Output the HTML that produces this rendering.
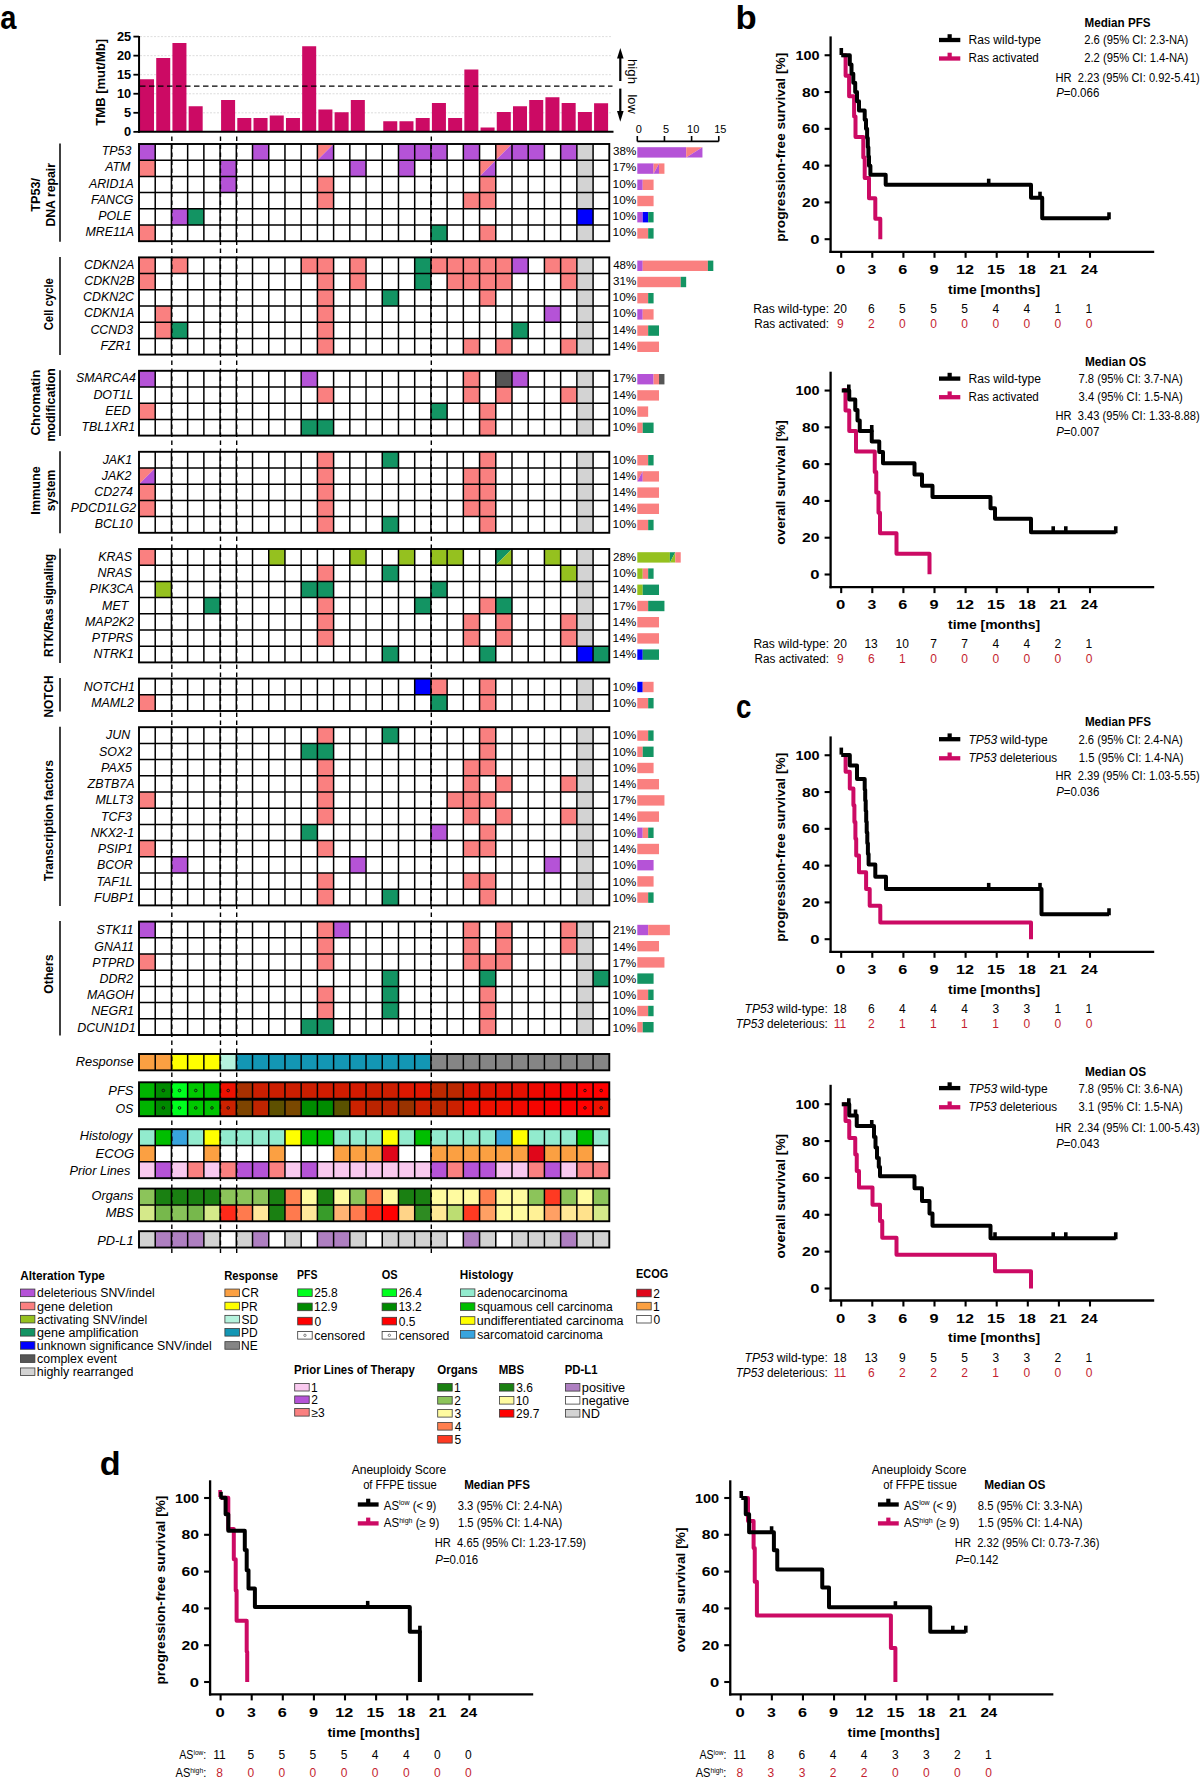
<!DOCTYPE html>
<html><head><meta charset="utf-8"><title>figure</title>
<style>
html,body{margin:0;padding:0;background:#fff;}
svg{display:block;}
text{font-family:"Liberation Sans",sans-serif;}
</style></head>
<body>
<svg width="1200" height="1781" viewBox="0 0 1200 1781" font-family="Liberation Sans, sans-serif">
<rect x="0" y="0" width="1200" height="1781" fill="#fff"/>
<text x="0.13" y="28.75" font-size="33.5" font-weight="bold" textLength="16.18" lengthAdjust="spacingAndGlyphs" xml:space="preserve">a</text>
<line x1="140.00" y1="112.80" x2="612.00" y2="112.80" stroke="#d4d4d4" stroke-width="0.8" stroke-dasharray="2,1.5"/>
<line x1="140.00" y1="93.75" x2="612.00" y2="93.75" stroke="#d4d4d4" stroke-width="0.8" stroke-dasharray="2,1.5"/>
<line x1="140.00" y1="74.70" x2="612.00" y2="74.70" stroke="#d4d4d4" stroke-width="0.8" stroke-dasharray="2,1.5"/>
<line x1="140.00" y1="55.65" x2="612.00" y2="55.65" stroke="#d4d4d4" stroke-width="0.8" stroke-dasharray="2,1.5"/>
<line x1="140.00" y1="36.60" x2="612.00" y2="36.60" stroke="#d4d4d4" stroke-width="0.8" stroke-dasharray="2,1.5"/>
<rect x="140.00" y="79.25" width="14.02" height="52.60" fill="#CC0A64"/>
<rect x="156.22" y="58.00" width="14.02" height="73.85" fill="#CC0A64"/>
<rect x="172.43" y="43.00" width="14.02" height="88.85" fill="#CC0A64"/>
<rect x="188.65" y="106.25" width="14.02" height="25.60" fill="#CC0A64"/>
<rect x="221.08" y="100.00" width="14.02" height="31.85" fill="#CC0A64"/>
<rect x="237.30" y="118.00" width="14.02" height="13.85" fill="#CC0A64"/>
<rect x="253.52" y="118.00" width="14.02" height="13.85" fill="#CC0A64"/>
<rect x="269.74" y="115.50" width="14.02" height="16.35" fill="#CC0A64"/>
<rect x="285.95" y="118.00" width="14.02" height="13.85" fill="#CC0A64"/>
<rect x="302.17" y="46.25" width="14.02" height="85.60" fill="#CC0A64"/>
<rect x="318.39" y="109.50" width="14.02" height="22.35" fill="#CC0A64"/>
<rect x="334.60" y="112.25" width="14.02" height="19.60" fill="#CC0A64"/>
<rect x="350.82" y="100.00" width="14.02" height="31.85" fill="#CC0A64"/>
<rect x="383.25" y="121.25" width="14.02" height="10.60" fill="#CC0A64"/>
<rect x="399.47" y="121.25" width="14.02" height="10.60" fill="#CC0A64"/>
<rect x="415.69" y="118.00" width="14.02" height="13.85" fill="#CC0A64"/>
<rect x="431.91" y="103.00" width="14.02" height="28.85" fill="#CC0A64"/>
<rect x="448.12" y="118.00" width="14.02" height="13.85" fill="#CC0A64"/>
<rect x="464.34" y="69.50" width="14.02" height="62.35" fill="#CC0A64"/>
<rect x="480.56" y="127.50" width="14.02" height="4.35" fill="#CC0A64"/>
<rect x="496.77" y="112.00" width="14.02" height="19.85" fill="#CC0A64"/>
<rect x="512.99" y="106.25" width="14.02" height="25.60" fill="#CC0A64"/>
<rect x="529.21" y="100.00" width="14.02" height="31.85" fill="#CC0A64"/>
<rect x="545.42" y="97.25" width="14.02" height="34.60" fill="#CC0A64"/>
<rect x="561.64" y="103.00" width="14.02" height="28.85" fill="#CC0A64"/>
<rect x="577.86" y="112.00" width="14.02" height="19.85" fill="#CC0A64"/>
<rect x="594.08" y="103.25" width="14.02" height="28.60" fill="#CC0A64"/>
<line x1="140.00" y1="86.13" x2="612.50" y2="86.13" stroke="#000" stroke-width="1.3" stroke-dasharray="5.5,3.5"/>
<line x1="139.05" y1="36.00" x2="139.05" y2="132.80" stroke="#000" stroke-width="2"/>
<line x1="138.10" y1="131.85" x2="613.50" y2="131.85" stroke="#000" stroke-width="2"/>
<line x1="133.40" y1="131.85" x2="139.00" y2="131.85" stroke="#000" stroke-width="1.8"/>
<text x="131.20" y="136.35" font-size="12.8" font-weight="bold" text-anchor="end">0</text>
<line x1="133.40" y1="112.80" x2="139.00" y2="112.80" stroke="#000" stroke-width="1.8"/>
<text x="131.20" y="117.30" font-size="12.8" font-weight="bold" text-anchor="end">5</text>
<line x1="133.40" y1="93.75" x2="139.00" y2="93.75" stroke="#000" stroke-width="1.8"/>
<text x="131.20" y="98.25" font-size="12.8" font-weight="bold" text-anchor="end">10</text>
<line x1="133.40" y1="74.70" x2="139.00" y2="74.70" stroke="#000" stroke-width="1.8"/>
<text x="131.20" y="79.20" font-size="12.8" font-weight="bold" text-anchor="end">15</text>
<line x1="133.40" y1="55.65" x2="139.00" y2="55.65" stroke="#000" stroke-width="1.8"/>
<text x="131.20" y="60.15" font-size="12.8" font-weight="bold" text-anchor="end">20</text>
<line x1="133.40" y1="36.60" x2="139.00" y2="36.60" stroke="#000" stroke-width="1.8"/>
<text x="131.20" y="41.10" font-size="12.8" font-weight="bold" text-anchor="end">25</text>
<text x="105.50" y="82.30" font-size="13" font-weight="bold" text-anchor="middle" transform="rotate(-90 105.50 82.30)">TMB [mut/Mb]</text>
<line x1="620.30" y1="57.00" x2="620.30" y2="81.00" stroke="#000" stroke-width="2.2"/>
<polygon points="617.00,58.60 623.60,58.60 620.30,48.00" fill="#000"/>
<line x1="620.30" y1="88.60" x2="620.30" y2="113.00" stroke="#000" stroke-width="2.2"/>
<polygon points="617.00,111.00 623.60,111.00 620.30,121.80" fill="#000"/>
<g transform="rotate(90 628.0 71.6)"><text x="615.42" y="71.60" font-size="12.8" textLength="25.06" lengthAdjust="spacingAndGlyphs" xml:space="preserve">high</text></g>
<g transform="rotate(90 628.0 104.5)"><text x="617.95" y="104.50" font-size="12.8" textLength="19.26" lengthAdjust="spacingAndGlyphs" xml:space="preserve">low</text></g>
<line x1="637.30" y1="141.40" x2="718.75" y2="141.40" stroke="#000" stroke-width="1.8"/>
<line x1="637.30" y1="136.00" x2="637.30" y2="141.40" stroke="#000" stroke-width="1.6"/>
<text x="638.90" y="133.30" font-size="11" text-anchor="middle">0</text>
<line x1="664.45" y1="136.00" x2="664.45" y2="141.40" stroke="#000" stroke-width="1.6"/>
<text x="666.05" y="133.30" font-size="11" text-anchor="middle">5</text>
<line x1="691.60" y1="136.00" x2="691.60" y2="141.40" stroke="#000" stroke-width="1.6"/>
<text x="693.20" y="133.30" font-size="11" text-anchor="middle">10</text>
<line x1="718.75" y1="136.00" x2="718.75" y2="141.40" stroke="#000" stroke-width="1.6"/>
<text x="720.35" y="133.30" font-size="11" text-anchor="middle">15</text>
<rect x="576.86" y="144.00" width="16.22" height="16.20" fill="#D3D3D3"/>
<rect x="139.00" y="144.00" width="16.22" height="16.20" fill="#B553D7"/>
<rect x="252.52" y="144.00" width="16.22" height="16.20" fill="#B553D7"/>
<polygon points="317.39,144.00 333.60,144.00 317.39,160.20" fill="#FA8080"/>
<polygon points="333.60,144.00 333.60,160.20 317.39,160.20" fill="#B553D7"/>
<rect x="398.47" y="144.00" width="16.22" height="16.20" fill="#B553D7"/>
<rect x="414.69" y="144.00" width="16.22" height="16.20" fill="#B553D7"/>
<rect x="430.91" y="144.00" width="16.22" height="16.20" fill="#B553D7"/>
<rect x="463.34" y="144.00" width="16.22" height="16.20" fill="#B553D7"/>
<polygon points="495.77,144.00 511.99,144.00 495.77,160.20" fill="#FA8080"/>
<polygon points="511.99,144.00 511.99,160.20 495.77,160.20" fill="#B553D7"/>
<rect x="511.99" y="144.00" width="16.22" height="16.20" fill="#B553D7"/>
<rect x="528.21" y="144.00" width="16.22" height="16.20" fill="#B553D7"/>
<rect x="560.64" y="144.00" width="16.22" height="16.20" fill="#B553D7"/>
<rect x="576.86" y="160.20" width="16.22" height="16.20" fill="#D3D3D3"/>
<rect x="139.00" y="160.20" width="16.22" height="16.20" fill="#FA8080"/>
<rect x="220.08" y="160.20" width="16.22" height="16.20" fill="#B553D7"/>
<rect x="349.82" y="160.20" width="16.22" height="16.20" fill="#B553D7"/>
<rect x="398.47" y="160.20" width="16.22" height="16.20" fill="#B553D7"/>
<polygon points="479.56,160.20 495.77,160.20 479.56,176.40" fill="#FA8080"/>
<polygon points="495.77,160.20 495.77,176.40 479.56,176.40" fill="#B553D7"/>
<rect x="576.86" y="176.40" width="16.22" height="16.20" fill="#D3D3D3"/>
<rect x="220.08" y="176.40" width="16.22" height="16.20" fill="#B553D7"/>
<rect x="317.39" y="176.40" width="16.22" height="16.20" fill="#FA8080"/>
<rect x="479.56" y="176.40" width="16.22" height="16.20" fill="#FA8080"/>
<rect x="576.86" y="192.60" width="16.22" height="16.20" fill="#D3D3D3"/>
<rect x="317.39" y="192.60" width="16.22" height="16.20" fill="#FA8080"/>
<rect x="463.34" y="192.60" width="16.22" height="16.20" fill="#FA8080"/>
<rect x="479.56" y="192.60" width="16.22" height="16.20" fill="#FA8080"/>
<rect x="171.43" y="208.80" width="16.22" height="16.20" fill="#B553D7"/>
<rect x="187.65" y="208.80" width="16.22" height="16.20" fill="#139463"/>
<rect x="576.86" y="208.80" width="16.22" height="16.20" fill="#0000FF"/>
<rect x="576.86" y="225.00" width="16.22" height="16.20" fill="#D3D3D3"/>
<rect x="139.00" y="225.00" width="16.22" height="16.20" fill="#FA8080"/>
<rect x="430.91" y="225.00" width="16.22" height="16.20" fill="#139463"/>
<rect x="479.56" y="225.00" width="16.22" height="16.20" fill="#FA8080"/>
<line x1="155.22" y1="144.00" x2="155.22" y2="241.20" stroke="#000" stroke-width="1.5"/>
<line x1="171.43" y1="144.00" x2="171.43" y2="241.20" stroke="#000" stroke-width="1.5"/>
<line x1="187.65" y1="144.00" x2="187.65" y2="241.20" stroke="#000" stroke-width="1.5"/>
<line x1="203.87" y1="144.00" x2="203.87" y2="241.20" stroke="#000" stroke-width="1.5"/>
<line x1="220.08" y1="144.00" x2="220.08" y2="241.20" stroke="#000" stroke-width="1.5"/>
<line x1="236.30" y1="144.00" x2="236.30" y2="241.20" stroke="#000" stroke-width="1.5"/>
<line x1="252.52" y1="144.00" x2="252.52" y2="241.20" stroke="#000" stroke-width="1.5"/>
<line x1="268.74" y1="144.00" x2="268.74" y2="241.20" stroke="#000" stroke-width="1.5"/>
<line x1="284.95" y1="144.00" x2="284.95" y2="241.20" stroke="#000" stroke-width="1.5"/>
<line x1="301.17" y1="144.00" x2="301.17" y2="241.20" stroke="#000" stroke-width="1.5"/>
<line x1="317.39" y1="144.00" x2="317.39" y2="241.20" stroke="#000" stroke-width="1.5"/>
<line x1="333.60" y1="144.00" x2="333.60" y2="241.20" stroke="#000" stroke-width="1.5"/>
<line x1="349.82" y1="144.00" x2="349.82" y2="241.20" stroke="#000" stroke-width="1.5"/>
<line x1="366.04" y1="144.00" x2="366.04" y2="241.20" stroke="#000" stroke-width="1.5"/>
<line x1="382.25" y1="144.00" x2="382.25" y2="241.20" stroke="#000" stroke-width="1.5"/>
<line x1="398.47" y1="144.00" x2="398.47" y2="241.20" stroke="#000" stroke-width="1.5"/>
<line x1="414.69" y1="144.00" x2="414.69" y2="241.20" stroke="#000" stroke-width="1.5"/>
<line x1="430.91" y1="144.00" x2="430.91" y2="241.20" stroke="#000" stroke-width="1.5"/>
<line x1="447.12" y1="144.00" x2="447.12" y2="241.20" stroke="#000" stroke-width="1.5"/>
<line x1="463.34" y1="144.00" x2="463.34" y2="241.20" stroke="#000" stroke-width="1.5"/>
<line x1="479.56" y1="144.00" x2="479.56" y2="241.20" stroke="#000" stroke-width="1.5"/>
<line x1="495.77" y1="144.00" x2="495.77" y2="241.20" stroke="#000" stroke-width="1.5"/>
<line x1="511.99" y1="144.00" x2="511.99" y2="241.20" stroke="#000" stroke-width="1.5"/>
<line x1="528.21" y1="144.00" x2="528.21" y2="241.20" stroke="#000" stroke-width="1.5"/>
<line x1="544.42" y1="144.00" x2="544.42" y2="241.20" stroke="#000" stroke-width="1.5"/>
<line x1="560.64" y1="144.00" x2="560.64" y2="241.20" stroke="#000" stroke-width="1.5"/>
<line x1="576.86" y1="144.00" x2="576.86" y2="241.20" stroke="#000" stroke-width="1.5"/>
<line x1="593.08" y1="144.00" x2="593.08" y2="241.20" stroke="#000" stroke-width="1.5"/>
<line x1="139.00" y1="160.20" x2="609.29" y2="160.20" stroke="#000" stroke-width="1.5"/>
<line x1="139.00" y1="176.40" x2="609.29" y2="176.40" stroke="#000" stroke-width="1.5"/>
<line x1="139.00" y1="192.60" x2="609.29" y2="192.60" stroke="#000" stroke-width="1.5"/>
<line x1="139.00" y1="208.80" x2="609.29" y2="208.80" stroke="#000" stroke-width="1.5"/>
<line x1="139.00" y1="225.00" x2="609.29" y2="225.00" stroke="#000" stroke-width="1.5"/>
<rect x="139.00" y="144.00" width="470.29" height="97.20" fill="none" stroke="#000" stroke-width="1.9"/>
<text x="101.75" y="155.05" font-size="12.4" font-style="italic" xml:space="preserve">TP53</text>
<text x="613.03" y="155.05" font-size="11.2" textLength="23.20" lengthAdjust="spacingAndGlyphs" xml:space="preserve">38%</text>
<rect x="637.30" y="147.20" width="48.87" height="10.40" fill="#B553D7"/>
<polygon points="686.17,147.20 702.46,147.20 686.17,157.60" fill="#FA8080"/>
<polygon points="702.46,147.20 702.46,157.60 686.17,157.60" fill="#B553D7"/>
<text x="105.20" y="171.28" font-size="12.4" font-style="italic" xml:space="preserve">ATM</text>
<text x="612.60" y="171.28" font-size="11.2" textLength="23.64" lengthAdjust="spacingAndGlyphs" xml:space="preserve">17%</text>
<rect x="637.30" y="163.40" width="16.29" height="10.40" fill="#B553D7"/>
<polygon points="653.59,163.40 659.02,163.40 653.59,173.80" fill="#FA8080"/>
<polygon points="659.02,163.40 659.02,173.80 653.59,173.80" fill="#B553D7"/>
<rect x="659.02" y="163.40" width="5.43" height="10.40" fill="#FA8080"/>
<text x="88.90" y="187.52" font-size="12.4" font-style="italic" xml:space="preserve">ARID1A</text>
<text x="612.60" y="187.52" font-size="11.2" textLength="23.64" lengthAdjust="spacingAndGlyphs" xml:space="preserve">10%</text>
<rect x="637.30" y="179.60" width="5.43" height="10.40" fill="#B553D7"/>
<rect x="642.73" y="179.60" width="10.86" height="10.40" fill="#FA8080"/>
<text x="91.05" y="203.75" font-size="12.4" font-style="italic" xml:space="preserve">FANCG</text>
<text x="612.60" y="203.75" font-size="11.2" textLength="23.64" lengthAdjust="spacingAndGlyphs" xml:space="preserve">10%</text>
<rect x="637.30" y="195.80" width="16.29" height="10.40" fill="#FA8080"/>
<text x="98.30" y="219.99" font-size="12.4" font-style="italic" xml:space="preserve">POLE</text>
<text x="612.60" y="219.99" font-size="11.2" textLength="23.64" lengthAdjust="spacingAndGlyphs" xml:space="preserve">10%</text>
<rect x="637.30" y="212.00" width="5.43" height="10.40" fill="#B553D7"/>
<rect x="642.73" y="212.00" width="5.43" height="10.40" fill="#0000FF"/>
<rect x="648.16" y="212.00" width="5.43" height="10.40" fill="#139463"/>
<text x="85.45" y="236.22" font-size="12.4" font-style="italic" xml:space="preserve">MRE11A</text>
<text x="612.60" y="236.22" font-size="11.2" textLength="23.64" lengthAdjust="spacingAndGlyphs" xml:space="preserve">10%</text>
<rect x="637.30" y="228.20" width="10.86" height="10.40" fill="#FA8080"/>
<rect x="648.16" y="228.20" width="5.43" height="10.40" fill="#139463"/>
<line x1="60.00" y1="143.50" x2="60.00" y2="241.70" stroke="#000" stroke-width="1.5"/>
<g transform="rotate(-90 39.50 194.75)"><text x="22.61" y="194.75" font-size="13.4" font-weight="bold" textLength="33.74" lengthAdjust="spacingAndGlyphs" xml:space="preserve">TP53/</text></g>
<g transform="rotate(-90 55.00 194.50)"><text x="22.88" y="194.50" font-size="13.4" font-weight="bold" textLength="63.61" lengthAdjust="spacingAndGlyphs" xml:space="preserve">DNA repair</text></g>
<rect x="576.86" y="257.40" width="16.22" height="16.20" fill="#D3D3D3"/>
<rect x="139.00" y="257.40" width="16.22" height="16.20" fill="#FA8080"/>
<rect x="171.43" y="257.40" width="16.22" height="16.20" fill="#FA8080"/>
<rect x="301.17" y="257.40" width="16.22" height="16.20" fill="#FA8080"/>
<rect x="317.39" y="257.40" width="16.22" height="16.20" fill="#FA8080"/>
<rect x="349.82" y="257.40" width="16.22" height="16.20" fill="#FA8080"/>
<rect x="414.69" y="257.40" width="16.22" height="16.20" fill="#139463"/>
<rect x="430.91" y="257.40" width="16.22" height="16.20" fill="#FA8080"/>
<rect x="447.12" y="257.40" width="16.22" height="16.20" fill="#FA8080"/>
<rect x="463.34" y="257.40" width="16.22" height="16.20" fill="#FA8080"/>
<rect x="479.56" y="257.40" width="16.22" height="16.20" fill="#FA8080"/>
<rect x="495.77" y="257.40" width="16.22" height="16.20" fill="#FA8080"/>
<rect x="511.99" y="257.40" width="16.22" height="16.20" fill="#B553D7"/>
<rect x="544.42" y="257.40" width="16.22" height="16.20" fill="#FA8080"/>
<rect x="560.64" y="257.40" width="16.22" height="16.20" fill="#FA8080"/>
<rect x="576.86" y="273.60" width="16.22" height="16.20" fill="#D3D3D3"/>
<rect x="139.00" y="273.60" width="16.22" height="16.20" fill="#FA8080"/>
<rect x="317.39" y="273.60" width="16.22" height="16.20" fill="#FA8080"/>
<rect x="349.82" y="273.60" width="16.22" height="16.20" fill="#FA8080"/>
<rect x="414.69" y="273.60" width="16.22" height="16.20" fill="#139463"/>
<rect x="447.12" y="273.60" width="16.22" height="16.20" fill="#FA8080"/>
<rect x="463.34" y="273.60" width="16.22" height="16.20" fill="#FA8080"/>
<rect x="479.56" y="273.60" width="16.22" height="16.20" fill="#FA8080"/>
<rect x="495.77" y="273.60" width="16.22" height="16.20" fill="#FA8080"/>
<rect x="560.64" y="273.60" width="16.22" height="16.20" fill="#FA8080"/>
<rect x="576.86" y="289.80" width="16.22" height="16.20" fill="#D3D3D3"/>
<rect x="317.39" y="289.80" width="16.22" height="16.20" fill="#FA8080"/>
<rect x="382.25" y="289.80" width="16.22" height="16.20" fill="#139463"/>
<rect x="479.56" y="289.80" width="16.22" height="16.20" fill="#FA8080"/>
<rect x="576.86" y="306.00" width="16.22" height="16.20" fill="#D3D3D3"/>
<rect x="155.22" y="306.00" width="16.22" height="16.20" fill="#FA8080"/>
<rect x="317.39" y="306.00" width="16.22" height="16.20" fill="#FA8080"/>
<rect x="544.42" y="306.00" width="16.22" height="16.20" fill="#B553D7"/>
<rect x="576.86" y="322.20" width="16.22" height="16.20" fill="#D3D3D3"/>
<rect x="155.22" y="322.20" width="16.22" height="16.20" fill="#FA8080"/>
<rect x="171.43" y="322.20" width="16.22" height="16.20" fill="#139463"/>
<rect x="317.39" y="322.20" width="16.22" height="16.20" fill="#FA8080"/>
<rect x="511.99" y="322.20" width="16.22" height="16.20" fill="#139463"/>
<rect x="576.86" y="338.40" width="16.22" height="16.20" fill="#D3D3D3"/>
<rect x="317.39" y="338.40" width="16.22" height="16.20" fill="#FA8080"/>
<rect x="463.34" y="338.40" width="16.22" height="16.20" fill="#FA8080"/>
<rect x="495.77" y="338.40" width="16.22" height="16.20" fill="#FA8080"/>
<rect x="560.64" y="338.40" width="16.22" height="16.20" fill="#FA8080"/>
<line x1="155.22" y1="257.40" x2="155.22" y2="354.60" stroke="#000" stroke-width="1.5"/>
<line x1="171.43" y1="257.40" x2="171.43" y2="354.60" stroke="#000" stroke-width="1.5"/>
<line x1="187.65" y1="257.40" x2="187.65" y2="354.60" stroke="#000" stroke-width="1.5"/>
<line x1="203.87" y1="257.40" x2="203.87" y2="354.60" stroke="#000" stroke-width="1.5"/>
<line x1="220.08" y1="257.40" x2="220.08" y2="354.60" stroke="#000" stroke-width="1.5"/>
<line x1="236.30" y1="257.40" x2="236.30" y2="354.60" stroke="#000" stroke-width="1.5"/>
<line x1="252.52" y1="257.40" x2="252.52" y2="354.60" stroke="#000" stroke-width="1.5"/>
<line x1="268.74" y1="257.40" x2="268.74" y2="354.60" stroke="#000" stroke-width="1.5"/>
<line x1="284.95" y1="257.40" x2="284.95" y2="354.60" stroke="#000" stroke-width="1.5"/>
<line x1="301.17" y1="257.40" x2="301.17" y2="354.60" stroke="#000" stroke-width="1.5"/>
<line x1="317.39" y1="257.40" x2="317.39" y2="354.60" stroke="#000" stroke-width="1.5"/>
<line x1="333.60" y1="257.40" x2="333.60" y2="354.60" stroke="#000" stroke-width="1.5"/>
<line x1="349.82" y1="257.40" x2="349.82" y2="354.60" stroke="#000" stroke-width="1.5"/>
<line x1="366.04" y1="257.40" x2="366.04" y2="354.60" stroke="#000" stroke-width="1.5"/>
<line x1="382.25" y1="257.40" x2="382.25" y2="354.60" stroke="#000" stroke-width="1.5"/>
<line x1="398.47" y1="257.40" x2="398.47" y2="354.60" stroke="#000" stroke-width="1.5"/>
<line x1="414.69" y1="257.40" x2="414.69" y2="354.60" stroke="#000" stroke-width="1.5"/>
<line x1="430.91" y1="257.40" x2="430.91" y2="354.60" stroke="#000" stroke-width="1.5"/>
<line x1="447.12" y1="257.40" x2="447.12" y2="354.60" stroke="#000" stroke-width="1.5"/>
<line x1="463.34" y1="257.40" x2="463.34" y2="354.60" stroke="#000" stroke-width="1.5"/>
<line x1="479.56" y1="257.40" x2="479.56" y2="354.60" stroke="#000" stroke-width="1.5"/>
<line x1="495.77" y1="257.40" x2="495.77" y2="354.60" stroke="#000" stroke-width="1.5"/>
<line x1="511.99" y1="257.40" x2="511.99" y2="354.60" stroke="#000" stroke-width="1.5"/>
<line x1="528.21" y1="257.40" x2="528.21" y2="354.60" stroke="#000" stroke-width="1.5"/>
<line x1="544.42" y1="257.40" x2="544.42" y2="354.60" stroke="#000" stroke-width="1.5"/>
<line x1="560.64" y1="257.40" x2="560.64" y2="354.60" stroke="#000" stroke-width="1.5"/>
<line x1="576.86" y1="257.40" x2="576.86" y2="354.60" stroke="#000" stroke-width="1.5"/>
<line x1="593.08" y1="257.40" x2="593.08" y2="354.60" stroke="#000" stroke-width="1.5"/>
<line x1="139.00" y1="273.60" x2="609.29" y2="273.60" stroke="#000" stroke-width="1.5"/>
<line x1="139.00" y1="289.80" x2="609.29" y2="289.80" stroke="#000" stroke-width="1.5"/>
<line x1="139.00" y1="306.00" x2="609.29" y2="306.00" stroke="#000" stroke-width="1.5"/>
<line x1="139.00" y1="322.20" x2="609.29" y2="322.20" stroke="#000" stroke-width="1.5"/>
<line x1="139.00" y1="338.40" x2="609.29" y2="338.40" stroke="#000" stroke-width="1.5"/>
<rect x="139.00" y="257.40" width="470.29" height="97.20" fill="none" stroke="#000" stroke-width="1.9"/>
<text x="83.95" y="268.69" font-size="12.4" font-style="italic" xml:space="preserve">CDKN2A</text>
<text x="613.24" y="268.69" font-size="11.2" textLength="22.98" lengthAdjust="spacingAndGlyphs" xml:space="preserve">48%</text>
<rect x="637.30" y="260.60" width="5.43" height="10.40" fill="#B553D7"/>
<rect x="642.73" y="260.60" width="65.16" height="10.40" fill="#FA8080"/>
<rect x="707.89" y="260.60" width="5.43" height="10.40" fill="#139463"/>
<text x="84.20" y="284.92" font-size="12.4" font-style="italic" xml:space="preserve">CDKN2B</text>
<text x="613.03" y="284.92" font-size="11.2" textLength="23.20" lengthAdjust="spacingAndGlyphs" xml:space="preserve">31%</text>
<rect x="637.30" y="276.80" width="43.44" height="10.40" fill="#FA8080"/>
<rect x="680.74" y="276.80" width="5.43" height="10.40" fill="#139463"/>
<text x="83.05" y="301.16" font-size="12.4" font-style="italic" xml:space="preserve">CDKN2C</text>
<text x="612.60" y="301.16" font-size="11.2" textLength="23.64" lengthAdjust="spacingAndGlyphs" xml:space="preserve">10%</text>
<rect x="637.30" y="293.00" width="10.86" height="10.40" fill="#FA8080"/>
<rect x="648.16" y="293.00" width="5.43" height="10.40" fill="#139463"/>
<text x="83.95" y="317.39" font-size="12.4" font-style="italic" xml:space="preserve">CDKN1A</text>
<text x="612.60" y="317.39" font-size="11.2" textLength="23.64" lengthAdjust="spacingAndGlyphs" xml:space="preserve">10%</text>
<rect x="637.30" y="309.20" width="5.43" height="10.40" fill="#B553D7"/>
<rect x="642.73" y="309.20" width="10.86" height="10.40" fill="#FA8080"/>
<text x="90.40" y="333.63" font-size="12.4" font-style="italic" xml:space="preserve">CCND3</text>
<text x="612.60" y="333.63" font-size="11.2" textLength="23.64" lengthAdjust="spacingAndGlyphs" xml:space="preserve">14%</text>
<rect x="637.30" y="325.40" width="10.86" height="10.40" fill="#FA8080"/>
<rect x="648.16" y="325.40" width="10.86" height="10.40" fill="#139463"/>
<text x="100.45" y="349.86" font-size="12.4" font-style="italic" xml:space="preserve">FZR1</text>
<text x="612.60" y="349.86" font-size="11.2" textLength="23.64" lengthAdjust="spacingAndGlyphs" xml:space="preserve">14%</text>
<rect x="637.30" y="341.60" width="21.72" height="10.40" fill="#FA8080"/>
<line x1="60.00" y1="256.90" x2="60.00" y2="355.10" stroke="#000" stroke-width="1.5"/>
<g transform="rotate(-90 53.30 304.20)"><text x="27.19" y="304.20" font-size="13.4" font-weight="bold" textLength="52.13" lengthAdjust="spacingAndGlyphs" xml:space="preserve">Cell cycle</text></g>
<rect x="576.86" y="370.80" width="16.22" height="16.20" fill="#D3D3D3"/>
<rect x="139.00" y="370.80" width="16.22" height="16.20" fill="#B553D7"/>
<rect x="301.17" y="370.80" width="16.22" height="16.20" fill="#B553D7"/>
<rect x="463.34" y="370.80" width="16.22" height="16.20" fill="#FA8080"/>
<rect x="495.77" y="370.80" width="16.22" height="16.20" fill="#555555"/>
<rect x="511.99" y="370.80" width="16.22" height="16.20" fill="#B553D7"/>
<rect x="576.86" y="387.00" width="16.22" height="16.20" fill="#D3D3D3"/>
<rect x="317.39" y="387.00" width="16.22" height="16.20" fill="#FA8080"/>
<rect x="463.34" y="387.00" width="16.22" height="16.20" fill="#FA8080"/>
<rect x="495.77" y="387.00" width="16.22" height="16.20" fill="#FA8080"/>
<rect x="560.64" y="387.00" width="16.22" height="16.20" fill="#FA8080"/>
<rect x="576.86" y="403.20" width="16.22" height="16.20" fill="#D3D3D3"/>
<rect x="139.00" y="403.20" width="16.22" height="16.20" fill="#FA8080"/>
<rect x="430.91" y="403.20" width="16.22" height="16.20" fill="#139463"/>
<rect x="479.56" y="403.20" width="16.22" height="16.20" fill="#FA8080"/>
<rect x="576.86" y="419.40" width="16.22" height="16.20" fill="#D3D3D3"/>
<rect x="301.17" y="419.40" width="16.22" height="16.20" fill="#139463"/>
<rect x="317.39" y="419.40" width="16.22" height="16.20" fill="#139463"/>
<rect x="479.56" y="419.40" width="16.22" height="16.20" fill="#FA8080"/>
<line x1="155.22" y1="370.80" x2="155.22" y2="435.60" stroke="#000" stroke-width="1.5"/>
<line x1="171.43" y1="370.80" x2="171.43" y2="435.60" stroke="#000" stroke-width="1.5"/>
<line x1="187.65" y1="370.80" x2="187.65" y2="435.60" stroke="#000" stroke-width="1.5"/>
<line x1="203.87" y1="370.80" x2="203.87" y2="435.60" stroke="#000" stroke-width="1.5"/>
<line x1="220.08" y1="370.80" x2="220.08" y2="435.60" stroke="#000" stroke-width="1.5"/>
<line x1="236.30" y1="370.80" x2="236.30" y2="435.60" stroke="#000" stroke-width="1.5"/>
<line x1="252.52" y1="370.80" x2="252.52" y2="435.60" stroke="#000" stroke-width="1.5"/>
<line x1="268.74" y1="370.80" x2="268.74" y2="435.60" stroke="#000" stroke-width="1.5"/>
<line x1="284.95" y1="370.80" x2="284.95" y2="435.60" stroke="#000" stroke-width="1.5"/>
<line x1="301.17" y1="370.80" x2="301.17" y2="435.60" stroke="#000" stroke-width="1.5"/>
<line x1="317.39" y1="370.80" x2="317.39" y2="435.60" stroke="#000" stroke-width="1.5"/>
<line x1="333.60" y1="370.80" x2="333.60" y2="435.60" stroke="#000" stroke-width="1.5"/>
<line x1="349.82" y1="370.80" x2="349.82" y2="435.60" stroke="#000" stroke-width="1.5"/>
<line x1="366.04" y1="370.80" x2="366.04" y2="435.60" stroke="#000" stroke-width="1.5"/>
<line x1="382.25" y1="370.80" x2="382.25" y2="435.60" stroke="#000" stroke-width="1.5"/>
<line x1="398.47" y1="370.80" x2="398.47" y2="435.60" stroke="#000" stroke-width="1.5"/>
<line x1="414.69" y1="370.80" x2="414.69" y2="435.60" stroke="#000" stroke-width="1.5"/>
<line x1="430.91" y1="370.80" x2="430.91" y2="435.60" stroke="#000" stroke-width="1.5"/>
<line x1="447.12" y1="370.80" x2="447.12" y2="435.60" stroke="#000" stroke-width="1.5"/>
<line x1="463.34" y1="370.80" x2="463.34" y2="435.60" stroke="#000" stroke-width="1.5"/>
<line x1="479.56" y1="370.80" x2="479.56" y2="435.60" stroke="#000" stroke-width="1.5"/>
<line x1="495.77" y1="370.80" x2="495.77" y2="435.60" stroke="#000" stroke-width="1.5"/>
<line x1="511.99" y1="370.80" x2="511.99" y2="435.60" stroke="#000" stroke-width="1.5"/>
<line x1="528.21" y1="370.80" x2="528.21" y2="435.60" stroke="#000" stroke-width="1.5"/>
<line x1="544.42" y1="370.80" x2="544.42" y2="435.60" stroke="#000" stroke-width="1.5"/>
<line x1="560.64" y1="370.80" x2="560.64" y2="435.60" stroke="#000" stroke-width="1.5"/>
<line x1="576.86" y1="370.80" x2="576.86" y2="435.60" stroke="#000" stroke-width="1.5"/>
<line x1="593.08" y1="370.80" x2="593.08" y2="435.60" stroke="#000" stroke-width="1.5"/>
<line x1="139.00" y1="387.00" x2="609.29" y2="387.00" stroke="#000" stroke-width="1.5"/>
<line x1="139.00" y1="403.20" x2="609.29" y2="403.20" stroke="#000" stroke-width="1.5"/>
<line x1="139.00" y1="419.40" x2="609.29" y2="419.40" stroke="#000" stroke-width="1.5"/>
<rect x="139.00" y="370.80" width="470.29" height="64.80" fill="none" stroke="#000" stroke-width="1.9"/>
<text x="75.90" y="382.33" font-size="12.4" font-style="italic" xml:space="preserve">SMARCA4</text>
<text x="612.60" y="382.33" font-size="11.2" textLength="23.64" lengthAdjust="spacingAndGlyphs" xml:space="preserve">17%</text>
<rect x="637.30" y="374.00" width="16.29" height="10.40" fill="#B553D7"/>
<rect x="653.59" y="374.00" width="5.43" height="10.40" fill="#FA8080"/>
<rect x="659.02" y="374.00" width="5.43" height="10.40" fill="#555555"/>
<text x="93.40" y="398.56" font-size="12.4" font-style="italic" xml:space="preserve">DOT1L</text>
<text x="612.60" y="398.56" font-size="11.2" textLength="23.64" lengthAdjust="spacingAndGlyphs" xml:space="preserve">14%</text>
<rect x="637.30" y="390.20" width="21.72" height="10.40" fill="#FA8080"/>
<text x="105.30" y="414.80" font-size="12.4" font-style="italic" xml:space="preserve">EED</text>
<text x="612.60" y="414.80" font-size="11.2" textLength="23.64" lengthAdjust="spacingAndGlyphs" xml:space="preserve">10%</text>
<rect x="637.30" y="406.40" width="10.86" height="10.40" fill="#FA8080"/>
<text x="81.40" y="431.03" font-size="12.4" font-style="italic" xml:space="preserve">TBL1XR1</text>
<text x="612.60" y="431.03" font-size="11.2" textLength="23.64" lengthAdjust="spacingAndGlyphs" xml:space="preserve">10%</text>
<rect x="637.30" y="422.60" width="5.43" height="10.40" fill="#FA8080"/>
<rect x="642.73" y="422.60" width="10.86" height="10.40" fill="#139463"/>
<line x1="60.00" y1="370.30" x2="60.00" y2="436.10" stroke="#000" stroke-width="1.5"/>
<g transform="rotate(-90 40.40 402.70)"><text x="7.66" y="402.70" font-size="13.4" font-weight="bold" textLength="65.77" lengthAdjust="spacingAndGlyphs" xml:space="preserve">Chromatin</text></g>
<g transform="rotate(-90 55.00 404.75)"><text x="18.32" y="404.75" font-size="13.4" font-weight="bold" textLength="73.31" lengthAdjust="spacingAndGlyphs" xml:space="preserve">modification</text></g>
<rect x="576.86" y="451.80" width="16.22" height="16.20" fill="#D3D3D3"/>
<rect x="317.39" y="451.80" width="16.22" height="16.20" fill="#FA8080"/>
<rect x="382.25" y="451.80" width="16.22" height="16.20" fill="#139463"/>
<rect x="479.56" y="451.80" width="16.22" height="16.20" fill="#FA8080"/>
<rect x="576.86" y="468.00" width="16.22" height="16.20" fill="#D3D3D3"/>
<polygon points="139.00,468.00 155.22,468.00 139.00,484.20" fill="#FA8080"/>
<polygon points="155.22,468.00 155.22,484.20 139.00,484.20" fill="#B553D7"/>
<rect x="317.39" y="468.00" width="16.22" height="16.20" fill="#FA8080"/>
<rect x="463.34" y="468.00" width="16.22" height="16.20" fill="#FA8080"/>
<rect x="479.56" y="468.00" width="16.22" height="16.20" fill="#FA8080"/>
<rect x="576.86" y="484.20" width="16.22" height="16.20" fill="#D3D3D3"/>
<rect x="139.00" y="484.20" width="16.22" height="16.20" fill="#FA8080"/>
<rect x="317.39" y="484.20" width="16.22" height="16.20" fill="#FA8080"/>
<rect x="463.34" y="484.20" width="16.22" height="16.20" fill="#FA8080"/>
<rect x="479.56" y="484.20" width="16.22" height="16.20" fill="#FA8080"/>
<rect x="576.86" y="500.40" width="16.22" height="16.20" fill="#D3D3D3"/>
<rect x="139.00" y="500.40" width="16.22" height="16.20" fill="#FA8080"/>
<rect x="317.39" y="500.40" width="16.22" height="16.20" fill="#FA8080"/>
<rect x="463.34" y="500.40" width="16.22" height="16.20" fill="#FA8080"/>
<rect x="479.56" y="500.40" width="16.22" height="16.20" fill="#FA8080"/>
<rect x="576.86" y="516.60" width="16.22" height="16.20" fill="#D3D3D3"/>
<rect x="317.39" y="516.60" width="16.22" height="16.20" fill="#FA8080"/>
<rect x="382.25" y="516.60" width="16.22" height="16.20" fill="#139463"/>
<rect x="479.56" y="516.60" width="16.22" height="16.20" fill="#FA8080"/>
<line x1="155.22" y1="451.80" x2="155.22" y2="532.80" stroke="#000" stroke-width="1.5"/>
<line x1="171.43" y1="451.80" x2="171.43" y2="532.80" stroke="#000" stroke-width="1.5"/>
<line x1="187.65" y1="451.80" x2="187.65" y2="532.80" stroke="#000" stroke-width="1.5"/>
<line x1="203.87" y1="451.80" x2="203.87" y2="532.80" stroke="#000" stroke-width="1.5"/>
<line x1="220.08" y1="451.80" x2="220.08" y2="532.80" stroke="#000" stroke-width="1.5"/>
<line x1="236.30" y1="451.80" x2="236.30" y2="532.80" stroke="#000" stroke-width="1.5"/>
<line x1="252.52" y1="451.80" x2="252.52" y2="532.80" stroke="#000" stroke-width="1.5"/>
<line x1="268.74" y1="451.80" x2="268.74" y2="532.80" stroke="#000" stroke-width="1.5"/>
<line x1="284.95" y1="451.80" x2="284.95" y2="532.80" stroke="#000" stroke-width="1.5"/>
<line x1="301.17" y1="451.80" x2="301.17" y2="532.80" stroke="#000" stroke-width="1.5"/>
<line x1="317.39" y1="451.80" x2="317.39" y2="532.80" stroke="#000" stroke-width="1.5"/>
<line x1="333.60" y1="451.80" x2="333.60" y2="532.80" stroke="#000" stroke-width="1.5"/>
<line x1="349.82" y1="451.80" x2="349.82" y2="532.80" stroke="#000" stroke-width="1.5"/>
<line x1="366.04" y1="451.80" x2="366.04" y2="532.80" stroke="#000" stroke-width="1.5"/>
<line x1="382.25" y1="451.80" x2="382.25" y2="532.80" stroke="#000" stroke-width="1.5"/>
<line x1="398.47" y1="451.80" x2="398.47" y2="532.80" stroke="#000" stroke-width="1.5"/>
<line x1="414.69" y1="451.80" x2="414.69" y2="532.80" stroke="#000" stroke-width="1.5"/>
<line x1="430.91" y1="451.80" x2="430.91" y2="532.80" stroke="#000" stroke-width="1.5"/>
<line x1="447.12" y1="451.80" x2="447.12" y2="532.80" stroke="#000" stroke-width="1.5"/>
<line x1="463.34" y1="451.80" x2="463.34" y2="532.80" stroke="#000" stroke-width="1.5"/>
<line x1="479.56" y1="451.80" x2="479.56" y2="532.80" stroke="#000" stroke-width="1.5"/>
<line x1="495.77" y1="451.80" x2="495.77" y2="532.80" stroke="#000" stroke-width="1.5"/>
<line x1="511.99" y1="451.80" x2="511.99" y2="532.80" stroke="#000" stroke-width="1.5"/>
<line x1="528.21" y1="451.80" x2="528.21" y2="532.80" stroke="#000" stroke-width="1.5"/>
<line x1="544.42" y1="451.80" x2="544.42" y2="532.80" stroke="#000" stroke-width="1.5"/>
<line x1="560.64" y1="451.80" x2="560.64" y2="532.80" stroke="#000" stroke-width="1.5"/>
<line x1="576.86" y1="451.80" x2="576.86" y2="532.80" stroke="#000" stroke-width="1.5"/>
<line x1="593.08" y1="451.80" x2="593.08" y2="532.80" stroke="#000" stroke-width="1.5"/>
<line x1="139.00" y1="468.00" x2="609.29" y2="468.00" stroke="#000" stroke-width="1.5"/>
<line x1="139.00" y1="484.20" x2="609.29" y2="484.20" stroke="#000" stroke-width="1.5"/>
<line x1="139.00" y1="500.40" x2="609.29" y2="500.40" stroke="#000" stroke-width="1.5"/>
<line x1="139.00" y1="516.60" x2="609.29" y2="516.60" stroke="#000" stroke-width="1.5"/>
<rect x="139.00" y="451.80" width="470.29" height="81.00" fill="none" stroke="#000" stroke-width="1.9"/>
<text x="102.65" y="463.50" font-size="12.4" font-style="italic" xml:space="preserve">JAK1</text>
<text x="612.60" y="463.50" font-size="11.2" textLength="23.64" lengthAdjust="spacingAndGlyphs" xml:space="preserve">10%</text>
<rect x="637.30" y="455.00" width="10.86" height="10.40" fill="#FA8080"/>
<rect x="648.16" y="455.00" width="5.43" height="10.40" fill="#139463"/>
<text x="101.80" y="479.74" font-size="12.4" font-style="italic" xml:space="preserve">JAK2</text>
<text x="612.60" y="479.74" font-size="11.2" textLength="23.64" lengthAdjust="spacingAndGlyphs" xml:space="preserve">14%</text>
<polygon points="637.30,471.20 642.73,471.20 637.30,481.60" fill="#FA8080"/>
<polygon points="642.73,471.20 642.73,481.60 637.30,481.60" fill="#B553D7"/>
<rect x="642.73" y="471.20" width="16.29" height="10.40" fill="#FA8080"/>
<text x="94.35" y="495.97" font-size="12.4" font-style="italic" xml:space="preserve">CD274</text>
<text x="612.60" y="495.97" font-size="11.2" textLength="23.64" lengthAdjust="spacingAndGlyphs" xml:space="preserve">14%</text>
<rect x="637.30" y="487.40" width="21.72" height="10.40" fill="#FA8080"/>
<text x="70.75" y="512.20" font-size="12.4" font-style="italic" xml:space="preserve">PDCD1LG2</text>
<text x="612.60" y="512.20" font-size="11.2" textLength="23.64" lengthAdjust="spacingAndGlyphs" xml:space="preserve">14%</text>
<rect x="637.30" y="503.60" width="21.72" height="10.40" fill="#FA8080"/>
<text x="94.70" y="528.44" font-size="12.4" font-style="italic" xml:space="preserve">BCL10</text>
<text x="612.60" y="528.44" font-size="11.2" textLength="23.64" lengthAdjust="spacingAndGlyphs" xml:space="preserve">10%</text>
<rect x="637.30" y="519.80" width="10.86" height="10.40" fill="#FA8080"/>
<rect x="648.16" y="519.80" width="5.43" height="10.40" fill="#139463"/>
<line x1="60.00" y1="451.30" x2="60.00" y2="533.30" stroke="#000" stroke-width="1.5"/>
<g transform="rotate(-90 40.40 490.20)"><text x="15.95" y="490.20" font-size="13.4" font-weight="bold" textLength="48.50" lengthAdjust="spacingAndGlyphs" xml:space="preserve">Immune</text></g>
<g transform="rotate(-90 55.00 490.70)"><text x="34.55" y="490.70" font-size="13.4" font-weight="bold" textLength="41.19" lengthAdjust="spacingAndGlyphs" xml:space="preserve">system</text></g>
<rect x="576.86" y="549.00" width="16.22" height="16.20" fill="#D3D3D3"/>
<rect x="139.00" y="549.00" width="16.22" height="16.20" fill="#FA8080"/>
<rect x="268.74" y="549.00" width="16.22" height="16.20" fill="#95C11F"/>
<rect x="349.82" y="549.00" width="16.22" height="16.20" fill="#95C11F"/>
<rect x="398.47" y="549.00" width="16.22" height="16.20" fill="#95C11F"/>
<rect x="430.91" y="549.00" width="16.22" height="16.20" fill="#95C11F"/>
<rect x="447.12" y="549.00" width="16.22" height="16.20" fill="#95C11F"/>
<polygon points="495.77,549.00 511.99,549.00 495.77,565.20" fill="#139463"/>
<polygon points="511.99,549.00 511.99,565.20 495.77,565.20" fill="#95C11F"/>
<rect x="544.42" y="549.00" width="16.22" height="16.20" fill="#95C11F"/>
<rect x="576.86" y="565.20" width="16.22" height="16.20" fill="#D3D3D3"/>
<rect x="317.39" y="565.20" width="16.22" height="16.20" fill="#FA8080"/>
<rect x="382.25" y="565.20" width="16.22" height="16.20" fill="#139463"/>
<rect x="560.64" y="565.20" width="16.22" height="16.20" fill="#95C11F"/>
<rect x="576.86" y="581.40" width="16.22" height="16.20" fill="#D3D3D3"/>
<rect x="155.22" y="581.40" width="16.22" height="16.20" fill="#95C11F"/>
<rect x="301.17" y="581.40" width="16.22" height="16.20" fill="#139463"/>
<rect x="317.39" y="581.40" width="16.22" height="16.20" fill="#139463"/>
<rect x="430.91" y="581.40" width="16.22" height="16.20" fill="#139463"/>
<rect x="576.86" y="597.60" width="16.22" height="16.20" fill="#D3D3D3"/>
<rect x="203.87" y="597.60" width="16.22" height="16.20" fill="#139463"/>
<rect x="317.39" y="597.60" width="16.22" height="16.20" fill="#FA8080"/>
<rect x="414.69" y="597.60" width="16.22" height="16.20" fill="#139463"/>
<rect x="479.56" y="597.60" width="16.22" height="16.20" fill="#FA8080"/>
<rect x="495.77" y="597.60" width="16.22" height="16.20" fill="#139463"/>
<rect x="576.86" y="613.80" width="16.22" height="16.20" fill="#D3D3D3"/>
<rect x="317.39" y="613.80" width="16.22" height="16.20" fill="#FA8080"/>
<rect x="463.34" y="613.80" width="16.22" height="16.20" fill="#FA8080"/>
<rect x="495.77" y="613.80" width="16.22" height="16.20" fill="#FA8080"/>
<rect x="560.64" y="613.80" width="16.22" height="16.20" fill="#FA8080"/>
<rect x="576.86" y="630.00" width="16.22" height="16.20" fill="#D3D3D3"/>
<rect x="317.39" y="630.00" width="16.22" height="16.20" fill="#FA8080"/>
<rect x="463.34" y="630.00" width="16.22" height="16.20" fill="#FA8080"/>
<rect x="495.77" y="630.00" width="16.22" height="16.20" fill="#FA8080"/>
<rect x="560.64" y="630.00" width="16.22" height="16.20" fill="#FA8080"/>
<rect x="382.25" y="646.20" width="16.22" height="16.20" fill="#139463"/>
<rect x="479.56" y="646.20" width="16.22" height="16.20" fill="#139463"/>
<rect x="576.86" y="646.20" width="16.22" height="16.20" fill="#0000FF"/>
<rect x="593.08" y="646.20" width="16.22" height="16.20" fill="#139463"/>
<line x1="155.22" y1="549.00" x2="155.22" y2="662.40" stroke="#000" stroke-width="1.5"/>
<line x1="171.43" y1="549.00" x2="171.43" y2="662.40" stroke="#000" stroke-width="1.5"/>
<line x1="187.65" y1="549.00" x2="187.65" y2="662.40" stroke="#000" stroke-width="1.5"/>
<line x1="203.87" y1="549.00" x2="203.87" y2="662.40" stroke="#000" stroke-width="1.5"/>
<line x1="220.08" y1="549.00" x2="220.08" y2="662.40" stroke="#000" stroke-width="1.5"/>
<line x1="236.30" y1="549.00" x2="236.30" y2="662.40" stroke="#000" stroke-width="1.5"/>
<line x1="252.52" y1="549.00" x2="252.52" y2="662.40" stroke="#000" stroke-width="1.5"/>
<line x1="268.74" y1="549.00" x2="268.74" y2="662.40" stroke="#000" stroke-width="1.5"/>
<line x1="284.95" y1="549.00" x2="284.95" y2="662.40" stroke="#000" stroke-width="1.5"/>
<line x1="301.17" y1="549.00" x2="301.17" y2="662.40" stroke="#000" stroke-width="1.5"/>
<line x1="317.39" y1="549.00" x2="317.39" y2="662.40" stroke="#000" stroke-width="1.5"/>
<line x1="333.60" y1="549.00" x2="333.60" y2="662.40" stroke="#000" stroke-width="1.5"/>
<line x1="349.82" y1="549.00" x2="349.82" y2="662.40" stroke="#000" stroke-width="1.5"/>
<line x1="366.04" y1="549.00" x2="366.04" y2="662.40" stroke="#000" stroke-width="1.5"/>
<line x1="382.25" y1="549.00" x2="382.25" y2="662.40" stroke="#000" stroke-width="1.5"/>
<line x1="398.47" y1="549.00" x2="398.47" y2="662.40" stroke="#000" stroke-width="1.5"/>
<line x1="414.69" y1="549.00" x2="414.69" y2="662.40" stroke="#000" stroke-width="1.5"/>
<line x1="430.91" y1="549.00" x2="430.91" y2="662.40" stroke="#000" stroke-width="1.5"/>
<line x1="447.12" y1="549.00" x2="447.12" y2="662.40" stroke="#000" stroke-width="1.5"/>
<line x1="463.34" y1="549.00" x2="463.34" y2="662.40" stroke="#000" stroke-width="1.5"/>
<line x1="479.56" y1="549.00" x2="479.56" y2="662.40" stroke="#000" stroke-width="1.5"/>
<line x1="495.77" y1="549.00" x2="495.77" y2="662.40" stroke="#000" stroke-width="1.5"/>
<line x1="511.99" y1="549.00" x2="511.99" y2="662.40" stroke="#000" stroke-width="1.5"/>
<line x1="528.21" y1="549.00" x2="528.21" y2="662.40" stroke="#000" stroke-width="1.5"/>
<line x1="544.42" y1="549.00" x2="544.42" y2="662.40" stroke="#000" stroke-width="1.5"/>
<line x1="560.64" y1="549.00" x2="560.64" y2="662.40" stroke="#000" stroke-width="1.5"/>
<line x1="576.86" y1="549.00" x2="576.86" y2="662.40" stroke="#000" stroke-width="1.5"/>
<line x1="593.08" y1="549.00" x2="593.08" y2="662.40" stroke="#000" stroke-width="1.5"/>
<line x1="139.00" y1="565.20" x2="609.29" y2="565.20" stroke="#000" stroke-width="1.5"/>
<line x1="139.00" y1="581.40" x2="609.29" y2="581.40" stroke="#000" stroke-width="1.5"/>
<line x1="139.00" y1="597.60" x2="609.29" y2="597.60" stroke="#000" stroke-width="1.5"/>
<line x1="139.00" y1="613.80" x2="609.29" y2="613.80" stroke="#000" stroke-width="1.5"/>
<line x1="139.00" y1="630.00" x2="609.29" y2="630.00" stroke="#000" stroke-width="1.5"/>
<line x1="139.00" y1="646.20" x2="609.29" y2="646.20" stroke="#000" stroke-width="1.5"/>
<rect x="139.00" y="549.00" width="470.29" height="113.40" fill="none" stroke="#000" stroke-width="1.9"/>
<text x="98.25" y="560.91" font-size="12.4" font-style="italic" xml:space="preserve">KRAS</text>
<text x="612.93" y="560.91" font-size="11.2" textLength="23.30" lengthAdjust="spacingAndGlyphs" xml:space="preserve">28%</text>
<rect x="637.30" y="552.20" width="32.58" height="10.40" fill="#95C11F"/>
<polygon points="669.88,552.20 675.31,552.20 669.88,562.60" fill="#139463"/>
<polygon points="675.31,552.20 675.31,562.60 669.88,562.60" fill="#95C11F"/>
<rect x="675.31" y="552.20" width="5.43" height="10.40" fill="#FA8080"/>
<text x="97.55" y="577.14" font-size="12.4" font-style="italic" xml:space="preserve">NRAS</text>
<text x="612.60" y="577.14" font-size="11.2" textLength="23.64" lengthAdjust="spacingAndGlyphs" xml:space="preserve">10%</text>
<rect x="637.30" y="568.40" width="5.43" height="10.40" fill="#95C11F"/>
<rect x="642.73" y="568.40" width="5.43" height="10.40" fill="#FA8080"/>
<rect x="648.16" y="568.40" width="5.43" height="10.40" fill="#139463"/>
<text x="89.55" y="593.38" font-size="12.4" font-style="italic" xml:space="preserve">PIK3CA</text>
<text x="612.60" y="593.38" font-size="11.2" textLength="23.64" lengthAdjust="spacingAndGlyphs" xml:space="preserve">14%</text>
<rect x="637.30" y="584.60" width="5.43" height="10.40" fill="#95C11F"/>
<rect x="642.73" y="584.60" width="16.29" height="10.40" fill="#139463"/>
<text x="102.10" y="609.61" font-size="12.4" font-style="italic" xml:space="preserve">MET</text>
<text x="612.60" y="609.61" font-size="11.2" textLength="23.64" lengthAdjust="spacingAndGlyphs" xml:space="preserve">17%</text>
<rect x="637.30" y="600.80" width="10.86" height="10.40" fill="#FA8080"/>
<rect x="648.16" y="600.80" width="16.29" height="10.40" fill="#139463"/>
<text x="85.05" y="625.84" font-size="12.4" font-style="italic" xml:space="preserve">MAP2K2</text>
<text x="612.60" y="625.84" font-size="11.2" textLength="23.64" lengthAdjust="spacingAndGlyphs" xml:space="preserve">14%</text>
<rect x="637.30" y="617.00" width="21.72" height="10.40" fill="#FA8080"/>
<text x="91.80" y="642.08" font-size="12.4" font-style="italic" xml:space="preserve">PTPRS</text>
<text x="612.60" y="642.08" font-size="11.2" textLength="23.64" lengthAdjust="spacingAndGlyphs" xml:space="preserve">14%</text>
<rect x="637.30" y="633.20" width="21.72" height="10.40" fill="#FA8080"/>
<text x="93.40" y="658.31" font-size="12.4" font-style="italic" xml:space="preserve">NTRK1</text>
<text x="612.60" y="658.31" font-size="11.2" textLength="23.64" lengthAdjust="spacingAndGlyphs" xml:space="preserve">14%</text>
<rect x="637.30" y="649.40" width="5.43" height="10.40" fill="#0000FF"/>
<rect x="642.73" y="649.40" width="16.29" height="10.40" fill="#139463"/>
<line x1="60.00" y1="548.50" x2="60.00" y2="662.90" stroke="#000" stroke-width="1.5"/>
<g transform="rotate(-90 53.30 605.35)"><text x="1.77" y="605.35" font-size="13.4" font-weight="bold" textLength="103.05" lengthAdjust="spacingAndGlyphs" xml:space="preserve">RTK/Ras signaling</text></g>
<rect x="576.86" y="678.60" width="16.22" height="16.20" fill="#D3D3D3"/>
<rect x="414.69" y="678.60" width="16.22" height="16.20" fill="#0000FF"/>
<rect x="430.91" y="678.60" width="16.22" height="16.20" fill="#FA8080"/>
<rect x="479.56" y="678.60" width="16.22" height="16.20" fill="#FA8080"/>
<rect x="576.86" y="694.80" width="16.22" height="16.20" fill="#D3D3D3"/>
<rect x="139.00" y="694.80" width="16.22" height="16.20" fill="#FA8080"/>
<rect x="430.91" y="694.80" width="16.22" height="16.20" fill="#139463"/>
<rect x="479.56" y="694.80" width="16.22" height="16.20" fill="#FA8080"/>
<line x1="155.22" y1="678.60" x2="155.22" y2="711.00" stroke="#000" stroke-width="1.5"/>
<line x1="171.43" y1="678.60" x2="171.43" y2="711.00" stroke="#000" stroke-width="1.5"/>
<line x1="187.65" y1="678.60" x2="187.65" y2="711.00" stroke="#000" stroke-width="1.5"/>
<line x1="203.87" y1="678.60" x2="203.87" y2="711.00" stroke="#000" stroke-width="1.5"/>
<line x1="220.08" y1="678.60" x2="220.08" y2="711.00" stroke="#000" stroke-width="1.5"/>
<line x1="236.30" y1="678.60" x2="236.30" y2="711.00" stroke="#000" stroke-width="1.5"/>
<line x1="252.52" y1="678.60" x2="252.52" y2="711.00" stroke="#000" stroke-width="1.5"/>
<line x1="268.74" y1="678.60" x2="268.74" y2="711.00" stroke="#000" stroke-width="1.5"/>
<line x1="284.95" y1="678.60" x2="284.95" y2="711.00" stroke="#000" stroke-width="1.5"/>
<line x1="301.17" y1="678.60" x2="301.17" y2="711.00" stroke="#000" stroke-width="1.5"/>
<line x1="317.39" y1="678.60" x2="317.39" y2="711.00" stroke="#000" stroke-width="1.5"/>
<line x1="333.60" y1="678.60" x2="333.60" y2="711.00" stroke="#000" stroke-width="1.5"/>
<line x1="349.82" y1="678.60" x2="349.82" y2="711.00" stroke="#000" stroke-width="1.5"/>
<line x1="366.04" y1="678.60" x2="366.04" y2="711.00" stroke="#000" stroke-width="1.5"/>
<line x1="382.25" y1="678.60" x2="382.25" y2="711.00" stroke="#000" stroke-width="1.5"/>
<line x1="398.47" y1="678.60" x2="398.47" y2="711.00" stroke="#000" stroke-width="1.5"/>
<line x1="414.69" y1="678.60" x2="414.69" y2="711.00" stroke="#000" stroke-width="1.5"/>
<line x1="430.91" y1="678.60" x2="430.91" y2="711.00" stroke="#000" stroke-width="1.5"/>
<line x1="447.12" y1="678.60" x2="447.12" y2="711.00" stroke="#000" stroke-width="1.5"/>
<line x1="463.34" y1="678.60" x2="463.34" y2="711.00" stroke="#000" stroke-width="1.5"/>
<line x1="479.56" y1="678.60" x2="479.56" y2="711.00" stroke="#000" stroke-width="1.5"/>
<line x1="495.77" y1="678.60" x2="495.77" y2="711.00" stroke="#000" stroke-width="1.5"/>
<line x1="511.99" y1="678.60" x2="511.99" y2="711.00" stroke="#000" stroke-width="1.5"/>
<line x1="528.21" y1="678.60" x2="528.21" y2="711.00" stroke="#000" stroke-width="1.5"/>
<line x1="544.42" y1="678.60" x2="544.42" y2="711.00" stroke="#000" stroke-width="1.5"/>
<line x1="560.64" y1="678.60" x2="560.64" y2="711.00" stroke="#000" stroke-width="1.5"/>
<line x1="576.86" y1="678.60" x2="576.86" y2="711.00" stroke="#000" stroke-width="1.5"/>
<line x1="593.08" y1="678.60" x2="593.08" y2="711.00" stroke="#000" stroke-width="1.5"/>
<line x1="139.00" y1="694.80" x2="609.29" y2="694.80" stroke="#000" stroke-width="1.5"/>
<rect x="139.00" y="678.60" width="470.29" height="32.40" fill="none" stroke="#000" stroke-width="1.9"/>
<text x="83.85" y="690.78" font-size="12.4" font-style="italic" xml:space="preserve">NOTCH1</text>
<text x="612.60" y="690.78" font-size="11.2" textLength="23.64" lengthAdjust="spacingAndGlyphs" xml:space="preserve">10%</text>
<rect x="637.30" y="681.80" width="5.43" height="10.40" fill="#0000FF"/>
<rect x="642.73" y="681.80" width="10.86" height="10.40" fill="#FA8080"/>
<text x="91.25" y="707.01" font-size="12.4" font-style="italic" xml:space="preserve">MAML2</text>
<text x="612.60" y="707.01" font-size="11.2" textLength="23.64" lengthAdjust="spacingAndGlyphs" xml:space="preserve">10%</text>
<rect x="637.30" y="698.00" width="10.86" height="10.40" fill="#FA8080"/>
<rect x="648.16" y="698.00" width="5.43" height="10.40" fill="#139463"/>
<line x1="60.00" y1="678.10" x2="60.00" y2="711.50" stroke="#000" stroke-width="1.5"/>
<g transform="rotate(-90 53.30 696.50)"><text x="32.31" y="696.50" font-size="13.4" font-weight="bold" textLength="41.98" lengthAdjust="spacingAndGlyphs" xml:space="preserve">NOTCH</text></g>
<rect x="576.86" y="727.20" width="16.22" height="16.20" fill="#D3D3D3"/>
<rect x="317.39" y="727.20" width="16.22" height="16.20" fill="#FA8080"/>
<rect x="382.25" y="727.20" width="16.22" height="16.20" fill="#139463"/>
<rect x="479.56" y="727.20" width="16.22" height="16.20" fill="#FA8080"/>
<rect x="576.86" y="743.40" width="16.22" height="16.20" fill="#D3D3D3"/>
<rect x="301.17" y="743.40" width="16.22" height="16.20" fill="#139463"/>
<rect x="317.39" y="743.40" width="16.22" height="16.20" fill="#139463"/>
<rect x="479.56" y="743.40" width="16.22" height="16.20" fill="#FA8080"/>
<rect x="576.86" y="759.60" width="16.22" height="16.20" fill="#D3D3D3"/>
<rect x="317.39" y="759.60" width="16.22" height="16.20" fill="#FA8080"/>
<rect x="463.34" y="759.60" width="16.22" height="16.20" fill="#FA8080"/>
<rect x="479.56" y="759.60" width="16.22" height="16.20" fill="#FA8080"/>
<rect x="576.86" y="775.80" width="16.22" height="16.20" fill="#D3D3D3"/>
<rect x="317.39" y="775.80" width="16.22" height="16.20" fill="#FA8080"/>
<rect x="463.34" y="775.80" width="16.22" height="16.20" fill="#FA8080"/>
<rect x="495.77" y="775.80" width="16.22" height="16.20" fill="#FA8080"/>
<rect x="560.64" y="775.80" width="16.22" height="16.20" fill="#FA8080"/>
<rect x="576.86" y="792.00" width="16.22" height="16.20" fill="#D3D3D3"/>
<rect x="139.00" y="792.00" width="16.22" height="16.20" fill="#FA8080"/>
<rect x="317.39" y="792.00" width="16.22" height="16.20" fill="#FA8080"/>
<rect x="447.12" y="792.00" width="16.22" height="16.20" fill="#FA8080"/>
<rect x="463.34" y="792.00" width="16.22" height="16.20" fill="#FA8080"/>
<rect x="479.56" y="792.00" width="16.22" height="16.20" fill="#FA8080"/>
<rect x="576.86" y="808.20" width="16.22" height="16.20" fill="#D3D3D3"/>
<rect x="317.39" y="808.20" width="16.22" height="16.20" fill="#FA8080"/>
<rect x="463.34" y="808.20" width="16.22" height="16.20" fill="#FA8080"/>
<rect x="495.77" y="808.20" width="16.22" height="16.20" fill="#FA8080"/>
<rect x="560.64" y="808.20" width="16.22" height="16.20" fill="#FA8080"/>
<rect x="576.86" y="824.40" width="16.22" height="16.20" fill="#D3D3D3"/>
<rect x="301.17" y="824.40" width="16.22" height="16.20" fill="#139463"/>
<rect x="430.91" y="824.40" width="16.22" height="16.20" fill="#B553D7"/>
<rect x="479.56" y="824.40" width="16.22" height="16.20" fill="#FA8080"/>
<rect x="576.86" y="840.60" width="16.22" height="16.20" fill="#D3D3D3"/>
<rect x="139.00" y="840.60" width="16.22" height="16.20" fill="#FA8080"/>
<rect x="317.39" y="840.60" width="16.22" height="16.20" fill="#FA8080"/>
<rect x="463.34" y="840.60" width="16.22" height="16.20" fill="#FA8080"/>
<rect x="479.56" y="840.60" width="16.22" height="16.20" fill="#FA8080"/>
<rect x="576.86" y="856.80" width="16.22" height="16.20" fill="#D3D3D3"/>
<rect x="171.43" y="856.80" width="16.22" height="16.20" fill="#B553D7"/>
<rect x="349.82" y="856.80" width="16.22" height="16.20" fill="#B553D7"/>
<rect x="544.42" y="856.80" width="16.22" height="16.20" fill="#B553D7"/>
<rect x="576.86" y="873.00" width="16.22" height="16.20" fill="#D3D3D3"/>
<rect x="317.39" y="873.00" width="16.22" height="16.20" fill="#FA8080"/>
<rect x="463.34" y="873.00" width="16.22" height="16.20" fill="#FA8080"/>
<rect x="479.56" y="873.00" width="16.22" height="16.20" fill="#FA8080"/>
<rect x="576.86" y="889.20" width="16.22" height="16.20" fill="#D3D3D3"/>
<rect x="317.39" y="889.20" width="16.22" height="16.20" fill="#FA8080"/>
<rect x="382.25" y="889.20" width="16.22" height="16.20" fill="#139463"/>
<rect x="479.56" y="889.20" width="16.22" height="16.20" fill="#FA8080"/>
<line x1="155.22" y1="727.20" x2="155.22" y2="905.40" stroke="#000" stroke-width="1.5"/>
<line x1="171.43" y1="727.20" x2="171.43" y2="905.40" stroke="#000" stroke-width="1.5"/>
<line x1="187.65" y1="727.20" x2="187.65" y2="905.40" stroke="#000" stroke-width="1.5"/>
<line x1="203.87" y1="727.20" x2="203.87" y2="905.40" stroke="#000" stroke-width="1.5"/>
<line x1="220.08" y1="727.20" x2="220.08" y2="905.40" stroke="#000" stroke-width="1.5"/>
<line x1="236.30" y1="727.20" x2="236.30" y2="905.40" stroke="#000" stroke-width="1.5"/>
<line x1="252.52" y1="727.20" x2="252.52" y2="905.40" stroke="#000" stroke-width="1.5"/>
<line x1="268.74" y1="727.20" x2="268.74" y2="905.40" stroke="#000" stroke-width="1.5"/>
<line x1="284.95" y1="727.20" x2="284.95" y2="905.40" stroke="#000" stroke-width="1.5"/>
<line x1="301.17" y1="727.20" x2="301.17" y2="905.40" stroke="#000" stroke-width="1.5"/>
<line x1="317.39" y1="727.20" x2="317.39" y2="905.40" stroke="#000" stroke-width="1.5"/>
<line x1="333.60" y1="727.20" x2="333.60" y2="905.40" stroke="#000" stroke-width="1.5"/>
<line x1="349.82" y1="727.20" x2="349.82" y2="905.40" stroke="#000" stroke-width="1.5"/>
<line x1="366.04" y1="727.20" x2="366.04" y2="905.40" stroke="#000" stroke-width="1.5"/>
<line x1="382.25" y1="727.20" x2="382.25" y2="905.40" stroke="#000" stroke-width="1.5"/>
<line x1="398.47" y1="727.20" x2="398.47" y2="905.40" stroke="#000" stroke-width="1.5"/>
<line x1="414.69" y1="727.20" x2="414.69" y2="905.40" stroke="#000" stroke-width="1.5"/>
<line x1="430.91" y1="727.20" x2="430.91" y2="905.40" stroke="#000" stroke-width="1.5"/>
<line x1="447.12" y1="727.20" x2="447.12" y2="905.40" stroke="#000" stroke-width="1.5"/>
<line x1="463.34" y1="727.20" x2="463.34" y2="905.40" stroke="#000" stroke-width="1.5"/>
<line x1="479.56" y1="727.20" x2="479.56" y2="905.40" stroke="#000" stroke-width="1.5"/>
<line x1="495.77" y1="727.20" x2="495.77" y2="905.40" stroke="#000" stroke-width="1.5"/>
<line x1="511.99" y1="727.20" x2="511.99" y2="905.40" stroke="#000" stroke-width="1.5"/>
<line x1="528.21" y1="727.20" x2="528.21" y2="905.40" stroke="#000" stroke-width="1.5"/>
<line x1="544.42" y1="727.20" x2="544.42" y2="905.40" stroke="#000" stroke-width="1.5"/>
<line x1="560.64" y1="727.20" x2="560.64" y2="905.40" stroke="#000" stroke-width="1.5"/>
<line x1="576.86" y1="727.20" x2="576.86" y2="905.40" stroke="#000" stroke-width="1.5"/>
<line x1="593.08" y1="727.20" x2="593.08" y2="905.40" stroke="#000" stroke-width="1.5"/>
<line x1="139.00" y1="743.40" x2="609.29" y2="743.40" stroke="#000" stroke-width="1.5"/>
<line x1="139.00" y1="759.60" x2="609.29" y2="759.60" stroke="#000" stroke-width="1.5"/>
<line x1="139.00" y1="775.80" x2="609.29" y2="775.80" stroke="#000" stroke-width="1.5"/>
<line x1="139.00" y1="792.00" x2="609.29" y2="792.00" stroke="#000" stroke-width="1.5"/>
<line x1="139.00" y1="808.20" x2="609.29" y2="808.20" stroke="#000" stroke-width="1.5"/>
<line x1="139.00" y1="824.40" x2="609.29" y2="824.40" stroke="#000" stroke-width="1.5"/>
<line x1="139.00" y1="840.60" x2="609.29" y2="840.60" stroke="#000" stroke-width="1.5"/>
<line x1="139.00" y1="856.80" x2="609.29" y2="856.80" stroke="#000" stroke-width="1.5"/>
<line x1="139.00" y1="873.00" x2="609.29" y2="873.00" stroke="#000" stroke-width="1.5"/>
<line x1="139.00" y1="889.20" x2="609.29" y2="889.20" stroke="#000" stroke-width="1.5"/>
<rect x="139.00" y="727.20" width="470.29" height="178.20" fill="none" stroke="#000" stroke-width="1.9"/>
<text x="106.10" y="739.48" font-size="12.4" font-style="italic" xml:space="preserve">JUN</text>
<text x="612.60" y="739.48" font-size="11.2" textLength="23.64" lengthAdjust="spacingAndGlyphs" xml:space="preserve">10%</text>
<rect x="637.30" y="730.40" width="10.86" height="10.40" fill="#FA8080"/>
<rect x="648.16" y="730.40" width="5.43" height="10.40" fill="#139463"/>
<text x="99.00" y="755.72" font-size="12.4" font-style="italic" xml:space="preserve">SOX2</text>
<text x="612.60" y="755.72" font-size="11.2" textLength="23.64" lengthAdjust="spacingAndGlyphs" xml:space="preserve">10%</text>
<rect x="637.30" y="746.60" width="5.43" height="10.40" fill="#FA8080"/>
<rect x="642.73" y="746.60" width="10.86" height="10.40" fill="#139463"/>
<text x="101.05" y="771.95" font-size="12.4" font-style="italic" xml:space="preserve">PAX5</text>
<text x="612.60" y="771.95" font-size="11.2" textLength="23.64" lengthAdjust="spacingAndGlyphs" xml:space="preserve">10%</text>
<rect x="637.30" y="762.80" width="16.29" height="10.40" fill="#FA8080"/>
<text x="87.60" y="788.19" font-size="12.4" font-style="italic" xml:space="preserve">ZBTB7A</text>
<text x="612.60" y="788.19" font-size="11.2" textLength="23.64" lengthAdjust="spacingAndGlyphs" xml:space="preserve">14%</text>
<rect x="637.30" y="779.00" width="21.72" height="10.40" fill="#FA8080"/>
<text x="95.40" y="804.42" font-size="12.4" font-style="italic" xml:space="preserve">MLLT3</text>
<text x="612.60" y="804.42" font-size="11.2" textLength="23.64" lengthAdjust="spacingAndGlyphs" xml:space="preserve">17%</text>
<rect x="637.30" y="795.20" width="27.15" height="10.40" fill="#FA8080"/>
<text x="101.00" y="820.65" font-size="12.4" font-style="italic" xml:space="preserve">TCF3</text>
<text x="612.60" y="820.65" font-size="11.2" textLength="23.64" lengthAdjust="spacingAndGlyphs" xml:space="preserve">14%</text>
<rect x="637.30" y="811.40" width="21.72" height="10.40" fill="#FA8080"/>
<text x="90.65" y="836.89" font-size="12.4" font-style="italic" xml:space="preserve">NKX2-1</text>
<text x="612.60" y="836.89" font-size="11.2" textLength="23.64" lengthAdjust="spacingAndGlyphs" xml:space="preserve">10%</text>
<rect x="637.30" y="827.60" width="5.43" height="10.40" fill="#B553D7"/>
<rect x="642.73" y="827.60" width="5.43" height="10.40" fill="#FA8080"/>
<rect x="648.16" y="827.60" width="5.43" height="10.40" fill="#139463"/>
<text x="97.80" y="853.12" font-size="12.4" font-style="italic" xml:space="preserve">PSIP1</text>
<text x="612.60" y="853.12" font-size="11.2" textLength="23.64" lengthAdjust="spacingAndGlyphs" xml:space="preserve">14%</text>
<rect x="637.30" y="843.80" width="21.72" height="10.40" fill="#FA8080"/>
<text x="96.95" y="869.36" font-size="12.4" font-style="italic" xml:space="preserve">BCOR</text>
<text x="612.60" y="869.36" font-size="11.2" textLength="23.64" lengthAdjust="spacingAndGlyphs" xml:space="preserve">10%</text>
<rect x="637.30" y="860.00" width="16.29" height="10.40" fill="#B553D7"/>
<text x="96.45" y="885.59" font-size="12.4" font-style="italic" xml:space="preserve">TAF1L</text>
<text x="612.60" y="885.59" font-size="11.2" textLength="23.64" lengthAdjust="spacingAndGlyphs" xml:space="preserve">10%</text>
<rect x="637.30" y="876.20" width="16.29" height="10.40" fill="#FA8080"/>
<text x="94.10" y="901.83" font-size="12.4" font-style="italic" xml:space="preserve">FUBP1</text>
<text x="612.60" y="901.83" font-size="11.2" textLength="23.64" lengthAdjust="spacingAndGlyphs" xml:space="preserve">10%</text>
<rect x="637.30" y="892.40" width="10.86" height="10.40" fill="#FA8080"/>
<rect x="648.16" y="892.40" width="5.43" height="10.40" fill="#139463"/>
<line x1="60.00" y1="726.70" x2="60.00" y2="905.90" stroke="#000" stroke-width="1.5"/>
<g transform="rotate(-90 53.30 820.75)"><text x="-7.09" y="820.75" font-size="13.4" font-weight="bold" textLength="121.12" lengthAdjust="spacingAndGlyphs" xml:space="preserve">Transcription factors</text></g>
<rect x="576.86" y="921.60" width="16.22" height="16.20" fill="#D3D3D3"/>
<rect x="139.00" y="921.60" width="16.22" height="16.20" fill="#B553D7"/>
<rect x="317.39" y="921.60" width="16.22" height="16.20" fill="#FA8080"/>
<rect x="333.60" y="921.60" width="16.22" height="16.20" fill="#B553D7"/>
<rect x="463.34" y="921.60" width="16.22" height="16.20" fill="#FA8080"/>
<rect x="495.77" y="921.60" width="16.22" height="16.20" fill="#FA8080"/>
<rect x="560.64" y="921.60" width="16.22" height="16.20" fill="#FA8080"/>
<rect x="576.86" y="937.80" width="16.22" height="16.20" fill="#D3D3D3"/>
<rect x="317.39" y="937.80" width="16.22" height="16.20" fill="#FA8080"/>
<rect x="463.34" y="937.80" width="16.22" height="16.20" fill="#FA8080"/>
<rect x="495.77" y="937.80" width="16.22" height="16.20" fill="#FA8080"/>
<rect x="560.64" y="937.80" width="16.22" height="16.20" fill="#FA8080"/>
<rect x="576.86" y="954.00" width="16.22" height="16.20" fill="#D3D3D3"/>
<rect x="139.00" y="954.00" width="16.22" height="16.20" fill="#FA8080"/>
<rect x="317.39" y="954.00" width="16.22" height="16.20" fill="#FA8080"/>
<rect x="463.34" y="954.00" width="16.22" height="16.20" fill="#FA8080"/>
<rect x="479.56" y="954.00" width="16.22" height="16.20" fill="#FA8080"/>
<rect x="495.77" y="954.00" width="16.22" height="16.20" fill="#FA8080"/>
<rect x="576.86" y="970.20" width="16.22" height="16.20" fill="#D3D3D3"/>
<rect x="382.25" y="970.20" width="16.22" height="16.20" fill="#139463"/>
<rect x="479.56" y="970.20" width="16.22" height="16.20" fill="#139463"/>
<rect x="593.08" y="970.20" width="16.22" height="16.20" fill="#139463"/>
<rect x="576.86" y="986.40" width="16.22" height="16.20" fill="#D3D3D3"/>
<rect x="317.39" y="986.40" width="16.22" height="16.20" fill="#FA8080"/>
<rect x="382.25" y="986.40" width="16.22" height="16.20" fill="#139463"/>
<rect x="479.56" y="986.40" width="16.22" height="16.20" fill="#FA8080"/>
<rect x="576.86" y="1002.60" width="16.22" height="16.20" fill="#D3D3D3"/>
<rect x="317.39" y="1002.60" width="16.22" height="16.20" fill="#FA8080"/>
<rect x="382.25" y="1002.60" width="16.22" height="16.20" fill="#139463"/>
<rect x="479.56" y="1002.60" width="16.22" height="16.20" fill="#FA8080"/>
<rect x="576.86" y="1018.80" width="16.22" height="16.20" fill="#D3D3D3"/>
<rect x="301.17" y="1018.80" width="16.22" height="16.20" fill="#139463"/>
<rect x="317.39" y="1018.80" width="16.22" height="16.20" fill="#139463"/>
<rect x="479.56" y="1018.80" width="16.22" height="16.20" fill="#FA8080"/>
<line x1="155.22" y1="921.60" x2="155.22" y2="1035.00" stroke="#000" stroke-width="1.5"/>
<line x1="171.43" y1="921.60" x2="171.43" y2="1035.00" stroke="#000" stroke-width="1.5"/>
<line x1="187.65" y1="921.60" x2="187.65" y2="1035.00" stroke="#000" stroke-width="1.5"/>
<line x1="203.87" y1="921.60" x2="203.87" y2="1035.00" stroke="#000" stroke-width="1.5"/>
<line x1="220.08" y1="921.60" x2="220.08" y2="1035.00" stroke="#000" stroke-width="1.5"/>
<line x1="236.30" y1="921.60" x2="236.30" y2="1035.00" stroke="#000" stroke-width="1.5"/>
<line x1="252.52" y1="921.60" x2="252.52" y2="1035.00" stroke="#000" stroke-width="1.5"/>
<line x1="268.74" y1="921.60" x2="268.74" y2="1035.00" stroke="#000" stroke-width="1.5"/>
<line x1="284.95" y1="921.60" x2="284.95" y2="1035.00" stroke="#000" stroke-width="1.5"/>
<line x1="301.17" y1="921.60" x2="301.17" y2="1035.00" stroke="#000" stroke-width="1.5"/>
<line x1="317.39" y1="921.60" x2="317.39" y2="1035.00" stroke="#000" stroke-width="1.5"/>
<line x1="333.60" y1="921.60" x2="333.60" y2="1035.00" stroke="#000" stroke-width="1.5"/>
<line x1="349.82" y1="921.60" x2="349.82" y2="1035.00" stroke="#000" stroke-width="1.5"/>
<line x1="366.04" y1="921.60" x2="366.04" y2="1035.00" stroke="#000" stroke-width="1.5"/>
<line x1="382.25" y1="921.60" x2="382.25" y2="1035.00" stroke="#000" stroke-width="1.5"/>
<line x1="398.47" y1="921.60" x2="398.47" y2="1035.00" stroke="#000" stroke-width="1.5"/>
<line x1="414.69" y1="921.60" x2="414.69" y2="1035.00" stroke="#000" stroke-width="1.5"/>
<line x1="430.91" y1="921.60" x2="430.91" y2="1035.00" stroke="#000" stroke-width="1.5"/>
<line x1="447.12" y1="921.60" x2="447.12" y2="1035.00" stroke="#000" stroke-width="1.5"/>
<line x1="463.34" y1="921.60" x2="463.34" y2="1035.00" stroke="#000" stroke-width="1.5"/>
<line x1="479.56" y1="921.60" x2="479.56" y2="1035.00" stroke="#000" stroke-width="1.5"/>
<line x1="495.77" y1="921.60" x2="495.77" y2="1035.00" stroke="#000" stroke-width="1.5"/>
<line x1="511.99" y1="921.60" x2="511.99" y2="1035.00" stroke="#000" stroke-width="1.5"/>
<line x1="528.21" y1="921.60" x2="528.21" y2="1035.00" stroke="#000" stroke-width="1.5"/>
<line x1="544.42" y1="921.60" x2="544.42" y2="1035.00" stroke="#000" stroke-width="1.5"/>
<line x1="560.64" y1="921.60" x2="560.64" y2="1035.00" stroke="#000" stroke-width="1.5"/>
<line x1="576.86" y1="921.60" x2="576.86" y2="1035.00" stroke="#000" stroke-width="1.5"/>
<line x1="593.08" y1="921.60" x2="593.08" y2="1035.00" stroke="#000" stroke-width="1.5"/>
<line x1="139.00" y1="937.80" x2="609.29" y2="937.80" stroke="#000" stroke-width="1.5"/>
<line x1="139.00" y1="954.00" x2="609.29" y2="954.00" stroke="#000" stroke-width="1.5"/>
<line x1="139.00" y1="970.20" x2="609.29" y2="970.20" stroke="#000" stroke-width="1.5"/>
<line x1="139.00" y1="986.40" x2="609.29" y2="986.40" stroke="#000" stroke-width="1.5"/>
<line x1="139.00" y1="1002.60" x2="609.29" y2="1002.60" stroke="#000" stroke-width="1.5"/>
<line x1="139.00" y1="1018.80" x2="609.29" y2="1018.80" stroke="#000" stroke-width="1.5"/>
<rect x="139.00" y="921.60" width="470.29" height="113.40" fill="none" stroke="#000" stroke-width="1.9"/>
<text x="96.45" y="934.29" font-size="12.4" font-style="italic" xml:space="preserve">STK11</text>
<text x="612.93" y="934.29" font-size="11.2" textLength="23.30" lengthAdjust="spacingAndGlyphs" xml:space="preserve">21%</text>
<rect x="637.30" y="924.80" width="10.86" height="10.40" fill="#B553D7"/>
<rect x="648.16" y="924.80" width="21.72" height="10.40" fill="#FA8080"/>
<text x="94.30" y="950.53" font-size="12.4" font-style="italic" xml:space="preserve">GNA11</text>
<text x="612.60" y="950.53" font-size="11.2" textLength="23.64" lengthAdjust="spacingAndGlyphs" xml:space="preserve">14%</text>
<rect x="637.30" y="941.00" width="21.72" height="10.40" fill="#FA8080"/>
<text x="92.20" y="966.76" font-size="12.4" font-style="italic" xml:space="preserve">PTPRD</text>
<text x="612.60" y="966.76" font-size="11.2" textLength="23.64" lengthAdjust="spacingAndGlyphs" xml:space="preserve">17%</text>
<rect x="637.30" y="957.20" width="27.15" height="10.40" fill="#FA8080"/>
<text x="99.45" y="983.00" font-size="12.4" font-style="italic" xml:space="preserve">DDR2</text>
<text x="612.60" y="983.00" font-size="11.2" textLength="23.64" lengthAdjust="spacingAndGlyphs" xml:space="preserve">10%</text>
<rect x="637.30" y="973.40" width="16.29" height="10.40" fill="#139463"/>
<text x="86.95" y="999.23" font-size="12.4" font-style="italic" xml:space="preserve">MAGOH</text>
<text x="612.60" y="999.23" font-size="11.2" textLength="23.64" lengthAdjust="spacingAndGlyphs" xml:space="preserve">10%</text>
<rect x="637.30" y="989.60" width="10.86" height="10.40" fill="#FA8080"/>
<rect x="648.16" y="989.60" width="5.43" height="10.40" fill="#139463"/>
<text x="91.30" y="1015.47" font-size="12.4" font-style="italic" xml:space="preserve">NEGR1</text>
<text x="612.60" y="1015.47" font-size="11.2" textLength="23.64" lengthAdjust="spacingAndGlyphs" xml:space="preserve">10%</text>
<rect x="637.30" y="1005.80" width="10.86" height="10.40" fill="#FA8080"/>
<rect x="648.16" y="1005.80" width="5.43" height="10.40" fill="#139463"/>
<text x="77.20" y="1031.70" font-size="12.4" font-style="italic" xml:space="preserve">DCUN1D1</text>
<text x="612.60" y="1031.70" font-size="11.2" textLength="23.64" lengthAdjust="spacingAndGlyphs" xml:space="preserve">10%</text>
<rect x="637.30" y="1022.00" width="5.43" height="10.40" fill="#FA8080"/>
<rect x="642.73" y="1022.00" width="10.86" height="10.40" fill="#139463"/>
<line x1="60.00" y1="921.10" x2="60.00" y2="1035.50" stroke="#000" stroke-width="1.5"/>
<g transform="rotate(-90 53.30 974.00)"><text x="33.65" y="974.00" font-size="13.4" font-weight="bold" textLength="39.29" lengthAdjust="spacingAndGlyphs" xml:space="preserve">Others</text></g>
<rect x="139.00" y="1054.00" width="16.22" height="16.33" fill="#FBA042"/>
<rect x="155.22" y="1054.00" width="16.22" height="16.33" fill="#FBA042"/>
<rect x="171.43" y="1054.00" width="16.22" height="16.33" fill="#FFFF00"/>
<rect x="187.65" y="1054.00" width="16.22" height="16.33" fill="#FFFF00"/>
<rect x="203.87" y="1054.00" width="16.22" height="16.33" fill="#FFFF00"/>
<rect x="220.08" y="1054.00" width="16.22" height="16.33" fill="#B5F3DD"/>
<rect x="236.30" y="1054.00" width="16.22" height="16.33" fill="#1396B4"/>
<rect x="252.52" y="1054.00" width="16.22" height="16.33" fill="#1396B4"/>
<rect x="268.74" y="1054.00" width="16.22" height="16.33" fill="#1396B4"/>
<rect x="284.95" y="1054.00" width="16.22" height="16.33" fill="#1396B4"/>
<rect x="301.17" y="1054.00" width="16.22" height="16.33" fill="#1396B4"/>
<rect x="317.39" y="1054.00" width="16.22" height="16.33" fill="#1396B4"/>
<rect x="333.60" y="1054.00" width="16.22" height="16.33" fill="#1396B4"/>
<rect x="349.82" y="1054.00" width="16.22" height="16.33" fill="#1396B4"/>
<rect x="366.04" y="1054.00" width="16.22" height="16.33" fill="#1396B4"/>
<rect x="382.25" y="1054.00" width="16.22" height="16.33" fill="#1396B4"/>
<rect x="398.47" y="1054.00" width="16.22" height="16.33" fill="#1396B4"/>
<rect x="414.69" y="1054.00" width="16.22" height="16.33" fill="#1396B4"/>
<rect x="430.91" y="1054.00" width="16.22" height="16.33" fill="#858585"/>
<rect x="447.12" y="1054.00" width="16.22" height="16.33" fill="#858585"/>
<rect x="463.34" y="1054.00" width="16.22" height="16.33" fill="#858585"/>
<rect x="479.56" y="1054.00" width="16.22" height="16.33" fill="#858585"/>
<rect x="495.77" y="1054.00" width="16.22" height="16.33" fill="#858585"/>
<rect x="511.99" y="1054.00" width="16.22" height="16.33" fill="#858585"/>
<rect x="528.21" y="1054.00" width="16.22" height="16.33" fill="#858585"/>
<rect x="544.42" y="1054.00" width="16.22" height="16.33" fill="#858585"/>
<rect x="560.64" y="1054.00" width="16.22" height="16.33" fill="#858585"/>
<rect x="576.86" y="1054.00" width="16.22" height="16.33" fill="#858585"/>
<rect x="593.08" y="1054.00" width="16.22" height="16.33" fill="#858585"/>
<line x1="155.22" y1="1054.00" x2="155.22" y2="1070.33" stroke="#000" stroke-width="1.5"/>
<line x1="171.43" y1="1054.00" x2="171.43" y2="1070.33" stroke="#000" stroke-width="1.5"/>
<line x1="187.65" y1="1054.00" x2="187.65" y2="1070.33" stroke="#000" stroke-width="1.5"/>
<line x1="203.87" y1="1054.00" x2="203.87" y2="1070.33" stroke="#000" stroke-width="1.5"/>
<line x1="220.08" y1="1054.00" x2="220.08" y2="1070.33" stroke="#000" stroke-width="1.5"/>
<line x1="236.30" y1="1054.00" x2="236.30" y2="1070.33" stroke="#000" stroke-width="1.5"/>
<line x1="252.52" y1="1054.00" x2="252.52" y2="1070.33" stroke="#000" stroke-width="1.5"/>
<line x1="268.74" y1="1054.00" x2="268.74" y2="1070.33" stroke="#000" stroke-width="1.5"/>
<line x1="284.95" y1="1054.00" x2="284.95" y2="1070.33" stroke="#000" stroke-width="1.5"/>
<line x1="301.17" y1="1054.00" x2="301.17" y2="1070.33" stroke="#000" stroke-width="1.5"/>
<line x1="317.39" y1="1054.00" x2="317.39" y2="1070.33" stroke="#000" stroke-width="1.5"/>
<line x1="333.60" y1="1054.00" x2="333.60" y2="1070.33" stroke="#000" stroke-width="1.5"/>
<line x1="349.82" y1="1054.00" x2="349.82" y2="1070.33" stroke="#000" stroke-width="1.5"/>
<line x1="366.04" y1="1054.00" x2="366.04" y2="1070.33" stroke="#000" stroke-width="1.5"/>
<line x1="382.25" y1="1054.00" x2="382.25" y2="1070.33" stroke="#000" stroke-width="1.5"/>
<line x1="398.47" y1="1054.00" x2="398.47" y2="1070.33" stroke="#000" stroke-width="1.5"/>
<line x1="414.69" y1="1054.00" x2="414.69" y2="1070.33" stroke="#000" stroke-width="1.5"/>
<line x1="430.91" y1="1054.00" x2="430.91" y2="1070.33" stroke="#000" stroke-width="1.5"/>
<line x1="447.12" y1="1054.00" x2="447.12" y2="1070.33" stroke="#000" stroke-width="1.5"/>
<line x1="463.34" y1="1054.00" x2="463.34" y2="1070.33" stroke="#000" stroke-width="1.5"/>
<line x1="479.56" y1="1054.00" x2="479.56" y2="1070.33" stroke="#000" stroke-width="1.5"/>
<line x1="495.77" y1="1054.00" x2="495.77" y2="1070.33" stroke="#000" stroke-width="1.5"/>
<line x1="511.99" y1="1054.00" x2="511.99" y2="1070.33" stroke="#000" stroke-width="1.5"/>
<line x1="528.21" y1="1054.00" x2="528.21" y2="1070.33" stroke="#000" stroke-width="1.5"/>
<line x1="544.42" y1="1054.00" x2="544.42" y2="1070.33" stroke="#000" stroke-width="1.5"/>
<line x1="560.64" y1="1054.00" x2="560.64" y2="1070.33" stroke="#000" stroke-width="1.5"/>
<line x1="576.86" y1="1054.00" x2="576.86" y2="1070.33" stroke="#000" stroke-width="1.5"/>
<line x1="593.08" y1="1054.00" x2="593.08" y2="1070.33" stroke="#000" stroke-width="1.5"/>
<rect x="139.00" y="1054.00" width="470.29" height="16.33" fill="none" stroke="#000" stroke-width="1.9"/>
<text x="75.68" y="1066.30" font-size="12.4" font-style="italic" textLength="58.07" lengthAdjust="spacingAndGlyphs" xml:space="preserve">Response</text>
<rect x="139.00" y="1082.30" width="16.22" height="16.40" fill="#00B400"/>
<rect x="155.22" y="1082.30" width="16.22" height="16.40" fill="#008A00"/>
<rect x="171.43" y="1082.30" width="16.22" height="16.40" fill="#00FF1E"/>
<rect x="187.65" y="1082.30" width="16.22" height="16.40" fill="#00C800"/>
<rect x="203.87" y="1082.30" width="16.22" height="16.40" fill="#00C400"/>
<rect x="220.08" y="1082.30" width="16.22" height="16.40" fill="#EE1000"/>
<rect x="236.30" y="1082.30" width="16.22" height="16.40" fill="#A83000"/>
<rect x="252.52" y="1082.30" width="16.22" height="16.40" fill="#CC1E00"/>
<rect x="268.74" y="1082.30" width="16.22" height="16.40" fill="#CC1E00"/>
<rect x="284.95" y="1082.30" width="16.22" height="16.40" fill="#CC1E00"/>
<rect x="301.17" y="1082.30" width="16.22" height="16.40" fill="#CC1E00"/>
<rect x="317.39" y="1082.30" width="16.22" height="16.40" fill="#D01C00"/>
<rect x="333.60" y="1082.30" width="16.22" height="16.40" fill="#D01C00"/>
<rect x="349.82" y="1082.30" width="16.22" height="16.40" fill="#D41A00"/>
<rect x="366.04" y="1082.30" width="16.22" height="16.40" fill="#CC1E00"/>
<rect x="382.25" y="1082.30" width="16.22" height="16.40" fill="#CC1E00"/>
<rect x="398.47" y="1082.30" width="16.22" height="16.40" fill="#DD1800"/>
<rect x="414.69" y="1082.30" width="16.22" height="16.40" fill="#E01500"/>
<rect x="430.91" y="1082.30" width="16.22" height="16.40" fill="#BB2800"/>
<rect x="447.12" y="1082.30" width="16.22" height="16.40" fill="#BB2800"/>
<rect x="463.34" y="1082.30" width="16.22" height="16.40" fill="#DD1500"/>
<rect x="479.56" y="1082.30" width="16.22" height="16.40" fill="#DD1500"/>
<rect x="495.77" y="1082.30" width="16.22" height="16.40" fill="#E21000"/>
<rect x="511.99" y="1082.30" width="16.22" height="16.40" fill="#E51000"/>
<rect x="528.21" y="1082.30" width="16.22" height="16.40" fill="#EE0800"/>
<rect x="544.42" y="1082.30" width="16.22" height="16.40" fill="#F20500"/>
<rect x="560.64" y="1082.30" width="16.22" height="16.40" fill="#F50000"/>
<rect x="576.86" y="1082.30" width="16.22" height="16.40" fill="#FF0000"/>
<rect x="593.08" y="1082.30" width="16.22" height="16.40" fill="#FF0000"/>
<rect x="139.00" y="1099.70" width="16.22" height="16.50" fill="#00B400"/>
<rect x="155.22" y="1099.70" width="16.22" height="16.50" fill="#008A00"/>
<rect x="171.43" y="1099.70" width="16.22" height="16.50" fill="#00FF1E"/>
<rect x="187.65" y="1099.70" width="16.22" height="16.50" fill="#00C800"/>
<rect x="203.87" y="1099.70" width="16.22" height="16.50" fill="#00C400"/>
<rect x="220.08" y="1099.70" width="16.22" height="16.50" fill="#CC2200"/>
<rect x="236.30" y="1099.70" width="16.22" height="16.50" fill="#7E4400"/>
<rect x="252.52" y="1099.70" width="16.22" height="16.50" fill="#C02400"/>
<rect x="268.74" y="1099.70" width="16.22" height="16.50" fill="#5E5000"/>
<rect x="284.95" y="1099.70" width="16.22" height="16.50" fill="#7A4800"/>
<rect x="301.17" y="1099.70" width="16.22" height="16.50" fill="#008C00"/>
<rect x="317.39" y="1099.70" width="16.22" height="16.50" fill="#008C00"/>
<rect x="333.60" y="1099.70" width="16.22" height="16.50" fill="#5A5200"/>
<rect x="349.82" y="1099.70" width="16.22" height="16.50" fill="#CC2200"/>
<rect x="366.04" y="1099.70" width="16.22" height="16.50" fill="#BB2400"/>
<rect x="382.25" y="1099.70" width="16.22" height="16.50" fill="#C02000"/>
<rect x="398.47" y="1099.70" width="16.22" height="16.50" fill="#993300"/>
<rect x="414.69" y="1099.70" width="16.22" height="16.50" fill="#CC2000"/>
<rect x="430.91" y="1099.70" width="16.22" height="16.50" fill="#BB2800"/>
<rect x="447.12" y="1099.70" width="16.22" height="16.50" fill="#CC2000"/>
<rect x="463.34" y="1099.70" width="16.22" height="16.50" fill="#EE1000"/>
<rect x="479.56" y="1099.70" width="16.22" height="16.50" fill="#EE1000"/>
<rect x="495.77" y="1099.70" width="16.22" height="16.50" fill="#F01000"/>
<rect x="511.99" y="1099.70" width="16.22" height="16.50" fill="#F20800"/>
<rect x="528.21" y="1099.70" width="16.22" height="16.50" fill="#F50500"/>
<rect x="544.42" y="1099.70" width="16.22" height="16.50" fill="#F80000"/>
<rect x="560.64" y="1099.70" width="16.22" height="16.50" fill="#FA0000"/>
<rect x="576.86" y="1099.70" width="16.22" height="16.50" fill="#FF0000"/>
<rect x="593.08" y="1099.70" width="16.22" height="16.50" fill="#EE1000"/>
<line x1="155.22" y1="1082.30" x2="155.22" y2="1098.70" stroke="#000" stroke-width="1.5"/>
<line x1="171.43" y1="1082.30" x2="171.43" y2="1098.70" stroke="#000" stroke-width="1.5"/>
<line x1="187.65" y1="1082.30" x2="187.65" y2="1098.70" stroke="#000" stroke-width="1.5"/>
<line x1="203.87" y1="1082.30" x2="203.87" y2="1098.70" stroke="#000" stroke-width="1.5"/>
<line x1="220.08" y1="1082.30" x2="220.08" y2="1098.70" stroke="#000" stroke-width="1.5"/>
<line x1="236.30" y1="1082.30" x2="236.30" y2="1098.70" stroke="#000" stroke-width="1.5"/>
<line x1="252.52" y1="1082.30" x2="252.52" y2="1098.70" stroke="#000" stroke-width="1.5"/>
<line x1="268.74" y1="1082.30" x2="268.74" y2="1098.70" stroke="#000" stroke-width="1.5"/>
<line x1="284.95" y1="1082.30" x2="284.95" y2="1098.70" stroke="#000" stroke-width="1.5"/>
<line x1="301.17" y1="1082.30" x2="301.17" y2="1098.70" stroke="#000" stroke-width="1.5"/>
<line x1="317.39" y1="1082.30" x2="317.39" y2="1098.70" stroke="#000" stroke-width="1.5"/>
<line x1="333.60" y1="1082.30" x2="333.60" y2="1098.70" stroke="#000" stroke-width="1.5"/>
<line x1="349.82" y1="1082.30" x2="349.82" y2="1098.70" stroke="#000" stroke-width="1.5"/>
<line x1="366.04" y1="1082.30" x2="366.04" y2="1098.70" stroke="#000" stroke-width="1.5"/>
<line x1="382.25" y1="1082.30" x2="382.25" y2="1098.70" stroke="#000" stroke-width="1.5"/>
<line x1="398.47" y1="1082.30" x2="398.47" y2="1098.70" stroke="#000" stroke-width="1.5"/>
<line x1="414.69" y1="1082.30" x2="414.69" y2="1098.70" stroke="#000" stroke-width="1.5"/>
<line x1="430.91" y1="1082.30" x2="430.91" y2="1098.70" stroke="#000" stroke-width="1.5"/>
<line x1="447.12" y1="1082.30" x2="447.12" y2="1098.70" stroke="#000" stroke-width="1.5"/>
<line x1="463.34" y1="1082.30" x2="463.34" y2="1098.70" stroke="#000" stroke-width="1.5"/>
<line x1="479.56" y1="1082.30" x2="479.56" y2="1098.70" stroke="#000" stroke-width="1.5"/>
<line x1="495.77" y1="1082.30" x2="495.77" y2="1098.70" stroke="#000" stroke-width="1.5"/>
<line x1="511.99" y1="1082.30" x2="511.99" y2="1098.70" stroke="#000" stroke-width="1.5"/>
<line x1="528.21" y1="1082.30" x2="528.21" y2="1098.70" stroke="#000" stroke-width="1.5"/>
<line x1="544.42" y1="1082.30" x2="544.42" y2="1098.70" stroke="#000" stroke-width="1.5"/>
<line x1="560.64" y1="1082.30" x2="560.64" y2="1098.70" stroke="#000" stroke-width="1.5"/>
<line x1="576.86" y1="1082.30" x2="576.86" y2="1098.70" stroke="#000" stroke-width="1.5"/>
<line x1="593.08" y1="1082.30" x2="593.08" y2="1098.70" stroke="#000" stroke-width="1.5"/>
<rect x="139.00" y="1082.30" width="470.29" height="16.40" fill="none" stroke="#000" stroke-width="1.9"/>
<line x1="155.22" y1="1099.70" x2="155.22" y2="1116.20" stroke="#000" stroke-width="1.5"/>
<line x1="171.43" y1="1099.70" x2="171.43" y2="1116.20" stroke="#000" stroke-width="1.5"/>
<line x1="187.65" y1="1099.70" x2="187.65" y2="1116.20" stroke="#000" stroke-width="1.5"/>
<line x1="203.87" y1="1099.70" x2="203.87" y2="1116.20" stroke="#000" stroke-width="1.5"/>
<line x1="220.08" y1="1099.70" x2="220.08" y2="1116.20" stroke="#000" stroke-width="1.5"/>
<line x1="236.30" y1="1099.70" x2="236.30" y2="1116.20" stroke="#000" stroke-width="1.5"/>
<line x1="252.52" y1="1099.70" x2="252.52" y2="1116.20" stroke="#000" stroke-width="1.5"/>
<line x1="268.74" y1="1099.70" x2="268.74" y2="1116.20" stroke="#000" stroke-width="1.5"/>
<line x1="284.95" y1="1099.70" x2="284.95" y2="1116.20" stroke="#000" stroke-width="1.5"/>
<line x1="301.17" y1="1099.70" x2="301.17" y2="1116.20" stroke="#000" stroke-width="1.5"/>
<line x1="317.39" y1="1099.70" x2="317.39" y2="1116.20" stroke="#000" stroke-width="1.5"/>
<line x1="333.60" y1="1099.70" x2="333.60" y2="1116.20" stroke="#000" stroke-width="1.5"/>
<line x1="349.82" y1="1099.70" x2="349.82" y2="1116.20" stroke="#000" stroke-width="1.5"/>
<line x1="366.04" y1="1099.70" x2="366.04" y2="1116.20" stroke="#000" stroke-width="1.5"/>
<line x1="382.25" y1="1099.70" x2="382.25" y2="1116.20" stroke="#000" stroke-width="1.5"/>
<line x1="398.47" y1="1099.70" x2="398.47" y2="1116.20" stroke="#000" stroke-width="1.5"/>
<line x1="414.69" y1="1099.70" x2="414.69" y2="1116.20" stroke="#000" stroke-width="1.5"/>
<line x1="430.91" y1="1099.70" x2="430.91" y2="1116.20" stroke="#000" stroke-width="1.5"/>
<line x1="447.12" y1="1099.70" x2="447.12" y2="1116.20" stroke="#000" stroke-width="1.5"/>
<line x1="463.34" y1="1099.70" x2="463.34" y2="1116.20" stroke="#000" stroke-width="1.5"/>
<line x1="479.56" y1="1099.70" x2="479.56" y2="1116.20" stroke="#000" stroke-width="1.5"/>
<line x1="495.77" y1="1099.70" x2="495.77" y2="1116.20" stroke="#000" stroke-width="1.5"/>
<line x1="511.99" y1="1099.70" x2="511.99" y2="1116.20" stroke="#000" stroke-width="1.5"/>
<line x1="528.21" y1="1099.70" x2="528.21" y2="1116.20" stroke="#000" stroke-width="1.5"/>
<line x1="544.42" y1="1099.70" x2="544.42" y2="1116.20" stroke="#000" stroke-width="1.5"/>
<line x1="560.64" y1="1099.70" x2="560.64" y2="1116.20" stroke="#000" stroke-width="1.5"/>
<line x1="576.86" y1="1099.70" x2="576.86" y2="1116.20" stroke="#000" stroke-width="1.5"/>
<line x1="593.08" y1="1099.70" x2="593.08" y2="1116.20" stroke="#000" stroke-width="1.5"/>
<rect x="139.00" y="1099.70" width="470.29" height="16.50" fill="none" stroke="#000" stroke-width="1.9"/>
<circle cx="163.33" cy="1090.50" r="1.3" fill="none" stroke="#111" stroke-width="0.9"/>
<circle cx="179.54" cy="1090.50" r="1.3" fill="none" stroke="#111" stroke-width="0.9"/>
<circle cx="195.76" cy="1090.50" r="1.3" fill="none" stroke="#111" stroke-width="0.9"/>
<circle cx="228.19" cy="1090.50" r="1.3" fill="none" stroke="#111" stroke-width="0.9"/>
<circle cx="584.97" cy="1090.50" r="1.3" fill="none" stroke="#111" stroke-width="0.9"/>
<circle cx="601.18" cy="1090.50" r="1.3" fill="none" stroke="#111" stroke-width="0.9"/>
<circle cx="163.33" cy="1107.90" r="1.3" fill="none" stroke="#111" stroke-width="0.9"/>
<circle cx="179.54" cy="1107.90" r="1.3" fill="none" stroke="#111" stroke-width="0.9"/>
<circle cx="195.76" cy="1107.90" r="1.3" fill="none" stroke="#111" stroke-width="0.9"/>
<circle cx="211.98" cy="1107.90" r="1.3" fill="none" stroke="#111" stroke-width="0.9"/>
<circle cx="228.19" cy="1107.90" r="1.3" fill="none" stroke="#111" stroke-width="0.9"/>
<circle cx="584.97" cy="1107.90" r="1.3" fill="none" stroke="#111" stroke-width="0.9"/>
<circle cx="601.18" cy="1107.90" r="1.3" fill="none" stroke="#111" stroke-width="0.9"/>
<text x="108.38" y="1094.60" font-size="12.4" font-style="italic" textLength="25.04" lengthAdjust="spacingAndGlyphs" xml:space="preserve">PFS</text>
<text x="115.45" y="1112.70" font-size="12.4" font-style="italic" textLength="17.97" lengthAdjust="spacingAndGlyphs" xml:space="preserve">OS</text>
<rect x="139.00" y="1129.20" width="16.22" height="16.33" fill="#92EBCE"/>
<rect x="155.22" y="1129.20" width="16.22" height="16.33" fill="#00BE00"/>
<rect x="171.43" y="1129.20" width="16.22" height="16.33" fill="#38A4DE"/>
<rect x="187.65" y="1129.20" width="16.22" height="16.33" fill="#92EBCE"/>
<rect x="203.87" y="1129.20" width="16.22" height="16.33" fill="#FFFF00"/>
<rect x="220.08" y="1129.20" width="16.22" height="16.33" fill="#92EBCE"/>
<rect x="236.30" y="1129.20" width="16.22" height="16.33" fill="#92EBCE"/>
<rect x="252.52" y="1129.20" width="16.22" height="16.33" fill="#92EBCE"/>
<rect x="268.74" y="1129.20" width="16.22" height="16.33" fill="#92EBCE"/>
<rect x="284.95" y="1129.20" width="16.22" height="16.33" fill="#FFFF00"/>
<rect x="301.17" y="1129.20" width="16.22" height="16.33" fill="#00BE00"/>
<rect x="317.39" y="1129.20" width="16.22" height="16.33" fill="#00BE00"/>
<rect x="333.60" y="1129.20" width="16.22" height="16.33" fill="#92EBCE"/>
<rect x="349.82" y="1129.20" width="16.22" height="16.33" fill="#92EBCE"/>
<rect x="366.04" y="1129.20" width="16.22" height="16.33" fill="#92EBCE"/>
<rect x="382.25" y="1129.20" width="16.22" height="16.33" fill="#FFFF00"/>
<rect x="398.47" y="1129.20" width="16.22" height="16.33" fill="#92EBCE"/>
<rect x="414.69" y="1129.20" width="16.22" height="16.33" fill="#00BE00"/>
<rect x="430.91" y="1129.20" width="16.22" height="16.33" fill="#92EBCE"/>
<rect x="447.12" y="1129.20" width="16.22" height="16.33" fill="#92EBCE"/>
<rect x="463.34" y="1129.20" width="16.22" height="16.33" fill="#92EBCE"/>
<rect x="479.56" y="1129.20" width="16.22" height="16.33" fill="#92EBCE"/>
<rect x="495.77" y="1129.20" width="16.22" height="16.33" fill="#38A4DE"/>
<rect x="511.99" y="1129.20" width="16.22" height="16.33" fill="#FFFF00"/>
<rect x="528.21" y="1129.20" width="16.22" height="16.33" fill="#92EBCE"/>
<rect x="544.42" y="1129.20" width="16.22" height="16.33" fill="#92EBCE"/>
<rect x="560.64" y="1129.20" width="16.22" height="16.33" fill="#92EBCE"/>
<rect x="576.86" y="1129.20" width="16.22" height="16.33" fill="#00BE00"/>
<rect x="593.08" y="1129.20" width="16.22" height="16.33" fill="#92EBCE"/>
<rect x="139.00" y="1145.53" width="16.22" height="16.33" fill="#FBA042"/>
<rect x="155.22" y="1145.53" width="16.22" height="16.33" fill="#FFFFFF"/>
<rect x="171.43" y="1145.53" width="16.22" height="16.33" fill="#FFFFFF"/>
<rect x="187.65" y="1145.53" width="16.22" height="16.33" fill="#FFFFFF"/>
<rect x="203.87" y="1145.53" width="16.22" height="16.33" fill="#FBA042"/>
<rect x="220.08" y="1145.53" width="16.22" height="16.33" fill="#FFFFFF"/>
<rect x="236.30" y="1145.53" width="16.22" height="16.33" fill="#FFFFFF"/>
<rect x="252.52" y="1145.53" width="16.22" height="16.33" fill="#FFFFFF"/>
<rect x="268.74" y="1145.53" width="16.22" height="16.33" fill="#FBA042"/>
<rect x="284.95" y="1145.53" width="16.22" height="16.33" fill="#FFFFFF"/>
<rect x="301.17" y="1145.53" width="16.22" height="16.33" fill="#FFFFFF"/>
<rect x="317.39" y="1145.53" width="16.22" height="16.33" fill="#FFFFFF"/>
<rect x="333.60" y="1145.53" width="16.22" height="16.33" fill="#FBA042"/>
<rect x="349.82" y="1145.53" width="16.22" height="16.33" fill="#FBA042"/>
<rect x="366.04" y="1145.53" width="16.22" height="16.33" fill="#FBA042"/>
<rect x="382.25" y="1145.53" width="16.22" height="16.33" fill="#E0061A"/>
<rect x="398.47" y="1145.53" width="16.22" height="16.33" fill="#FFFFFF"/>
<rect x="414.69" y="1145.53" width="16.22" height="16.33" fill="#FFFFFF"/>
<rect x="430.91" y="1145.53" width="16.22" height="16.33" fill="#FBA042"/>
<rect x="447.12" y="1145.53" width="16.22" height="16.33" fill="#FBA042"/>
<rect x="463.34" y="1145.53" width="16.22" height="16.33" fill="#FBA042"/>
<rect x="479.56" y="1145.53" width="16.22" height="16.33" fill="#FBA042"/>
<rect x="495.77" y="1145.53" width="16.22" height="16.33" fill="#FBA042"/>
<rect x="511.99" y="1145.53" width="16.22" height="16.33" fill="#FBA042"/>
<rect x="528.21" y="1145.53" width="16.22" height="16.33" fill="#E0061A"/>
<rect x="544.42" y="1145.53" width="16.22" height="16.33" fill="#FBA042"/>
<rect x="560.64" y="1145.53" width="16.22" height="16.33" fill="#FBA042"/>
<rect x="576.86" y="1145.53" width="16.22" height="16.33" fill="#FBA042"/>
<rect x="593.08" y="1145.53" width="16.22" height="16.33" fill="#FFFFFF"/>
<rect x="139.00" y="1161.86" width="16.22" height="16.33" fill="#F9C9EF"/>
<rect x="155.22" y="1161.86" width="16.22" height="16.33" fill="#B553D7"/>
<rect x="171.43" y="1161.86" width="16.22" height="16.33" fill="#F9C9EF"/>
<rect x="187.65" y="1161.86" width="16.22" height="16.33" fill="#FA8080"/>
<rect x="203.87" y="1161.86" width="16.22" height="16.33" fill="#F9C9EF"/>
<rect x="220.08" y="1161.86" width="16.22" height="16.33" fill="#FA8080"/>
<rect x="236.30" y="1161.86" width="16.22" height="16.33" fill="#B553D7"/>
<rect x="252.52" y="1161.86" width="16.22" height="16.33" fill="#B553D7"/>
<rect x="268.74" y="1161.86" width="16.22" height="16.33" fill="#FA8080"/>
<rect x="284.95" y="1161.86" width="16.22" height="16.33" fill="#F9C9EF"/>
<rect x="301.17" y="1161.86" width="16.22" height="16.33" fill="#B553D7"/>
<rect x="317.39" y="1161.86" width="16.22" height="16.33" fill="#F9C9EF"/>
<rect x="333.60" y="1161.86" width="16.22" height="16.33" fill="#F9C9EF"/>
<rect x="349.82" y="1161.86" width="16.22" height="16.33" fill="#F9C9EF"/>
<rect x="366.04" y="1161.86" width="16.22" height="16.33" fill="#F9C9EF"/>
<rect x="382.25" y="1161.86" width="16.22" height="16.33" fill="#F9C9EF"/>
<rect x="398.47" y="1161.86" width="16.22" height="16.33" fill="#F9C9EF"/>
<rect x="414.69" y="1161.86" width="16.22" height="16.33" fill="#F9C9EF"/>
<rect x="430.91" y="1161.86" width="16.22" height="16.33" fill="#B553D7"/>
<rect x="447.12" y="1161.86" width="16.22" height="16.33" fill="#FA8080"/>
<rect x="463.34" y="1161.86" width="16.22" height="16.33" fill="#B553D7"/>
<rect x="479.56" y="1161.86" width="16.22" height="16.33" fill="#B553D7"/>
<rect x="495.77" y="1161.86" width="16.22" height="16.33" fill="#F9C9EF"/>
<rect x="511.99" y="1161.86" width="16.22" height="16.33" fill="#F9C9EF"/>
<rect x="528.21" y="1161.86" width="16.22" height="16.33" fill="#FA8080"/>
<rect x="544.42" y="1161.86" width="16.22" height="16.33" fill="#B553D7"/>
<rect x="560.64" y="1161.86" width="16.22" height="16.33" fill="#F9C9EF"/>
<rect x="576.86" y="1161.86" width="16.22" height="16.33" fill="#FA8080"/>
<rect x="593.08" y="1161.86" width="16.22" height="16.33" fill="#FA8080"/>
<line x1="155.22" y1="1129.20" x2="155.22" y2="1178.19" stroke="#000" stroke-width="1.5"/>
<line x1="171.43" y1="1129.20" x2="171.43" y2="1178.19" stroke="#000" stroke-width="1.5"/>
<line x1="187.65" y1="1129.20" x2="187.65" y2="1178.19" stroke="#000" stroke-width="1.5"/>
<line x1="203.87" y1="1129.20" x2="203.87" y2="1178.19" stroke="#000" stroke-width="1.5"/>
<line x1="220.08" y1="1129.20" x2="220.08" y2="1178.19" stroke="#000" stroke-width="1.5"/>
<line x1="236.30" y1="1129.20" x2="236.30" y2="1178.19" stroke="#000" stroke-width="1.5"/>
<line x1="252.52" y1="1129.20" x2="252.52" y2="1178.19" stroke="#000" stroke-width="1.5"/>
<line x1="268.74" y1="1129.20" x2="268.74" y2="1178.19" stroke="#000" stroke-width="1.5"/>
<line x1="284.95" y1="1129.20" x2="284.95" y2="1178.19" stroke="#000" stroke-width="1.5"/>
<line x1="301.17" y1="1129.20" x2="301.17" y2="1178.19" stroke="#000" stroke-width="1.5"/>
<line x1="317.39" y1="1129.20" x2="317.39" y2="1178.19" stroke="#000" stroke-width="1.5"/>
<line x1="333.60" y1="1129.20" x2="333.60" y2="1178.19" stroke="#000" stroke-width="1.5"/>
<line x1="349.82" y1="1129.20" x2="349.82" y2="1178.19" stroke="#000" stroke-width="1.5"/>
<line x1="366.04" y1="1129.20" x2="366.04" y2="1178.19" stroke="#000" stroke-width="1.5"/>
<line x1="382.25" y1="1129.20" x2="382.25" y2="1178.19" stroke="#000" stroke-width="1.5"/>
<line x1="398.47" y1="1129.20" x2="398.47" y2="1178.19" stroke="#000" stroke-width="1.5"/>
<line x1="414.69" y1="1129.20" x2="414.69" y2="1178.19" stroke="#000" stroke-width="1.5"/>
<line x1="430.91" y1="1129.20" x2="430.91" y2="1178.19" stroke="#000" stroke-width="1.5"/>
<line x1="447.12" y1="1129.20" x2="447.12" y2="1178.19" stroke="#000" stroke-width="1.5"/>
<line x1="463.34" y1="1129.20" x2="463.34" y2="1178.19" stroke="#000" stroke-width="1.5"/>
<line x1="479.56" y1="1129.20" x2="479.56" y2="1178.19" stroke="#000" stroke-width="1.5"/>
<line x1="495.77" y1="1129.20" x2="495.77" y2="1178.19" stroke="#000" stroke-width="1.5"/>
<line x1="511.99" y1="1129.20" x2="511.99" y2="1178.19" stroke="#000" stroke-width="1.5"/>
<line x1="528.21" y1="1129.20" x2="528.21" y2="1178.19" stroke="#000" stroke-width="1.5"/>
<line x1="544.42" y1="1129.20" x2="544.42" y2="1178.19" stroke="#000" stroke-width="1.5"/>
<line x1="560.64" y1="1129.20" x2="560.64" y2="1178.19" stroke="#000" stroke-width="1.5"/>
<line x1="576.86" y1="1129.20" x2="576.86" y2="1178.19" stroke="#000" stroke-width="1.5"/>
<line x1="593.08" y1="1129.20" x2="593.08" y2="1178.19" stroke="#000" stroke-width="1.5"/>
<line x1="139.00" y1="1145.53" x2="609.29" y2="1145.53" stroke="#000" stroke-width="1.5"/>
<line x1="139.00" y1="1161.86" x2="609.29" y2="1161.86" stroke="#000" stroke-width="1.5"/>
<rect x="139.00" y="1129.20" width="470.29" height="48.99" fill="none" stroke="#000" stroke-width="1.9"/>
<text x="79.79" y="1139.75" font-size="12.4" font-style="italic" textLength="52.49" lengthAdjust="spacingAndGlyphs" xml:space="preserve">Histology</text>
<text x="95.58" y="1158.00" font-size="12.4" font-style="italic" textLength="38.62" lengthAdjust="spacingAndGlyphs" xml:space="preserve">ECOG</text>
<text x="69.59" y="1174.90" font-size="12.4" font-style="italic" textLength="60.69" lengthAdjust="spacingAndGlyphs" xml:space="preserve">Prior Lines</text>
<rect x="139.00" y="1188.60" width="16.22" height="16.33" fill="#8CC45A"/>
<rect x="155.22" y="1188.60" width="16.22" height="16.33" fill="#1A8012"/>
<rect x="171.43" y="1188.60" width="16.22" height="16.33" fill="#1A8012"/>
<rect x="187.65" y="1188.60" width="16.22" height="16.33" fill="#1A8012"/>
<rect x="203.87" y="1188.60" width="16.22" height="16.33" fill="#1A8012"/>
<rect x="220.08" y="1188.60" width="16.22" height="16.33" fill="#8CC45A"/>
<rect x="236.30" y="1188.60" width="16.22" height="16.33" fill="#8CC45A"/>
<rect x="252.52" y="1188.60" width="16.22" height="16.33" fill="#8CC45A"/>
<rect x="268.74" y="1188.60" width="16.22" height="16.33" fill="#1A8012"/>
<rect x="284.95" y="1188.60" width="16.22" height="16.33" fill="#FF7F4F"/>
<rect x="301.17" y="1188.60" width="16.22" height="16.33" fill="#FFFBA0"/>
<rect x="317.39" y="1188.60" width="16.22" height="16.33" fill="#1A8012"/>
<rect x="333.60" y="1188.60" width="16.22" height="16.33" fill="#FFFBA0"/>
<rect x="349.82" y="1188.60" width="16.22" height="16.33" fill="#8CC45A"/>
<rect x="366.04" y="1188.60" width="16.22" height="16.33" fill="#FF7F4F"/>
<rect x="382.25" y="1188.60" width="16.22" height="16.33" fill="#FFFBA0"/>
<rect x="398.47" y="1188.60" width="16.22" height="16.33" fill="#1A8012"/>
<rect x="414.69" y="1188.60" width="16.22" height="16.33" fill="#1A8012"/>
<rect x="430.91" y="1188.60" width="16.22" height="16.33" fill="#FFFBA0"/>
<rect x="447.12" y="1188.60" width="16.22" height="16.33" fill="#FFFBA0"/>
<rect x="463.34" y="1188.60" width="16.22" height="16.33" fill="#FFFBA0"/>
<rect x="479.56" y="1188.60" width="16.22" height="16.33" fill="#FF7F4F"/>
<rect x="495.77" y="1188.60" width="16.22" height="16.33" fill="#FFFBA0"/>
<rect x="511.99" y="1188.60" width="16.22" height="16.33" fill="#FFFBA0"/>
<rect x="528.21" y="1188.60" width="16.22" height="16.33" fill="#8CC45A"/>
<rect x="544.42" y="1188.60" width="16.22" height="16.33" fill="#FF3A22"/>
<rect x="560.64" y="1188.60" width="16.22" height="16.33" fill="#8CC45A"/>
<rect x="576.86" y="1188.60" width="16.22" height="16.33" fill="#FFFBA0"/>
<rect x="593.08" y="1188.60" width="16.22" height="16.33" fill="#8CC45A"/>
<rect x="139.00" y="1204.93" width="16.22" height="16.33" fill="#D5E98A"/>
<rect x="155.22" y="1204.93" width="16.22" height="16.33" fill="#77B84C"/>
<rect x="171.43" y="1204.93" width="16.22" height="16.33" fill="#88C25A"/>
<rect x="187.65" y="1204.93" width="16.22" height="16.33" fill="#77B84C"/>
<rect x="203.87" y="1204.93" width="16.22" height="16.33" fill="#D5E98A"/>
<rect x="220.08" y="1204.93" width="16.22" height="16.33" fill="#FF2A1A"/>
<rect x="236.30" y="1204.93" width="16.22" height="16.33" fill="#FF7A4E"/>
<rect x="252.52" y="1204.93" width="16.22" height="16.33" fill="#FFE89A"/>
<rect x="268.74" y="1204.93" width="16.22" height="16.33" fill="#1A8012"/>
<rect x="284.95" y="1204.93" width="16.22" height="16.33" fill="#FF7A4E"/>
<rect x="301.17" y="1204.93" width="16.22" height="16.33" fill="#FFE89A"/>
<rect x="317.39" y="1204.93" width="16.22" height="16.33" fill="#389C2A"/>
<rect x="333.60" y="1204.93" width="16.22" height="16.33" fill="#FFB474"/>
<rect x="349.82" y="1204.93" width="16.22" height="16.33" fill="#FF7A4E"/>
<rect x="366.04" y="1204.93" width="16.22" height="16.33" fill="#FF2A1A"/>
<rect x="382.25" y="1204.93" width="16.22" height="16.33" fill="#FF0000"/>
<rect x="398.47" y="1204.93" width="16.22" height="16.33" fill="#FFD488"/>
<rect x="414.69" y="1204.93" width="16.22" height="16.33" fill="#2E8B22"/>
<rect x="430.91" y="1204.93" width="16.22" height="16.33" fill="#FFE896"/>
<rect x="447.12" y="1204.93" width="16.22" height="16.33" fill="#BCDD72"/>
<rect x="463.34" y="1204.93" width="16.22" height="16.33" fill="#FF3A22"/>
<rect x="479.56" y="1204.93" width="16.22" height="16.33" fill="#FFA064"/>
<rect x="495.77" y="1204.93" width="16.22" height="16.33" fill="#FFFBA0"/>
<rect x="511.99" y="1204.93" width="16.22" height="16.33" fill="#FFFBA0"/>
<rect x="528.21" y="1204.93" width="16.22" height="16.33" fill="#FFF196"/>
<rect x="544.42" y="1204.93" width="16.22" height="16.33" fill="#FFA064"/>
<rect x="560.64" y="1204.93" width="16.22" height="16.33" fill="#FFE896"/>
<rect x="576.86" y="1204.93" width="16.22" height="16.33" fill="#FFE28C"/>
<rect x="593.08" y="1204.93" width="16.22" height="16.33" fill="#D5E98A"/>
<line x1="155.22" y1="1188.60" x2="155.22" y2="1221.26" stroke="#000" stroke-width="1.5"/>
<line x1="171.43" y1="1188.60" x2="171.43" y2="1221.26" stroke="#000" stroke-width="1.5"/>
<line x1="187.65" y1="1188.60" x2="187.65" y2="1221.26" stroke="#000" stroke-width="1.5"/>
<line x1="203.87" y1="1188.60" x2="203.87" y2="1221.26" stroke="#000" stroke-width="1.5"/>
<line x1="220.08" y1="1188.60" x2="220.08" y2="1221.26" stroke="#000" stroke-width="1.5"/>
<line x1="236.30" y1="1188.60" x2="236.30" y2="1221.26" stroke="#000" stroke-width="1.5"/>
<line x1="252.52" y1="1188.60" x2="252.52" y2="1221.26" stroke="#000" stroke-width="1.5"/>
<line x1="268.74" y1="1188.60" x2="268.74" y2="1221.26" stroke="#000" stroke-width="1.5"/>
<line x1="284.95" y1="1188.60" x2="284.95" y2="1221.26" stroke="#000" stroke-width="1.5"/>
<line x1="301.17" y1="1188.60" x2="301.17" y2="1221.26" stroke="#000" stroke-width="1.5"/>
<line x1="317.39" y1="1188.60" x2="317.39" y2="1221.26" stroke="#000" stroke-width="1.5"/>
<line x1="333.60" y1="1188.60" x2="333.60" y2="1221.26" stroke="#000" stroke-width="1.5"/>
<line x1="349.82" y1="1188.60" x2="349.82" y2="1221.26" stroke="#000" stroke-width="1.5"/>
<line x1="366.04" y1="1188.60" x2="366.04" y2="1221.26" stroke="#000" stroke-width="1.5"/>
<line x1="382.25" y1="1188.60" x2="382.25" y2="1221.26" stroke="#000" stroke-width="1.5"/>
<line x1="398.47" y1="1188.60" x2="398.47" y2="1221.26" stroke="#000" stroke-width="1.5"/>
<line x1="414.69" y1="1188.60" x2="414.69" y2="1221.26" stroke="#000" stroke-width="1.5"/>
<line x1="430.91" y1="1188.60" x2="430.91" y2="1221.26" stroke="#000" stroke-width="1.5"/>
<line x1="447.12" y1="1188.60" x2="447.12" y2="1221.26" stroke="#000" stroke-width="1.5"/>
<line x1="463.34" y1="1188.60" x2="463.34" y2="1221.26" stroke="#000" stroke-width="1.5"/>
<line x1="479.56" y1="1188.60" x2="479.56" y2="1221.26" stroke="#000" stroke-width="1.5"/>
<line x1="495.77" y1="1188.60" x2="495.77" y2="1221.26" stroke="#000" stroke-width="1.5"/>
<line x1="511.99" y1="1188.60" x2="511.99" y2="1221.26" stroke="#000" stroke-width="1.5"/>
<line x1="528.21" y1="1188.60" x2="528.21" y2="1221.26" stroke="#000" stroke-width="1.5"/>
<line x1="544.42" y1="1188.60" x2="544.42" y2="1221.26" stroke="#000" stroke-width="1.5"/>
<line x1="560.64" y1="1188.60" x2="560.64" y2="1221.26" stroke="#000" stroke-width="1.5"/>
<line x1="576.86" y1="1188.60" x2="576.86" y2="1221.26" stroke="#000" stroke-width="1.5"/>
<line x1="593.08" y1="1188.60" x2="593.08" y2="1221.26" stroke="#000" stroke-width="1.5"/>
<line x1="139.00" y1="1204.93" x2="609.29" y2="1204.93" stroke="#000" stroke-width="1.5"/>
<rect x="139.00" y="1188.60" width="470.29" height="32.66" fill="none" stroke="#000" stroke-width="1.9"/>
<text x="91.43" y="1200.10" font-size="12.4" font-style="italic" textLength="42.04" lengthAdjust="spacingAndGlyphs" xml:space="preserve">Organs</text>
<text x="105.78" y="1217.30" font-size="12.4" font-style="italic" textLength="27.94" lengthAdjust="spacingAndGlyphs" xml:space="preserve">MBS</text>
<rect x="139.00" y="1231.20" width="16.22" height="16.33" fill="#D3D3D3"/>
<rect x="155.22" y="1231.20" width="16.22" height="16.33" fill="#AE7FC1"/>
<rect x="171.43" y="1231.20" width="16.22" height="16.33" fill="#AE7FC1"/>
<rect x="187.65" y="1231.20" width="16.22" height="16.33" fill="#AE7FC1"/>
<rect x="203.87" y="1231.20" width="16.22" height="16.33" fill="#D3D3D3"/>
<rect x="220.08" y="1231.20" width="16.22" height="16.33" fill="#FFFFFF"/>
<rect x="236.30" y="1231.20" width="16.22" height="16.33" fill="#D3D3D3"/>
<rect x="252.52" y="1231.20" width="16.22" height="16.33" fill="#AE7FC1"/>
<rect x="268.74" y="1231.20" width="16.22" height="16.33" fill="#FFFFFF"/>
<rect x="284.95" y="1231.20" width="16.22" height="16.33" fill="#D3D3D3"/>
<rect x="301.17" y="1231.20" width="16.22" height="16.33" fill="#FFFFFF"/>
<rect x="317.39" y="1231.20" width="16.22" height="16.33" fill="#AE7FC1"/>
<rect x="333.60" y="1231.20" width="16.22" height="16.33" fill="#AE7FC1"/>
<rect x="349.82" y="1231.20" width="16.22" height="16.33" fill="#D3D3D3"/>
<rect x="366.04" y="1231.20" width="16.22" height="16.33" fill="#FFFFFF"/>
<rect x="382.25" y="1231.20" width="16.22" height="16.33" fill="#D3D3D3"/>
<rect x="398.47" y="1231.20" width="16.22" height="16.33" fill="#D3D3D3"/>
<rect x="414.69" y="1231.20" width="16.22" height="16.33" fill="#D3D3D3"/>
<rect x="430.91" y="1231.20" width="16.22" height="16.33" fill="#D3D3D3"/>
<rect x="447.12" y="1231.20" width="16.22" height="16.33" fill="#FFFFFF"/>
<rect x="463.34" y="1231.20" width="16.22" height="16.33" fill="#AE7FC1"/>
<rect x="479.56" y="1231.20" width="16.22" height="16.33" fill="#D3D3D3"/>
<rect x="495.77" y="1231.20" width="16.22" height="16.33" fill="#FFFFFF"/>
<rect x="511.99" y="1231.20" width="16.22" height="16.33" fill="#D3D3D3"/>
<rect x="528.21" y="1231.20" width="16.22" height="16.33" fill="#D3D3D3"/>
<rect x="544.42" y="1231.20" width="16.22" height="16.33" fill="#D3D3D3"/>
<rect x="560.64" y="1231.20" width="16.22" height="16.33" fill="#AE7FC1"/>
<rect x="576.86" y="1231.20" width="16.22" height="16.33" fill="#D3D3D3"/>
<rect x="593.08" y="1231.20" width="16.22" height="16.33" fill="#D3D3D3"/>
<line x1="155.22" y1="1231.20" x2="155.22" y2="1247.53" stroke="#000" stroke-width="1.5"/>
<line x1="171.43" y1="1231.20" x2="171.43" y2="1247.53" stroke="#000" stroke-width="1.5"/>
<line x1="187.65" y1="1231.20" x2="187.65" y2="1247.53" stroke="#000" stroke-width="1.5"/>
<line x1="203.87" y1="1231.20" x2="203.87" y2="1247.53" stroke="#000" stroke-width="1.5"/>
<line x1="220.08" y1="1231.20" x2="220.08" y2="1247.53" stroke="#000" stroke-width="1.5"/>
<line x1="236.30" y1="1231.20" x2="236.30" y2="1247.53" stroke="#000" stroke-width="1.5"/>
<line x1="252.52" y1="1231.20" x2="252.52" y2="1247.53" stroke="#000" stroke-width="1.5"/>
<line x1="268.74" y1="1231.20" x2="268.74" y2="1247.53" stroke="#000" stroke-width="1.5"/>
<line x1="284.95" y1="1231.20" x2="284.95" y2="1247.53" stroke="#000" stroke-width="1.5"/>
<line x1="301.17" y1="1231.20" x2="301.17" y2="1247.53" stroke="#000" stroke-width="1.5"/>
<line x1="317.39" y1="1231.20" x2="317.39" y2="1247.53" stroke="#000" stroke-width="1.5"/>
<line x1="333.60" y1="1231.20" x2="333.60" y2="1247.53" stroke="#000" stroke-width="1.5"/>
<line x1="349.82" y1="1231.20" x2="349.82" y2="1247.53" stroke="#000" stroke-width="1.5"/>
<line x1="366.04" y1="1231.20" x2="366.04" y2="1247.53" stroke="#000" stroke-width="1.5"/>
<line x1="382.25" y1="1231.20" x2="382.25" y2="1247.53" stroke="#000" stroke-width="1.5"/>
<line x1="398.47" y1="1231.20" x2="398.47" y2="1247.53" stroke="#000" stroke-width="1.5"/>
<line x1="414.69" y1="1231.20" x2="414.69" y2="1247.53" stroke="#000" stroke-width="1.5"/>
<line x1="430.91" y1="1231.20" x2="430.91" y2="1247.53" stroke="#000" stroke-width="1.5"/>
<line x1="447.12" y1="1231.20" x2="447.12" y2="1247.53" stroke="#000" stroke-width="1.5"/>
<line x1="463.34" y1="1231.20" x2="463.34" y2="1247.53" stroke="#000" stroke-width="1.5"/>
<line x1="479.56" y1="1231.20" x2="479.56" y2="1247.53" stroke="#000" stroke-width="1.5"/>
<line x1="495.77" y1="1231.20" x2="495.77" y2="1247.53" stroke="#000" stroke-width="1.5"/>
<line x1="511.99" y1="1231.20" x2="511.99" y2="1247.53" stroke="#000" stroke-width="1.5"/>
<line x1="528.21" y1="1231.20" x2="528.21" y2="1247.53" stroke="#000" stroke-width="1.5"/>
<line x1="544.42" y1="1231.20" x2="544.42" y2="1247.53" stroke="#000" stroke-width="1.5"/>
<line x1="560.64" y1="1231.20" x2="560.64" y2="1247.53" stroke="#000" stroke-width="1.5"/>
<line x1="576.86" y1="1231.20" x2="576.86" y2="1247.53" stroke="#000" stroke-width="1.5"/>
<line x1="593.08" y1="1231.20" x2="593.08" y2="1247.53" stroke="#000" stroke-width="1.5"/>
<rect x="139.00" y="1231.20" width="470.29" height="16.33" fill="none" stroke="#000" stroke-width="1.9"/>
<text x="97.29" y="1244.70" font-size="12.4" font-style="italic" textLength="36.29" lengthAdjust="spacingAndGlyphs" xml:space="preserve">PD-L1</text>
<line x1="171.83" y1="136.50" x2="171.83" y2="1254.00" stroke="#000" stroke-width="1.4" stroke-dasharray="4.5,3.5"/>
<line x1="220.48" y1="136.50" x2="220.48" y2="1254.00" stroke="#000" stroke-width="1.4" stroke-dasharray="4.5,3.5"/>
<line x1="236.70" y1="136.50" x2="236.70" y2="1254.00" stroke="#000" stroke-width="1.4" stroke-dasharray="4.5,3.5"/>
<line x1="431.31" y1="136.50" x2="431.31" y2="1254.00" stroke="#000" stroke-width="1.4" stroke-dasharray="4.5,3.5"/>
<text x="20.22" y="1280.00" font-size="12.4" font-weight="bold" textLength="84.65" lengthAdjust="spacingAndGlyphs" xml:space="preserve">Alteration Type</text>
<rect x="20.40" y="1289.05" width="14.50" height="7.60" fill="#B553D7" stroke="#3a3a3a" stroke-width="0.8"/>
<text x="37.09" y="1297.35" font-size="12" textLength="117.58" lengthAdjust="spacingAndGlyphs" xml:space="preserve">deleterious SNV/indel</text>
<rect x="20.40" y="1302.20" width="14.50" height="7.60" fill="#FA8080" stroke="#3a3a3a" stroke-width="0.8"/>
<text x="37.08" y="1310.50" font-size="12" textLength="75.58" lengthAdjust="spacingAndGlyphs" xml:space="preserve">gene deletion</text>
<rect x="20.40" y="1315.35" width="14.50" height="7.60" fill="#95C11F" stroke="#3a3a3a" stroke-width="0.8"/>
<text x="37.09" y="1323.65" font-size="12" textLength="110.08" lengthAdjust="spacingAndGlyphs" xml:space="preserve">activating SNV/indel</text>
<rect x="20.40" y="1328.50" width="14.50" height="7.60" fill="#139463" stroke="#3a3a3a" stroke-width="0.8"/>
<text x="37.08" y="1336.80" font-size="12" textLength="101.34" lengthAdjust="spacingAndGlyphs" xml:space="preserve">gene amplification</text>
<rect x="20.40" y="1341.65" width="14.50" height="7.60" fill="#0000FF" stroke="#3a3a3a" stroke-width="0.8"/>
<text x="36.83" y="1349.95" font-size="12" textLength="174.86" lengthAdjust="spacingAndGlyphs" xml:space="preserve">unknown significance SNV/indel</text>
<rect x="20.40" y="1354.80" width="14.50" height="7.60" fill="#555555" stroke="#3a3a3a" stroke-width="0.8"/>
<text x="37.08" y="1363.10" font-size="12" textLength="79.84" lengthAdjust="spacingAndGlyphs" xml:space="preserve">complex event</text>
<rect x="20.40" y="1367.95" width="14.50" height="7.60" fill="#D3D3D3" stroke="#3a3a3a" stroke-width="0.8"/>
<text x="36.72" y="1376.25" font-size="12" textLength="96.71" lengthAdjust="spacingAndGlyphs" xml:space="preserve">highly rearranged</text>
<text x="224.28" y="1280.00" font-size="12.4" font-weight="bold" textLength="53.60" lengthAdjust="spacingAndGlyphs" xml:space="preserve">Response</text>
<rect x="224.90" y="1289.05" width="14.50" height="7.60" fill="#FBA042" stroke="#3a3a3a" stroke-width="0.8"/>
<text x="241.50" y="1297.35" font-size="12" xml:space="preserve">CR</text>
<rect x="224.90" y="1302.20" width="14.50" height="7.60" fill="#FFFF00" stroke="#3a3a3a" stroke-width="0.8"/>
<text x="241.10" y="1310.50" font-size="12" xml:space="preserve">PR</text>
<rect x="224.90" y="1315.35" width="14.50" height="7.60" fill="#B5F3DD" stroke="#3a3a3a" stroke-width="0.8"/>
<text x="241.55" y="1323.65" font-size="12" xml:space="preserve">SD</text>
<rect x="224.90" y="1328.50" width="14.50" height="7.60" fill="#1396B4" stroke="#3a3a3a" stroke-width="0.8"/>
<text x="241.10" y="1336.80" font-size="12" xml:space="preserve">PD</text>
<rect x="224.90" y="1341.65" width="14.50" height="7.60" fill="#858585" stroke="#3a3a3a" stroke-width="0.8"/>
<text x="241.10" y="1349.95" font-size="12" xml:space="preserve">NE</text>
<text x="297.12" y="1279.30" font-size="12.4" font-weight="bold" textLength="20.37" lengthAdjust="spacingAndGlyphs" xml:space="preserve">PFS</text>
<rect x="297.70" y="1288.90" width="14.50" height="7.60" fill="#00FF1E" stroke="#3a3a3a" stroke-width="0.8"/>
<text x="314.30" y="1297.20" font-size="12" xml:space="preserve">25.8</text>
<rect x="297.70" y="1303.10" width="14.50" height="7.60" fill="#008A00" stroke="#3a3a3a" stroke-width="0.8"/>
<text x="314.00" y="1311.40" font-size="12" xml:space="preserve">12.9</text>
<rect x="297.70" y="1317.30" width="14.50" height="7.60" fill="#FF0000" stroke="#3a3a3a" stroke-width="0.8"/>
<text x="314.45" y="1325.60" font-size="12" xml:space="preserve">0</text>
<rect x="297.70" y="1331.50" width="14.50" height="7.60" fill="#fff" stroke="#333" stroke-width="0.8"/>
<circle cx="304.95" cy="1335.30" r="1.2" fill="none" stroke="#333" stroke-width="0.6"/>
<text x="314.39" y="1339.80" font-size="12" textLength="50.60" lengthAdjust="spacingAndGlyphs" xml:space="preserve">censored</text>
<text x="381.76" y="1279.30" font-size="12.4" font-weight="bold" textLength="15.86" lengthAdjust="spacingAndGlyphs" xml:space="preserve">OS</text>
<rect x="382.10" y="1288.90" width="14.50" height="7.60" fill="#00FF1E" stroke="#3a3a3a" stroke-width="0.8"/>
<text x="398.70" y="1297.20" font-size="12" xml:space="preserve">26.4</text>
<rect x="382.10" y="1303.10" width="14.50" height="7.60" fill="#008A00" stroke="#3a3a3a" stroke-width="0.8"/>
<text x="398.40" y="1311.40" font-size="12" xml:space="preserve">13.2</text>
<rect x="382.10" y="1317.30" width="14.50" height="7.60" fill="#FF0000" stroke="#3a3a3a" stroke-width="0.8"/>
<text x="398.85" y="1325.60" font-size="12" xml:space="preserve">0.5</text>
<rect x="382.10" y="1331.50" width="14.50" height="7.60" fill="#fff" stroke="#333" stroke-width="0.8"/>
<circle cx="389.35" cy="1335.30" r="1.2" fill="none" stroke="#333" stroke-width="0.6"/>
<text x="398.79" y="1339.80" font-size="12" textLength="50.60" lengthAdjust="spacingAndGlyphs" xml:space="preserve">censored</text>
<text x="459.74" y="1279.30" font-size="12.4" font-weight="bold" textLength="53.50" lengthAdjust="spacingAndGlyphs" xml:space="preserve">Histology</text>
<rect x="460.40" y="1288.90" width="14.50" height="7.60" fill="#92EBCE" stroke="#3a3a3a" stroke-width="0.8"/>
<text x="477.09" y="1297.20" font-size="12" textLength="90.49" lengthAdjust="spacingAndGlyphs" xml:space="preserve">adenocarcinoma</text>
<rect x="460.40" y="1302.80" width="14.50" height="7.60" fill="#00BE00" stroke="#3a3a3a" stroke-width="0.8"/>
<text x="477.25" y="1311.10" font-size="12" xml:space="preserve">squamous cell carcinoma</text>
<rect x="460.40" y="1316.70" width="14.50" height="7.60" fill="#FFFF00" stroke="#3a3a3a" stroke-width="0.8"/>
<text x="476.82" y="1325.00" font-size="12" textLength="146.74" lengthAdjust="spacingAndGlyphs" xml:space="preserve">undifferentiated carcinoma</text>
<rect x="460.40" y="1330.60" width="14.50" height="7.60" fill="#38A4DE" stroke="#3a3a3a" stroke-width="0.8"/>
<text x="477.25" y="1338.90" font-size="12" textLength="125.61" lengthAdjust="spacingAndGlyphs" xml:space="preserve">sarcomatoid carcinoma</text>
<text x="636.10" y="1278.30" font-size="12.4" font-weight="bold" textLength="32.08" lengthAdjust="spacingAndGlyphs" xml:space="preserve">ECOG</text>
<rect x="636.70" y="1289.20" width="14.50" height="7.60" fill="#E0061A" stroke="#3a3a3a" stroke-width="0.8"/>
<text x="653.30" y="1297.50" font-size="12" xml:space="preserve">2</text>
<rect x="636.70" y="1302.30" width="14.50" height="7.60" fill="#FBA042" stroke="#3a3a3a" stroke-width="0.8"/>
<text x="653.00" y="1310.60" font-size="12" xml:space="preserve">1</text>
<rect x="636.70" y="1315.40" width="14.50" height="7.60" fill="#FFFFFF" stroke="#3a3a3a" stroke-width="0.8"/>
<text x="653.45" y="1323.70" font-size="12" xml:space="preserve">0</text>
<text x="294.07" y="1374.30" font-size="12.4" font-weight="bold" textLength="120.78" lengthAdjust="spacingAndGlyphs" xml:space="preserve">Prior Lines of Therapy</text>
<rect x="294.70" y="1383.40" width="14.50" height="7.60" fill="#F9C9EF" stroke="#3a3a3a" stroke-width="0.8"/>
<text x="311.00" y="1391.70" font-size="12" xml:space="preserve">1</text>
<rect x="294.70" y="1395.95" width="14.50" height="7.60" fill="#B553D7" stroke="#3a3a3a" stroke-width="0.8"/>
<text x="311.30" y="1404.25" font-size="12" xml:space="preserve">2</text>
<rect x="294.70" y="1408.50" width="14.50" height="7.60" fill="#FA8080" stroke="#3a3a3a" stroke-width="0.8"/>
<text x="311.50" y="1416.80" font-size="12" xml:space="preserve">≥3</text>
<text x="437.34" y="1374.30" font-size="12.4" font-weight="bold" textLength="40.24" lengthAdjust="spacingAndGlyphs" xml:space="preserve">Organs</text>
<rect x="437.70" y="1383.50" width="14.50" height="7.60" fill="#1A8012" stroke="#3a3a3a" stroke-width="0.8"/>
<text x="454.00" y="1391.80" font-size="12" xml:space="preserve">1</text>
<rect x="437.70" y="1396.50" width="14.50" height="7.60" fill="#8CC45A" stroke="#3a3a3a" stroke-width="0.8"/>
<text x="454.30" y="1404.80" font-size="12" xml:space="preserve">2</text>
<rect x="437.70" y="1409.50" width="14.50" height="7.60" fill="#FFFBA0" stroke="#3a3a3a" stroke-width="0.8"/>
<text x="454.45" y="1417.80" font-size="12" xml:space="preserve">3</text>
<rect x="437.70" y="1422.50" width="14.50" height="7.60" fill="#FF7F4F" stroke="#3a3a3a" stroke-width="0.8"/>
<text x="454.65" y="1430.80" font-size="12" xml:space="preserve">4</text>
<rect x="437.70" y="1435.50" width="14.50" height="7.60" fill="#FF3A22" stroke="#3a3a3a" stroke-width="0.8"/>
<text x="454.40" y="1443.80" font-size="12" xml:space="preserve">5</text>
<text x="498.76" y="1374.30" font-size="12.4" font-weight="bold" textLength="25.46" lengthAdjust="spacingAndGlyphs" xml:space="preserve">MBS</text>
<rect x="499.40" y="1383.50" width="14.50" height="7.60" fill="#1A8012" stroke="#3a3a3a" stroke-width="0.8"/>
<text x="516.15" y="1391.80" font-size="12" xml:space="preserve">3.6</text>
<rect x="499.40" y="1396.50" width="14.50" height="7.60" fill="#FFFBA0" stroke="#3a3a3a" stroke-width="0.8"/>
<text x="515.70" y="1404.80" font-size="12" xml:space="preserve">10</text>
<rect x="499.40" y="1409.50" width="14.50" height="7.60" fill="#FF0000" stroke="#3a3a3a" stroke-width="0.8"/>
<text x="516.00" y="1417.80" font-size="12" xml:space="preserve">29.7</text>
<text x="564.77" y="1374.30" font-size="12.4" font-weight="bold" textLength="32.73" lengthAdjust="spacingAndGlyphs" xml:space="preserve">PD-L1</text>
<rect x="565.40" y="1383.50" width="14.50" height="7.60" fill="#AE7FC1" stroke="#3a3a3a" stroke-width="0.8"/>
<text x="581.80" y="1391.80" font-size="12" textLength="43.37" lengthAdjust="spacingAndGlyphs" xml:space="preserve">positive</text>
<rect x="565.40" y="1396.50" width="14.50" height="7.60" fill="#FFFFFF" stroke="#3a3a3a" stroke-width="0.8"/>
<text x="581.76" y="1404.80" font-size="12" textLength="47.38" lengthAdjust="spacingAndGlyphs" xml:space="preserve">negative</text>
<rect x="565.40" y="1409.50" width="14.50" height="7.60" fill="#D3D3D3" stroke="#3a3a3a" stroke-width="0.8"/>
<text x="581.54" y="1417.80" font-size="12" textLength="18.38" lengthAdjust="spacingAndGlyphs" xml:space="preserve">ND</text>
<text x="735.47" y="28.75" font-size="33.5" font-weight="bold" textLength="21.19" lengthAdjust="spacingAndGlyphs" xml:space="preserve">b</text>
<line x1="830.60" y1="36.40" x2="830.60" y2="252.95" stroke="#000" stroke-width="2.3"/>
<line x1="829.45" y1="251.80" x2="1154.20" y2="251.80" stroke="#000" stroke-width="2.3"/>
<line x1="824.60" y1="239.20" x2="830.60" y2="239.20" stroke="#000" stroke-width="2.1"/>
<text x="810.33" y="243.70" font-size="13.6" font-weight="bold" textLength="9.26" lengthAdjust="spacingAndGlyphs" xml:space="preserve">0</text>
<line x1="824.60" y1="202.41" x2="830.60" y2="202.41" stroke="#000" stroke-width="2.1"/>
<text x="802.08" y="206.91" font-size="13.6" font-weight="bold" textLength="17.49" lengthAdjust="spacingAndGlyphs" xml:space="preserve">20</text>
<line x1="824.60" y1="165.62" x2="830.60" y2="165.62" stroke="#000" stroke-width="2.1"/>
<text x="802.37" y="170.12" font-size="13.6" font-weight="bold" textLength="17.18" lengthAdjust="spacingAndGlyphs" xml:space="preserve">40</text>
<line x1="824.60" y1="128.83" x2="830.60" y2="128.83" stroke="#000" stroke-width="2.1"/>
<text x="802.02" y="133.33" font-size="13.6" font-weight="bold" textLength="17.55" lengthAdjust="spacingAndGlyphs" xml:space="preserve">60</text>
<line x1="824.60" y1="92.04" x2="830.60" y2="92.04" stroke="#000" stroke-width="2.1"/>
<text x="802.08" y="96.54" font-size="13.6" font-weight="bold" textLength="17.49" lengthAdjust="spacingAndGlyphs" xml:space="preserve">80</text>
<line x1="824.60" y1="55.25" x2="830.60" y2="55.25" stroke="#000" stroke-width="2.1"/>
<text x="795.40" y="59.75" font-size="13.6" font-weight="bold" textLength="24.08" lengthAdjust="spacingAndGlyphs" xml:space="preserve">100</text>
<line x1="841.20" y1="251.80" x2="841.20" y2="257.80" stroke="#000" stroke-width="2.1"/>
<text x="836.08" y="273.80" font-size="13.6" font-weight="bold" textLength="9.26" lengthAdjust="spacingAndGlyphs" xml:space="preserve">0</text>
<line x1="872.30" y1="251.80" x2="872.30" y2="257.80" stroke="#000" stroke-width="2.1"/>
<text x="867.50" y="273.80" font-size="13.6" font-weight="bold" textLength="8.79" lengthAdjust="spacingAndGlyphs" xml:space="preserve">3</text>
<line x1="903.40" y1="251.80" x2="903.40" y2="257.80" stroke="#000" stroke-width="2.1"/>
<text x="898.35" y="273.80" font-size="13.6" font-weight="bold" textLength="9.05" lengthAdjust="spacingAndGlyphs" xml:space="preserve">6</text>
<line x1="934.50" y1="251.80" x2="934.50" y2="257.80" stroke="#000" stroke-width="2.1"/>
<text x="929.51" y="273.80" font-size="13.6" font-weight="bold" textLength="9.05" lengthAdjust="spacingAndGlyphs" xml:space="preserve">9</text>
<line x1="965.60" y1="251.80" x2="965.60" y2="257.80" stroke="#000" stroke-width="2.1"/>
<text x="955.94" y="273.80" font-size="13.6" font-weight="bold" textLength="18.00" lengthAdjust="spacingAndGlyphs" xml:space="preserve">12</text>
<line x1="996.70" y1="251.80" x2="996.70" y2="257.80" stroke="#000" stroke-width="2.1"/>
<text x="987.05" y="273.80" font-size="13.6" font-weight="bold" textLength="17.74" lengthAdjust="spacingAndGlyphs" xml:space="preserve">15</text>
<line x1="1027.80" y1="251.80" x2="1027.80" y2="257.80" stroke="#000" stroke-width="2.1"/>
<text x="1018.15" y="273.80" font-size="13.6" font-weight="bold" textLength="17.80" lengthAdjust="spacingAndGlyphs" xml:space="preserve">18</text>
<line x1="1058.90" y1="251.80" x2="1058.90" y2="257.80" stroke="#000" stroke-width="2.1"/>
<text x="1049.74" y="273.80" font-size="13.6" font-weight="bold" textLength="17.24" lengthAdjust="spacingAndGlyphs" xml:space="preserve">21</text>
<line x1="1090.00" y1="251.80" x2="1090.00" y2="257.80" stroke="#000" stroke-width="2.1"/>
<text x="1080.85" y="273.80" font-size="13.6" font-weight="bold" textLength="16.89" lengthAdjust="spacingAndGlyphs" xml:space="preserve">24</text>
<text x="948.04" y="293.70" font-size="13.4" font-weight="bold" textLength="92.17" lengthAdjust="spacingAndGlyphs" xml:space="preserve">time [months]</text>
<g transform="rotate(-90 785.00 147.22)"><text x="690.43" y="147.22" font-size="13.4" font-weight="bold" textLength="189.00" lengthAdjust="spacingAndGlyphs" xml:space="preserve">progression-free survival [%]</text></g>
<polyline points="842.50,55.25 845.60,55.25 845.60,75.69 849.10,75.69 849.10,96.13 854.10,96.13 854.10,116.57 855.50,116.57 855.50,137.01 863.30,137.01 863.30,157.45 864.70,157.45 864.70,177.89 869.00,177.89 869.00,198.33 875.30,198.33 875.30,218.77 880.30,218.77 880.30,239.21" fill="none" stroke="#CC0A64" stroke-width="4.0" stroke-linejoin="round"/>
<polyline points="841.20,55.25 849.80,55.25 849.80,64.45 851.50,64.45 851.50,73.65 853.30,73.65 853.30,82.85 855.20,82.85 855.20,92.05 857.00,92.05 857.00,101.25 859.00,101.25 859.00,110.45 864.70,110.45 864.70,119.65 866.00,119.65 866.00,128.85 867.10,128.85 867.10,138.05 867.80,138.05 867.80,147.25 868.40,147.25 868.40,156.45 869.00,156.45 869.00,165.65 870.40,165.65 870.40,174.85 885.70,174.85 885.70,184.70 1031.00,184.70 1031.00,197.70 1042.20,197.70 1042.20,218.30 1109.00,218.30" fill="none" stroke="#000" stroke-width="4.0" stroke-linejoin="round"/>
<line x1="841.30" y1="55.00" x2="841.30" y2="48.00" stroke="#000" stroke-width="3.6"/>
<line x1="988.70" y1="185.70" x2="988.70" y2="178.70" stroke="#000" stroke-width="3.6"/>
<line x1="1040.00" y1="198.70" x2="1040.00" y2="191.70" stroke="#000" stroke-width="3.6"/>
<line x1="1109.00" y1="219.30" x2="1109.00" y2="212.30" stroke="#000" stroke-width="3.6"/>
<line x1="939.00" y1="40.00" x2="960.30" y2="40.00" stroke="#000" stroke-width="4.3"/>
<line x1="949.65" y1="40.00" x2="949.65" y2="34.20" stroke="#000" stroke-width="4.2"/>
<line x1="939.00" y1="58.50" x2="960.30" y2="58.50" stroke="#CC0A64" stroke-width="4.3"/>
<line x1="949.65" y1="58.50" x2="949.65" y2="52.70" stroke="#CC0A64" stroke-width="4.2"/>
<text x="968.49" y="43.75" font-size="12" textLength="72.44" lengthAdjust="spacingAndGlyphs" xml:space="preserve">Ras wild-type</text>
<text x="968.53" y="62.20" font-size="12" textLength="70.30" lengthAdjust="spacingAndGlyphs" xml:space="preserve">Ras activated</text>
<text x="1084.52" y="26.90" font-size="12" font-weight="bold" textLength="66.03" lengthAdjust="spacingAndGlyphs" xml:space="preserve">Median PFS</text>
<text x="1084.24" y="43.75" font-size="12" textLength="104.04" lengthAdjust="spacingAndGlyphs" xml:space="preserve">2.6 (95% CI: 2.3-NA)</text>
<text x="1084.24" y="62.20" font-size="12" textLength="104.04" lengthAdjust="spacingAndGlyphs" xml:space="preserve">2.2 (95% CI: 1.4-NA)</text>
<text x="1055.57" y="81.60" font-size="12" textLength="144.04" lengthAdjust="spacingAndGlyphs" xml:space="preserve">HR  2.23 (95% CI: 0.92-5.41)</text>
<text x="1056.16" y="97.30" font-size="12" font-style="italic" textLength="7.67" lengthAdjust="spacingAndGlyphs" xml:space="preserve">P</text><text x="1063.83" y="97.30" font-size="12" textLength="35.48" lengthAdjust="spacingAndGlyphs" xml:space="preserve">=0.066</text>
<text x="753.19" y="312.70" font-size="12" textLength="75.88" lengthAdjust="spacingAndGlyphs" xml:space="preserve">Ras wild-type:</text>
<text x="754.22" y="327.60" font-size="12" textLength="74.86" lengthAdjust="spacingAndGlyphs" xml:space="preserve">Ras activated:</text>
<text x="833.48" y="312.70" font-size="12" xml:space="preserve">20</text>
<text x="836.88" y="327.60" font-size="12" fill="#C41E30" xml:space="preserve">9</text>
<text x="867.93" y="312.70" font-size="12" xml:space="preserve">6</text>
<text x="867.95" y="327.60" font-size="12" fill="#C41E30" xml:space="preserve">2</text>
<text x="899.08" y="312.70" font-size="12" xml:space="preserve">5</text>
<text x="899.08" y="327.60" font-size="12" fill="#C41E30" xml:space="preserve">0</text>
<text x="930.17" y="312.70" font-size="12" xml:space="preserve">5</text>
<text x="930.17" y="327.60" font-size="12" fill="#C41E30" xml:space="preserve">0</text>
<text x="961.27" y="312.70" font-size="12" xml:space="preserve">5</text>
<text x="961.27" y="327.60" font-size="12" fill="#C41E30" xml:space="preserve">0</text>
<text x="992.40" y="312.70" font-size="12" xml:space="preserve">4</text>
<text x="992.38" y="327.60" font-size="12" fill="#C41E30" xml:space="preserve">0</text>
<text x="1023.50" y="312.70" font-size="12" xml:space="preserve">4</text>
<text x="1023.48" y="327.60" font-size="12" fill="#C41E30" xml:space="preserve">0</text>
<text x="1054.40" y="312.70" font-size="12" xml:space="preserve">1</text>
<text x="1054.58" y="327.60" font-size="12" fill="#C41E30" xml:space="preserve">0</text>
<text x="1085.50" y="312.70" font-size="12" xml:space="preserve">1</text>
<text x="1085.67" y="327.60" font-size="12" fill="#C41E30" xml:space="preserve">0</text>
<line x1="830.60" y1="371.70" x2="830.60" y2="588.25" stroke="#000" stroke-width="2.3"/>
<line x1="829.45" y1="587.10" x2="1154.20" y2="587.10" stroke="#000" stroke-width="2.3"/>
<line x1="824.60" y1="574.50" x2="830.60" y2="574.50" stroke="#000" stroke-width="2.1"/>
<text x="810.33" y="579.00" font-size="13.6" font-weight="bold" textLength="9.26" lengthAdjust="spacingAndGlyphs" xml:space="preserve">0</text>
<line x1="824.60" y1="537.71" x2="830.60" y2="537.71" stroke="#000" stroke-width="2.1"/>
<text x="802.08" y="542.21" font-size="13.6" font-weight="bold" textLength="17.49" lengthAdjust="spacingAndGlyphs" xml:space="preserve">20</text>
<line x1="824.60" y1="500.92" x2="830.60" y2="500.92" stroke="#000" stroke-width="2.1"/>
<text x="802.37" y="505.42" font-size="13.6" font-weight="bold" textLength="17.18" lengthAdjust="spacingAndGlyphs" xml:space="preserve">40</text>
<line x1="824.60" y1="464.13" x2="830.60" y2="464.13" stroke="#000" stroke-width="2.1"/>
<text x="802.02" y="468.63" font-size="13.6" font-weight="bold" textLength="17.55" lengthAdjust="spacingAndGlyphs" xml:space="preserve">60</text>
<line x1="824.60" y1="427.34" x2="830.60" y2="427.34" stroke="#000" stroke-width="2.1"/>
<text x="802.08" y="431.84" font-size="13.6" font-weight="bold" textLength="17.49" lengthAdjust="spacingAndGlyphs" xml:space="preserve">80</text>
<line x1="824.60" y1="390.55" x2="830.60" y2="390.55" stroke="#000" stroke-width="2.1"/>
<text x="795.40" y="395.05" font-size="13.6" font-weight="bold" textLength="24.08" lengthAdjust="spacingAndGlyphs" xml:space="preserve">100</text>
<line x1="841.20" y1="587.10" x2="841.20" y2="593.10" stroke="#000" stroke-width="2.1"/>
<text x="836.08" y="609.10" font-size="13.6" font-weight="bold" textLength="9.26" lengthAdjust="spacingAndGlyphs" xml:space="preserve">0</text>
<line x1="872.30" y1="587.10" x2="872.30" y2="593.10" stroke="#000" stroke-width="2.1"/>
<text x="867.50" y="609.10" font-size="13.6" font-weight="bold" textLength="8.79" lengthAdjust="spacingAndGlyphs" xml:space="preserve">3</text>
<line x1="903.40" y1="587.10" x2="903.40" y2="593.10" stroke="#000" stroke-width="2.1"/>
<text x="898.35" y="609.10" font-size="13.6" font-weight="bold" textLength="9.05" lengthAdjust="spacingAndGlyphs" xml:space="preserve">6</text>
<line x1="934.50" y1="587.10" x2="934.50" y2="593.10" stroke="#000" stroke-width="2.1"/>
<text x="929.51" y="609.10" font-size="13.6" font-weight="bold" textLength="9.05" lengthAdjust="spacingAndGlyphs" xml:space="preserve">9</text>
<line x1="965.60" y1="587.10" x2="965.60" y2="593.10" stroke="#000" stroke-width="2.1"/>
<text x="955.94" y="609.10" font-size="13.6" font-weight="bold" textLength="18.00" lengthAdjust="spacingAndGlyphs" xml:space="preserve">12</text>
<line x1="996.70" y1="587.10" x2="996.70" y2="593.10" stroke="#000" stroke-width="2.1"/>
<text x="987.05" y="609.10" font-size="13.6" font-weight="bold" textLength="17.74" lengthAdjust="spacingAndGlyphs" xml:space="preserve">15</text>
<line x1="1027.80" y1="587.10" x2="1027.80" y2="593.10" stroke="#000" stroke-width="2.1"/>
<text x="1018.15" y="609.10" font-size="13.6" font-weight="bold" textLength="17.80" lengthAdjust="spacingAndGlyphs" xml:space="preserve">18</text>
<line x1="1058.90" y1="587.10" x2="1058.90" y2="593.10" stroke="#000" stroke-width="2.1"/>
<text x="1049.74" y="609.10" font-size="13.6" font-weight="bold" textLength="17.24" lengthAdjust="spacingAndGlyphs" xml:space="preserve">21</text>
<line x1="1090.00" y1="587.10" x2="1090.00" y2="593.10" stroke="#000" stroke-width="2.1"/>
<text x="1080.85" y="609.10" font-size="13.6" font-weight="bold" textLength="16.89" lengthAdjust="spacingAndGlyphs" xml:space="preserve">24</text>
<text x="948.04" y="629.00" font-size="13.4" font-weight="bold" textLength="92.17" lengthAdjust="spacingAndGlyphs" xml:space="preserve">time [months]</text>
<g transform="rotate(-90 785.00 482.52)"><text x="722.79" y="482.52" font-size="13.4" font-weight="bold" textLength="124.67" lengthAdjust="spacingAndGlyphs" xml:space="preserve">overall survival [%]</text></g>
<polyline points="842.50,390.10 845.50,390.10 845.50,410.60 849.25,410.60 849.25,431.00 856.00,431.00 856.00,451.50 874.75,451.50 874.75,471.90 876.25,471.90 876.25,492.40 878.50,492.40 878.50,512.80 880.00,512.80 880.00,533.30 896.50,533.30 896.50,553.70 929.50,553.70 929.50,574.20" fill="none" stroke="#CC0A64" stroke-width="4.0" stroke-linejoin="round"/>
<polyline points="841.75,390.50 849.25,390.50 849.25,399.50 855.25,399.50 855.25,410.00 857.50,410.00 857.50,420.50 859.75,420.50 859.75,431.00 871.75,431.00 871.75,441.50 879.25,441.50 879.25,452.00 883.00,452.00 883.00,463.25 914.50,463.25 914.50,474.50 922.00,474.50 922.00,485.75 932.50,485.75 932.50,497.00 990.50,497.00 990.50,508.25 995.00,508.25 995.00,518.75 1031.00,518.75 1031.00,532.25 1115.75,532.25" fill="none" stroke="#000" stroke-width="4.0" stroke-linejoin="round"/>
<line x1="848.80" y1="391.50" x2="848.80" y2="384.50" stroke="#000" stroke-width="3.6"/>
<line x1="871.75" y1="432.00" x2="871.75" y2="425.00" stroke="#000" stroke-width="3.6"/>
<line x1="1053.20" y1="533.25" x2="1053.20" y2="526.25" stroke="#000" stroke-width="3.6"/>
<line x1="1065.80" y1="533.25" x2="1065.80" y2="526.25" stroke="#000" stroke-width="3.6"/>
<line x1="1115.75" y1="533.25" x2="1115.75" y2="526.25" stroke="#000" stroke-width="3.6"/>
<line x1="939.00" y1="378.60" x2="960.30" y2="378.60" stroke="#000" stroke-width="4.3"/>
<line x1="949.65" y1="378.60" x2="949.65" y2="372.80" stroke="#000" stroke-width="4.2"/>
<line x1="939.00" y1="397.20" x2="960.30" y2="397.20" stroke="#CC0A64" stroke-width="4.3"/>
<line x1="949.65" y1="397.20" x2="949.65" y2="391.40" stroke="#CC0A64" stroke-width="4.2"/>
<text x="968.49" y="382.80" font-size="12" textLength="72.44" lengthAdjust="spacingAndGlyphs" xml:space="preserve">Ras wild-type</text>
<text x="968.53" y="401.25" font-size="12" textLength="70.30" lengthAdjust="spacingAndGlyphs" xml:space="preserve">Ras activated</text>
<text x="1084.91" y="365.70" font-size="12" font-weight="bold" textLength="61.14" lengthAdjust="spacingAndGlyphs" xml:space="preserve">Median OS</text>
<text x="1078.44" y="382.80" font-size="12" textLength="104.25" lengthAdjust="spacingAndGlyphs" xml:space="preserve">7.8 (95% CI: 3.7-NA)</text>
<text x="1078.58" y="401.25" font-size="12" textLength="104.10" lengthAdjust="spacingAndGlyphs" xml:space="preserve">3.4 (95% CI: 1.5-NA)</text>
<text x="1055.57" y="419.90" font-size="12" textLength="144.04" lengthAdjust="spacingAndGlyphs" xml:space="preserve">HR  3.43 (95% CI: 1.33-8.88)</text>
<text x="1056.16" y="436.10" font-size="12" font-style="italic" textLength="7.68" lengthAdjust="spacingAndGlyphs" xml:space="preserve">P</text><text x="1063.84" y="436.10" font-size="12" textLength="35.52" lengthAdjust="spacingAndGlyphs" xml:space="preserve">=0.007</text>
<text x="753.40" y="648.00" font-size="12" textLength="75.67" lengthAdjust="spacingAndGlyphs" xml:space="preserve">Ras wild-type:</text>
<text x="754.52" y="663.10" font-size="12" textLength="74.55" lengthAdjust="spacingAndGlyphs" xml:space="preserve">Ras activated:</text>
<text x="833.48" y="648.00" font-size="12" xml:space="preserve">20</text>
<text x="836.88" y="663.10" font-size="12" fill="#C41E30" xml:space="preserve">9</text>
<text x="864.45" y="648.00" font-size="12" xml:space="preserve">13</text>
<text x="867.93" y="663.10" font-size="12" fill="#C41E30" xml:space="preserve">6</text>
<text x="895.53" y="648.00" font-size="12" xml:space="preserve">10</text>
<text x="898.90" y="663.10" font-size="12" fill="#C41E30" xml:space="preserve">1</text>
<text x="930.15" y="648.00" font-size="12" xml:space="preserve">7</text>
<text x="930.17" y="663.10" font-size="12" fill="#C41E30" xml:space="preserve">0</text>
<text x="961.25" y="648.00" font-size="12" xml:space="preserve">7</text>
<text x="961.27" y="663.10" font-size="12" fill="#C41E30" xml:space="preserve">0</text>
<text x="992.40" y="648.00" font-size="12" xml:space="preserve">4</text>
<text x="992.38" y="663.10" font-size="12" fill="#C41E30" xml:space="preserve">0</text>
<text x="1023.50" y="648.00" font-size="12" xml:space="preserve">4</text>
<text x="1023.48" y="663.10" font-size="12" fill="#C41E30" xml:space="preserve">0</text>
<text x="1054.55" y="648.00" font-size="12" xml:space="preserve">2</text>
<text x="1054.58" y="663.10" font-size="12" fill="#C41E30" xml:space="preserve">0</text>
<text x="1085.50" y="648.00" font-size="12" xml:space="preserve">1</text>
<text x="1085.67" y="663.10" font-size="12" fill="#C41E30" xml:space="preserve">0</text>
<text x="735.93" y="717.75" font-size="33.5" font-weight="bold" textLength="15.38" lengthAdjust="spacingAndGlyphs" xml:space="preserve">c</text>
<line x1="830.60" y1="736.40" x2="830.60" y2="952.95" stroke="#000" stroke-width="2.3"/>
<line x1="829.45" y1="951.80" x2="1154.20" y2="951.80" stroke="#000" stroke-width="2.3"/>
<line x1="824.60" y1="939.20" x2="830.60" y2="939.20" stroke="#000" stroke-width="2.1"/>
<text x="810.33" y="943.70" font-size="13.6" font-weight="bold" textLength="9.26" lengthAdjust="spacingAndGlyphs" xml:space="preserve">0</text>
<line x1="824.60" y1="902.41" x2="830.60" y2="902.41" stroke="#000" stroke-width="2.1"/>
<text x="802.08" y="906.91" font-size="13.6" font-weight="bold" textLength="17.49" lengthAdjust="spacingAndGlyphs" xml:space="preserve">20</text>
<line x1="824.60" y1="865.62" x2="830.60" y2="865.62" stroke="#000" stroke-width="2.1"/>
<text x="802.37" y="870.12" font-size="13.6" font-weight="bold" textLength="17.18" lengthAdjust="spacingAndGlyphs" xml:space="preserve">40</text>
<line x1="824.60" y1="828.83" x2="830.60" y2="828.83" stroke="#000" stroke-width="2.1"/>
<text x="802.02" y="833.33" font-size="13.6" font-weight="bold" textLength="17.55" lengthAdjust="spacingAndGlyphs" xml:space="preserve">60</text>
<line x1="824.60" y1="792.04" x2="830.60" y2="792.04" stroke="#000" stroke-width="2.1"/>
<text x="802.08" y="796.54" font-size="13.6" font-weight="bold" textLength="17.49" lengthAdjust="spacingAndGlyphs" xml:space="preserve">80</text>
<line x1="824.60" y1="755.25" x2="830.60" y2="755.25" stroke="#000" stroke-width="2.1"/>
<text x="795.40" y="759.75" font-size="13.6" font-weight="bold" textLength="24.08" lengthAdjust="spacingAndGlyphs" xml:space="preserve">100</text>
<line x1="841.20" y1="951.80" x2="841.20" y2="957.80" stroke="#000" stroke-width="2.1"/>
<text x="836.08" y="973.80" font-size="13.6" font-weight="bold" textLength="9.26" lengthAdjust="spacingAndGlyphs" xml:space="preserve">0</text>
<line x1="872.30" y1="951.80" x2="872.30" y2="957.80" stroke="#000" stroke-width="2.1"/>
<text x="867.50" y="973.80" font-size="13.6" font-weight="bold" textLength="8.79" lengthAdjust="spacingAndGlyphs" xml:space="preserve">3</text>
<line x1="903.40" y1="951.80" x2="903.40" y2="957.80" stroke="#000" stroke-width="2.1"/>
<text x="898.35" y="973.80" font-size="13.6" font-weight="bold" textLength="9.05" lengthAdjust="spacingAndGlyphs" xml:space="preserve">6</text>
<line x1="934.50" y1="951.80" x2="934.50" y2="957.80" stroke="#000" stroke-width="2.1"/>
<text x="929.51" y="973.80" font-size="13.6" font-weight="bold" textLength="9.05" lengthAdjust="spacingAndGlyphs" xml:space="preserve">9</text>
<line x1="965.60" y1="951.80" x2="965.60" y2="957.80" stroke="#000" stroke-width="2.1"/>
<text x="955.94" y="973.80" font-size="13.6" font-weight="bold" textLength="18.00" lengthAdjust="spacingAndGlyphs" xml:space="preserve">12</text>
<line x1="996.70" y1="951.80" x2="996.70" y2="957.80" stroke="#000" stroke-width="2.1"/>
<text x="987.05" y="973.80" font-size="13.6" font-weight="bold" textLength="17.74" lengthAdjust="spacingAndGlyphs" xml:space="preserve">15</text>
<line x1="1027.80" y1="951.80" x2="1027.80" y2="957.80" stroke="#000" stroke-width="2.1"/>
<text x="1018.15" y="973.80" font-size="13.6" font-weight="bold" textLength="17.80" lengthAdjust="spacingAndGlyphs" xml:space="preserve">18</text>
<line x1="1058.90" y1="951.80" x2="1058.90" y2="957.80" stroke="#000" stroke-width="2.1"/>
<text x="1049.74" y="973.80" font-size="13.6" font-weight="bold" textLength="17.24" lengthAdjust="spacingAndGlyphs" xml:space="preserve">21</text>
<line x1="1090.00" y1="951.80" x2="1090.00" y2="957.80" stroke="#000" stroke-width="2.1"/>
<text x="1080.85" y="973.80" font-size="13.6" font-weight="bold" textLength="16.89" lengthAdjust="spacingAndGlyphs" xml:space="preserve">24</text>
<text x="948.04" y="993.70" font-size="13.4" font-weight="bold" textLength="92.17" lengthAdjust="spacingAndGlyphs" xml:space="preserve">time [months]</text>
<g transform="rotate(-90 785.00 847.23)"><text x="690.43" y="847.23" font-size="13.4" font-weight="bold" textLength="189.00" lengthAdjust="spacingAndGlyphs" xml:space="preserve">progression-free survival [%]</text></g>
<polyline points="842.50,754.90 845.60,754.90 845.60,771.65 849.80,771.65 849.80,788.40 853.40,788.40 853.40,805.15 854.40,805.15 854.40,821.90 855.40,821.90 855.40,838.65 856.20,838.65 856.20,855.40 859.00,855.40 859.00,872.15 866.10,872.15 866.10,888.90 869.70,888.90 869.70,905.65 880.30,905.65 880.30,922.40 1031.00,922.40 1031.00,939.15" fill="none" stroke="#CC0A64" stroke-width="4.0" stroke-linejoin="round"/>
<polyline points="841.20,754.90 849.80,754.90 849.80,765.60 857.00,765.60 857.00,779.00 864.70,779.00 864.70,789.70 865.20,789.70 865.20,800.40 865.70,800.40 865.70,811.10 866.20,811.10 866.20,821.80 866.70,821.80 866.70,832.50 867.30,832.50 867.30,843.20 867.90,843.20 867.90,853.90 868.60,853.90 868.60,864.60 875.30,864.60 875.30,876.70 886.00,876.70 886.00,888.90 1041.50,888.90 1041.50,914.25 1109.00,914.25" fill="none" stroke="#000" stroke-width="4.0" stroke-linejoin="round"/>
<line x1="841.30" y1="754.60" x2="841.30" y2="747.60" stroke="#000" stroke-width="3.6"/>
<line x1="988.70" y1="889.90" x2="988.70" y2="882.90" stroke="#000" stroke-width="3.6"/>
<line x1="1040.00" y1="889.90" x2="1040.00" y2="882.90" stroke="#000" stroke-width="3.6"/>
<line x1="1109.00" y1="915.25" x2="1109.00" y2="908.25" stroke="#000" stroke-width="3.6"/>
<line x1="939.00" y1="739.20" x2="960.30" y2="739.20" stroke="#000" stroke-width="4.3"/>
<line x1="949.65" y1="739.20" x2="949.65" y2="733.40" stroke="#000" stroke-width="4.2"/>
<line x1="939.00" y1="758.30" x2="960.30" y2="758.30" stroke="#CC0A64" stroke-width="4.3"/>
<line x1="949.65" y1="758.30" x2="949.65" y2="752.50" stroke="#CC0A64" stroke-width="4.2"/>
<text x="968.40" y="743.70" font-size="12" font-style="italic" xml:space="preserve">TP53</text><text x="997.04" y="743.70" font-size="12" xml:space="preserve"> wild-type</text>
<text x="968.43" y="761.70" font-size="12" font-style="italic" textLength="28.01" lengthAdjust="spacingAndGlyphs" xml:space="preserve">TP53</text><text x="996.44" y="761.70" font-size="12" textLength="60.59" lengthAdjust="spacingAndGlyphs" xml:space="preserve"> deleterious</text>
<text x="1084.92" y="726.40" font-size="12" font-weight="bold" textLength="66.03" lengthAdjust="spacingAndGlyphs" xml:space="preserve">Median PFS</text>
<text x="1078.44" y="743.70" font-size="12" textLength="104.25" lengthAdjust="spacingAndGlyphs" xml:space="preserve">2.6 (95% CI: 2.4-NA)</text>
<text x="1078.86" y="761.70" font-size="12" textLength="104.53" lengthAdjust="spacingAndGlyphs" xml:space="preserve">1.5 (95% CI: 1.4-NA)</text>
<text x="1055.57" y="779.90" font-size="12" textLength="144.04" lengthAdjust="spacingAndGlyphs" xml:space="preserve">HR  2.39 (95% CI: 1.03-5.55)</text>
<text x="1056.16" y="796.10" font-size="12" font-style="italic" textLength="7.67" lengthAdjust="spacingAndGlyphs" xml:space="preserve">P</text><text x="1063.83" y="796.10" font-size="12" textLength="35.48" lengthAdjust="spacingAndGlyphs" xml:space="preserve">=0.036</text>
<text x="744.64" y="1012.50" font-size="12" font-style="italic" textLength="28.85" lengthAdjust="spacingAndGlyphs" xml:space="preserve">TP53</text><text x="773.49" y="1012.50" font-size="12" textLength="54.33" lengthAdjust="spacingAndGlyphs" xml:space="preserve"> wild-type:</text>
<text x="735.67" y="1027.60" font-size="12" font-style="italic" textLength="28.10" lengthAdjust="spacingAndGlyphs" xml:space="preserve">TP53</text><text x="763.77" y="1027.60" font-size="12" textLength="64.04" lengthAdjust="spacingAndGlyphs" xml:space="preserve"> deleterious:</text>
<text x="833.35" y="1012.50" font-size="12" xml:space="preserve">18</text>
<text x="833.80" y="1027.60" font-size="12" fill="#C41E30" xml:space="preserve">11</text>
<text x="867.93" y="1012.50" font-size="12" xml:space="preserve">6</text>
<text x="867.95" y="1027.60" font-size="12" fill="#C41E30" xml:space="preserve">2</text>
<text x="899.10" y="1012.50" font-size="12" xml:space="preserve">4</text>
<text x="898.90" y="1027.60" font-size="12" fill="#C41E30" xml:space="preserve">1</text>
<text x="930.20" y="1012.50" font-size="12" xml:space="preserve">4</text>
<text x="930.00" y="1027.60" font-size="12" fill="#C41E30" xml:space="preserve">1</text>
<text x="961.30" y="1012.50" font-size="12" xml:space="preserve">4</text>
<text x="961.10" y="1027.60" font-size="12" fill="#C41E30" xml:space="preserve">1</text>
<text x="992.40" y="1012.50" font-size="12" xml:space="preserve">3</text>
<text x="992.20" y="1027.60" font-size="12" fill="#C41E30" xml:space="preserve">1</text>
<text x="1023.50" y="1012.50" font-size="12" xml:space="preserve">3</text>
<text x="1023.48" y="1027.60" font-size="12" fill="#C41E30" xml:space="preserve">0</text>
<text x="1054.40" y="1012.50" font-size="12" xml:space="preserve">1</text>
<text x="1054.58" y="1027.60" font-size="12" fill="#C41E30" xml:space="preserve">0</text>
<text x="1085.50" y="1012.50" font-size="12" xml:space="preserve">1</text>
<text x="1085.67" y="1027.60" font-size="12" fill="#C41E30" xml:space="preserve">0</text>
<line x1="830.60" y1="1084.80" x2="830.60" y2="1301.65" stroke="#000" stroke-width="2.3"/>
<line x1="829.45" y1="1300.50" x2="1154.20" y2="1300.50" stroke="#000" stroke-width="2.3"/>
<line x1="824.60" y1="1288.50" x2="830.60" y2="1288.50" stroke="#000" stroke-width="2.1"/>
<text x="810.33" y="1293.00" font-size="13.6" font-weight="bold" textLength="9.26" lengthAdjust="spacingAndGlyphs" xml:space="preserve">0</text>
<line x1="824.60" y1="1251.64" x2="830.60" y2="1251.64" stroke="#000" stroke-width="2.1"/>
<text x="802.08" y="1256.14" font-size="13.6" font-weight="bold" textLength="17.49" lengthAdjust="spacingAndGlyphs" xml:space="preserve">20</text>
<line x1="824.60" y1="1214.78" x2="830.60" y2="1214.78" stroke="#000" stroke-width="2.1"/>
<text x="802.37" y="1219.28" font-size="13.6" font-weight="bold" textLength="17.18" lengthAdjust="spacingAndGlyphs" xml:space="preserve">40</text>
<line x1="824.60" y1="1177.92" x2="830.60" y2="1177.92" stroke="#000" stroke-width="2.1"/>
<text x="802.02" y="1182.42" font-size="13.6" font-weight="bold" textLength="17.55" lengthAdjust="spacingAndGlyphs" xml:space="preserve">60</text>
<line x1="824.60" y1="1141.06" x2="830.60" y2="1141.06" stroke="#000" stroke-width="2.1"/>
<text x="802.08" y="1145.56" font-size="13.6" font-weight="bold" textLength="17.49" lengthAdjust="spacingAndGlyphs" xml:space="preserve">80</text>
<line x1="824.60" y1="1104.20" x2="830.60" y2="1104.20" stroke="#000" stroke-width="2.1"/>
<text x="795.40" y="1108.70" font-size="13.6" font-weight="bold" textLength="24.08" lengthAdjust="spacingAndGlyphs" xml:space="preserve">100</text>
<line x1="841.20" y1="1300.50" x2="841.20" y2="1306.50" stroke="#000" stroke-width="2.1"/>
<text x="836.08" y="1322.50" font-size="13.6" font-weight="bold" textLength="9.26" lengthAdjust="spacingAndGlyphs" xml:space="preserve">0</text>
<line x1="872.30" y1="1300.50" x2="872.30" y2="1306.50" stroke="#000" stroke-width="2.1"/>
<text x="867.50" y="1322.50" font-size="13.6" font-weight="bold" textLength="8.79" lengthAdjust="spacingAndGlyphs" xml:space="preserve">3</text>
<line x1="903.40" y1="1300.50" x2="903.40" y2="1306.50" stroke="#000" stroke-width="2.1"/>
<text x="898.35" y="1322.50" font-size="13.6" font-weight="bold" textLength="9.05" lengthAdjust="spacingAndGlyphs" xml:space="preserve">6</text>
<line x1="934.50" y1="1300.50" x2="934.50" y2="1306.50" stroke="#000" stroke-width="2.1"/>
<text x="929.51" y="1322.50" font-size="13.6" font-weight="bold" textLength="9.05" lengthAdjust="spacingAndGlyphs" xml:space="preserve">9</text>
<line x1="965.60" y1="1300.50" x2="965.60" y2="1306.50" stroke="#000" stroke-width="2.1"/>
<text x="955.94" y="1322.50" font-size="13.6" font-weight="bold" textLength="18.00" lengthAdjust="spacingAndGlyphs" xml:space="preserve">12</text>
<line x1="996.70" y1="1300.50" x2="996.70" y2="1306.50" stroke="#000" stroke-width="2.1"/>
<text x="987.05" y="1322.50" font-size="13.6" font-weight="bold" textLength="17.74" lengthAdjust="spacingAndGlyphs" xml:space="preserve">15</text>
<line x1="1027.80" y1="1300.50" x2="1027.80" y2="1306.50" stroke="#000" stroke-width="2.1"/>
<text x="1018.15" y="1322.50" font-size="13.6" font-weight="bold" textLength="17.80" lengthAdjust="spacingAndGlyphs" xml:space="preserve">18</text>
<line x1="1058.90" y1="1300.50" x2="1058.90" y2="1306.50" stroke="#000" stroke-width="2.1"/>
<text x="1049.74" y="1322.50" font-size="13.6" font-weight="bold" textLength="17.24" lengthAdjust="spacingAndGlyphs" xml:space="preserve">21</text>
<line x1="1090.00" y1="1300.50" x2="1090.00" y2="1306.50" stroke="#000" stroke-width="2.1"/>
<text x="1080.85" y="1322.50" font-size="13.6" font-weight="bold" textLength="16.89" lengthAdjust="spacingAndGlyphs" xml:space="preserve">24</text>
<text x="948.04" y="1342.40" font-size="13.4" font-weight="bold" textLength="92.17" lengthAdjust="spacingAndGlyphs" xml:space="preserve">time [months]</text>
<g transform="rotate(-90 785.00 1196.35)"><text x="722.79" y="1196.35" font-size="13.4" font-weight="bold" textLength="124.67" lengthAdjust="spacingAndGlyphs" xml:space="preserve">overall survival [%]</text></g>
<polyline points="842.50,1104.25 845.50,1104.25 845.50,1121.00 849.25,1121.00 849.25,1138.00 855.25,1138.00 855.25,1154.50 856.75,1154.50 856.75,1171.00 859.00,1171.00 859.00,1187.50 872.50,1187.50 872.50,1204.75 880.00,1204.75 880.00,1221.00 882.25,1221.00 882.25,1237.75 896.50,1237.75 896.50,1254.75 995.00,1254.75 995.00,1271.25 1031.00,1271.25 1031.00,1288.50" fill="none" stroke="#CC0A64" stroke-width="4.0" stroke-linejoin="round"/>
<polyline points="841.75,1104.25 849.25,1104.25 849.25,1115.50 856.75,1115.50 856.75,1126.00 874.00,1126.00 874.00,1137.00 875.50,1137.00 875.50,1147.50 877.00,1147.50 877.00,1158.00 878.80,1158.00 878.80,1167.00 880.00,1167.00 880.00,1176.25 914.50,1176.25 914.50,1188.25 922.00,1188.25 922.00,1201.00 929.50,1201.00 929.50,1213.50 932.50,1213.50 932.50,1225.75 990.50,1225.75 990.50,1238.25 1115.75,1238.25" fill="none" stroke="#000" stroke-width="4.0" stroke-linejoin="round"/>
<line x1="848.80" y1="1105.25" x2="848.80" y2="1098.25" stroke="#000" stroke-width="3.6"/>
<line x1="855.50" y1="1116.50" x2="855.50" y2="1109.50" stroke="#000" stroke-width="3.6"/>
<line x1="871.75" y1="1127.00" x2="871.75" y2="1120.00" stroke="#000" stroke-width="3.6"/>
<line x1="995.00" y1="1239.25" x2="995.00" y2="1232.25" stroke="#000" stroke-width="3.6"/>
<line x1="1053.20" y1="1239.25" x2="1053.20" y2="1232.25" stroke="#000" stroke-width="3.6"/>
<line x1="1065.80" y1="1239.25" x2="1065.80" y2="1232.25" stroke="#000" stroke-width="3.6"/>
<line x1="1115.75" y1="1239.25" x2="1115.75" y2="1232.25" stroke="#000" stroke-width="3.6"/>
<line x1="939.00" y1="1088.10" x2="960.30" y2="1088.10" stroke="#000" stroke-width="4.3"/>
<line x1="949.65" y1="1088.10" x2="949.65" y2="1082.30" stroke="#000" stroke-width="4.2"/>
<line x1="939.00" y1="1107.25" x2="960.30" y2="1107.25" stroke="#CC0A64" stroke-width="4.3"/>
<line x1="949.65" y1="1107.25" x2="949.65" y2="1101.45" stroke="#CC0A64" stroke-width="4.2"/>
<text x="968.40" y="1092.60" font-size="12" font-style="italic" xml:space="preserve">TP53</text><text x="997.04" y="1092.60" font-size="12" xml:space="preserve"> wild-type</text>
<text x="968.43" y="1111.30" font-size="12" font-style="italic" textLength="28.01" lengthAdjust="spacingAndGlyphs" xml:space="preserve">TP53</text><text x="996.44" y="1111.30" font-size="12" textLength="60.59" lengthAdjust="spacingAndGlyphs" xml:space="preserve"> deleterious</text>
<text x="1084.91" y="1075.75" font-size="12" font-weight="bold" textLength="61.14" lengthAdjust="spacingAndGlyphs" xml:space="preserve">Median OS</text>
<text x="1078.44" y="1092.60" font-size="12" textLength="104.25" lengthAdjust="spacingAndGlyphs" xml:space="preserve">7.8 (95% CI: 3.6-NA)</text>
<text x="1078.58" y="1111.30" font-size="12" textLength="104.10" lengthAdjust="spacingAndGlyphs" xml:space="preserve">3.1 (95% CI: 1.5-NA)</text>
<text x="1055.57" y="1131.60" font-size="12" textLength="144.04" lengthAdjust="spacingAndGlyphs" xml:space="preserve">HR  2.34 (95% CI: 1.00-5.43)</text>
<text x="1056.16" y="1147.75" font-size="12" font-style="italic" textLength="7.67" lengthAdjust="spacingAndGlyphs" xml:space="preserve">P</text><text x="1063.83" y="1147.75" font-size="12" textLength="35.48" lengthAdjust="spacingAndGlyphs" xml:space="preserve">=0.043</text>
<text x="744.64" y="1361.50" font-size="12" font-style="italic" textLength="28.85" lengthAdjust="spacingAndGlyphs" xml:space="preserve">TP53</text><text x="773.49" y="1361.50" font-size="12" textLength="54.33" lengthAdjust="spacingAndGlyphs" xml:space="preserve"> wild-type:</text>
<text x="735.67" y="1376.80" font-size="12" font-style="italic" textLength="28.10" lengthAdjust="spacingAndGlyphs" xml:space="preserve">TP53</text><text x="763.77" y="1376.80" font-size="12" textLength="64.04" lengthAdjust="spacingAndGlyphs" xml:space="preserve"> deleterious:</text>
<text x="833.35" y="1361.50" font-size="12" xml:space="preserve">18</text>
<text x="833.80" y="1376.80" font-size="12" fill="#C41E30" xml:space="preserve">11</text>
<text x="864.45" y="1361.50" font-size="12" xml:space="preserve">13</text>
<text x="867.93" y="1376.80" font-size="12" fill="#C41E30" xml:space="preserve">6</text>
<text x="899.08" y="1361.50" font-size="12" xml:space="preserve">9</text>
<text x="899.05" y="1376.80" font-size="12" fill="#C41E30" xml:space="preserve">2</text>
<text x="930.17" y="1361.50" font-size="12" xml:space="preserve">5</text>
<text x="930.15" y="1376.80" font-size="12" fill="#C41E30" xml:space="preserve">2</text>
<text x="961.27" y="1361.50" font-size="12" xml:space="preserve">5</text>
<text x="961.25" y="1376.80" font-size="12" fill="#C41E30" xml:space="preserve">2</text>
<text x="992.40" y="1361.50" font-size="12" xml:space="preserve">3</text>
<text x="992.20" y="1376.80" font-size="12" fill="#C41E30" xml:space="preserve">1</text>
<text x="1023.50" y="1361.50" font-size="12" xml:space="preserve">3</text>
<text x="1023.48" y="1376.80" font-size="12" fill="#C41E30" xml:space="preserve">0</text>
<text x="1054.55" y="1361.50" font-size="12" xml:space="preserve">2</text>
<text x="1054.58" y="1376.80" font-size="12" fill="#C41E30" xml:space="preserve">0</text>
<text x="1085.50" y="1361.50" font-size="12" xml:space="preserve">1</text>
<text x="1085.67" y="1376.80" font-size="12" fill="#C41E30" xml:space="preserve">0</text>
<text x="99.87" y="1475.30" font-size="33.5" font-weight="bold" textLength="20.89" lengthAdjust="spacingAndGlyphs" xml:space="preserve">d</text>
<line x1="210.10" y1="1480.30" x2="210.10" y2="1695.55" stroke="#000" stroke-width="2.3"/>
<line x1="208.95" y1="1694.40" x2="533.20" y2="1694.40" stroke="#000" stroke-width="2.3"/>
<line x1="204.10" y1="1682.00" x2="210.10" y2="1682.00" stroke="#000" stroke-width="2.1"/>
<text x="189.83" y="1686.50" font-size="13.6" font-weight="bold" textLength="9.26" lengthAdjust="spacingAndGlyphs" xml:space="preserve">0</text>
<line x1="204.10" y1="1645.20" x2="210.10" y2="1645.20" stroke="#000" stroke-width="2.1"/>
<text x="181.58" y="1649.70" font-size="13.6" font-weight="bold" textLength="17.49" lengthAdjust="spacingAndGlyphs" xml:space="preserve">20</text>
<line x1="204.10" y1="1608.40" x2="210.10" y2="1608.40" stroke="#000" stroke-width="2.1"/>
<text x="181.87" y="1612.90" font-size="13.6" font-weight="bold" textLength="17.18" lengthAdjust="spacingAndGlyphs" xml:space="preserve">40</text>
<line x1="204.10" y1="1571.60" x2="210.10" y2="1571.60" stroke="#000" stroke-width="2.1"/>
<text x="181.52" y="1576.10" font-size="13.6" font-weight="bold" textLength="17.55" lengthAdjust="spacingAndGlyphs" xml:space="preserve">60</text>
<line x1="204.10" y1="1534.80" x2="210.10" y2="1534.80" stroke="#000" stroke-width="2.1"/>
<text x="181.58" y="1539.30" font-size="13.6" font-weight="bold" textLength="17.49" lengthAdjust="spacingAndGlyphs" xml:space="preserve">80</text>
<line x1="204.10" y1="1498.00" x2="210.10" y2="1498.00" stroke="#000" stroke-width="2.1"/>
<text x="174.90" y="1502.50" font-size="13.6" font-weight="bold" textLength="24.08" lengthAdjust="spacingAndGlyphs" xml:space="preserve">100</text>
<line x1="220.60" y1="1694.40" x2="220.60" y2="1700.40" stroke="#000" stroke-width="2.1"/>
<text x="215.48" y="1716.90" font-size="13.6" font-weight="bold" textLength="9.26" lengthAdjust="spacingAndGlyphs" xml:space="preserve">0</text>
<line x1="251.70" y1="1694.40" x2="251.70" y2="1700.40" stroke="#000" stroke-width="2.1"/>
<text x="246.90" y="1716.90" font-size="13.6" font-weight="bold" textLength="8.79" lengthAdjust="spacingAndGlyphs" xml:space="preserve">3</text>
<line x1="282.80" y1="1694.40" x2="282.80" y2="1700.40" stroke="#000" stroke-width="2.1"/>
<text x="277.75" y="1716.90" font-size="13.6" font-weight="bold" textLength="9.05" lengthAdjust="spacingAndGlyphs" xml:space="preserve">6</text>
<line x1="313.90" y1="1694.40" x2="313.90" y2="1700.40" stroke="#000" stroke-width="2.1"/>
<text x="308.91" y="1716.90" font-size="13.6" font-weight="bold" textLength="9.05" lengthAdjust="spacingAndGlyphs" xml:space="preserve">9</text>
<line x1="345.00" y1="1694.40" x2="345.00" y2="1700.40" stroke="#000" stroke-width="2.1"/>
<text x="335.34" y="1716.90" font-size="13.6" font-weight="bold" textLength="18.00" lengthAdjust="spacingAndGlyphs" xml:space="preserve">12</text>
<line x1="376.10" y1="1694.40" x2="376.10" y2="1700.40" stroke="#000" stroke-width="2.1"/>
<text x="366.45" y="1716.90" font-size="13.6" font-weight="bold" textLength="17.74" lengthAdjust="spacingAndGlyphs" xml:space="preserve">15</text>
<line x1="407.20" y1="1694.40" x2="407.20" y2="1700.40" stroke="#000" stroke-width="2.1"/>
<text x="397.55" y="1716.90" font-size="13.6" font-weight="bold" textLength="17.80" lengthAdjust="spacingAndGlyphs" xml:space="preserve">18</text>
<line x1="438.30" y1="1694.40" x2="438.30" y2="1700.40" stroke="#000" stroke-width="2.1"/>
<text x="429.14" y="1716.90" font-size="13.6" font-weight="bold" textLength="17.24" lengthAdjust="spacingAndGlyphs" xml:space="preserve">21</text>
<line x1="469.40" y1="1694.40" x2="469.40" y2="1700.40" stroke="#000" stroke-width="2.1"/>
<text x="460.25" y="1716.90" font-size="13.6" font-weight="bold" textLength="16.89" lengthAdjust="spacingAndGlyphs" xml:space="preserve">24</text>
<text x="327.44" y="1736.75" font-size="13.4" font-weight="bold" textLength="92.17" lengthAdjust="spacingAndGlyphs" xml:space="preserve">time [months]</text>
<g transform="rotate(-90 164.50 1590.00)"><text x="69.93" y="1590.00" font-size="13.4" font-weight="bold" textLength="189.00" lengthAdjust="spacingAndGlyphs" xml:space="preserve">progression-free survival [%]</text></g>
<polyline points="220.10,1497.80 228.30,1497.80 228.30,1529.00 233.80,1529.00 233.80,1559.25 235.70,1559.25 235.70,1590.40 236.60,1590.40 236.60,1620.70 246.70,1620.70 246.70,1651.80 247.20,1651.80 247.20,1682.00" fill="none" stroke="#CC0A64" stroke-width="4.0" stroke-linejoin="round"/>
<line x1="220.10" y1="1497.00" x2="220.10" y2="1490.00" stroke="#CC0A64" stroke-width="3.6"/>
<polyline points="221.00,1497.80 225.60,1497.80 225.60,1514.30 228.30,1514.30 228.30,1530.80 244.80,1530.80 244.80,1550.10 246.70,1550.10 246.70,1570.25 248.50,1570.25 248.50,1588.60 254.90,1588.60 254.90,1606.90 409.80,1606.90 409.80,1631.70 419.90,1631.70 419.90,1682.00" fill="none" stroke="#000" stroke-width="4.0" stroke-linejoin="round"/>
<line x1="221.00" y1="1498.80" x2="221.00" y2="1491.80" stroke="#000" stroke-width="3.6"/>
<line x1="367.70" y1="1607.90" x2="367.70" y2="1600.90" stroke="#000" stroke-width="3.6"/>
<line x1="419.90" y1="1632.70" x2="419.90" y2="1625.70" stroke="#000" stroke-width="3.6"/>
<text x="351.65" y="1474.10" font-size="12" textLength="94.57" lengthAdjust="spacingAndGlyphs" xml:space="preserve">Aneuploidy Score</text>
<text x="363.13" y="1488.75" font-size="12" textLength="73.68" lengthAdjust="spacingAndGlyphs" xml:space="preserve">of FFPE tissue</text>
<text x="464.13" y="1488.75" font-size="12" font-weight="bold" textLength="65.82" lengthAdjust="spacingAndGlyphs" xml:space="preserve">Median PFS</text>
<line x1="357.80" y1="1504.50" x2="378.60" y2="1504.50" stroke="#000" stroke-width="4.3"/>
<line x1="368.20" y1="1504.50" x2="368.20" y2="1498.70" stroke="#000" stroke-width="4.2"/>
<line x1="357.80" y1="1523.40" x2="378.60" y2="1523.40" stroke="#CC0A64" stroke-width="4.3"/>
<line x1="368.20" y1="1523.40" x2="368.20" y2="1517.60" stroke="#CC0A64" stroke-width="4.2"/>
<text x="383.85" y="1509.50" font-size="12" textLength="15.14" lengthAdjust="spacingAndGlyphs" xml:space="preserve">AS</text><text x="398.99" y="1505.30" font-size="7.4" textLength="10.50" lengthAdjust="spacingAndGlyphs" xml:space="preserve">low</text><text x="409.50" y="1509.50" font-size="12" textLength="26.81" lengthAdjust="spacingAndGlyphs" xml:space="preserve"> (&lt; 9)</text>
<text x="383.85" y="1527.00" font-size="12" textLength="15.32" lengthAdjust="spacingAndGlyphs" xml:space="preserve">AS</text><text x="399.17" y="1522.80" font-size="7.4" textLength="13.39" lengthAdjust="spacingAndGlyphs" xml:space="preserve">high</text><text x="412.57" y="1527.00" font-size="12" textLength="26.72" lengthAdjust="spacingAndGlyphs" xml:space="preserve"> (≥ 9)</text>
<text x="457.68" y="1509.50" font-size="12" textLength="104.61" lengthAdjust="spacingAndGlyphs" xml:space="preserve">3.3 (95% CI: 2.4-NA)</text>
<text x="457.96" y="1527.00" font-size="12" textLength="104.33" lengthAdjust="spacingAndGlyphs" xml:space="preserve">1.5 (95% CI: 1.4-NA)</text>
<text x="434.67" y="1547.25" font-size="12" textLength="151.33" lengthAdjust="spacingAndGlyphs" xml:space="preserve">HR  4.65 (95% CI: 1.23-17.59)</text>
<text x="435.27" y="1564.10" font-size="12" font-style="italic" textLength="7.63" lengthAdjust="spacingAndGlyphs" xml:space="preserve">P</text><text x="442.90" y="1564.10" font-size="12" textLength="35.32" lengthAdjust="spacingAndGlyphs" xml:space="preserve">=0.016</text>
<text x="179.26" y="1759.40" font-size="12" textLength="14.20" lengthAdjust="spacingAndGlyphs" xml:space="preserve">AS</text><text x="193.46" y="1755.20" font-size="7.4" textLength="9.85" lengthAdjust="spacingAndGlyphs" xml:space="preserve">low</text><text x="203.30" y="1759.40" font-size="12" textLength="2.96" lengthAdjust="spacingAndGlyphs" xml:space="preserve">:</text>
<text x="175.55" y="1777.30" font-size="12" textLength="14.77" lengthAdjust="spacingAndGlyphs" xml:space="preserve">AS</text><text x="190.32" y="1773.10" font-size="7.4" textLength="12.91" lengthAdjust="spacingAndGlyphs" xml:space="preserve">high</text><text x="203.22" y="1777.30" font-size="12" textLength="3.08" lengthAdjust="spacingAndGlyphs" xml:space="preserve">:</text>
<text x="213.20" y="1759.40" font-size="12" xml:space="preserve">11</text>
<text x="216.28" y="1777.30" font-size="12" fill="#C41E30" xml:space="preserve">8</text>
<text x="247.38" y="1759.40" font-size="12" xml:space="preserve">5</text>
<text x="247.38" y="1777.30" font-size="12" fill="#C41E30" xml:space="preserve">0</text>
<text x="278.48" y="1759.40" font-size="12" xml:space="preserve">5</text>
<text x="278.48" y="1777.30" font-size="12" fill="#C41E30" xml:space="preserve">0</text>
<text x="309.57" y="1759.40" font-size="12" xml:space="preserve">5</text>
<text x="309.57" y="1777.30" font-size="12" fill="#C41E30" xml:space="preserve">0</text>
<text x="340.68" y="1759.40" font-size="12" xml:space="preserve">5</text>
<text x="340.68" y="1777.30" font-size="12" fill="#C41E30" xml:space="preserve">0</text>
<text x="371.80" y="1759.40" font-size="12" xml:space="preserve">4</text>
<text x="371.78" y="1777.30" font-size="12" fill="#C41E30" xml:space="preserve">0</text>
<text x="402.90" y="1759.40" font-size="12" xml:space="preserve">4</text>
<text x="402.88" y="1777.30" font-size="12" fill="#C41E30" xml:space="preserve">0</text>
<text x="433.98" y="1759.40" font-size="12" xml:space="preserve">0</text>
<text x="433.98" y="1777.30" font-size="12" fill="#C41E30" xml:space="preserve">0</text>
<text x="465.07" y="1759.40" font-size="12" xml:space="preserve">0</text>
<text x="465.07" y="1777.30" font-size="12" fill="#C41E30" xml:space="preserve">0</text>
<line x1="730.25" y1="1480.30" x2="730.25" y2="1695.55" stroke="#000" stroke-width="2.3"/>
<line x1="729.10" y1="1694.40" x2="1053.35" y2="1694.40" stroke="#000" stroke-width="2.3"/>
<line x1="724.25" y1="1682.00" x2="730.25" y2="1682.00" stroke="#000" stroke-width="2.1"/>
<text x="709.98" y="1686.50" font-size="13.6" font-weight="bold" textLength="9.26" lengthAdjust="spacingAndGlyphs" xml:space="preserve">0</text>
<line x1="724.25" y1="1645.20" x2="730.25" y2="1645.20" stroke="#000" stroke-width="2.1"/>
<text x="701.73" y="1649.70" font-size="13.6" font-weight="bold" textLength="17.49" lengthAdjust="spacingAndGlyphs" xml:space="preserve">20</text>
<line x1="724.25" y1="1608.40" x2="730.25" y2="1608.40" stroke="#000" stroke-width="2.1"/>
<text x="702.02" y="1612.90" font-size="13.6" font-weight="bold" textLength="17.18" lengthAdjust="spacingAndGlyphs" xml:space="preserve">40</text>
<line x1="724.25" y1="1571.60" x2="730.25" y2="1571.60" stroke="#000" stroke-width="2.1"/>
<text x="701.67" y="1576.10" font-size="13.6" font-weight="bold" textLength="17.55" lengthAdjust="spacingAndGlyphs" xml:space="preserve">60</text>
<line x1="724.25" y1="1534.80" x2="730.25" y2="1534.80" stroke="#000" stroke-width="2.1"/>
<text x="701.73" y="1539.30" font-size="13.6" font-weight="bold" textLength="17.49" lengthAdjust="spacingAndGlyphs" xml:space="preserve">80</text>
<line x1="724.25" y1="1498.00" x2="730.25" y2="1498.00" stroke="#000" stroke-width="2.1"/>
<text x="695.05" y="1502.50" font-size="13.6" font-weight="bold" textLength="24.08" lengthAdjust="spacingAndGlyphs" xml:space="preserve">100</text>
<line x1="740.75" y1="1694.40" x2="740.75" y2="1700.40" stroke="#000" stroke-width="2.1"/>
<text x="735.63" y="1716.90" font-size="13.6" font-weight="bold" textLength="9.26" lengthAdjust="spacingAndGlyphs" xml:space="preserve">0</text>
<line x1="771.85" y1="1694.40" x2="771.85" y2="1700.40" stroke="#000" stroke-width="2.1"/>
<text x="767.05" y="1716.90" font-size="13.6" font-weight="bold" textLength="8.79" lengthAdjust="spacingAndGlyphs" xml:space="preserve">3</text>
<line x1="802.95" y1="1694.40" x2="802.95" y2="1700.40" stroke="#000" stroke-width="2.1"/>
<text x="797.90" y="1716.90" font-size="13.6" font-weight="bold" textLength="9.05" lengthAdjust="spacingAndGlyphs" xml:space="preserve">6</text>
<line x1="834.05" y1="1694.40" x2="834.05" y2="1700.40" stroke="#000" stroke-width="2.1"/>
<text x="829.06" y="1716.90" font-size="13.6" font-weight="bold" textLength="9.05" lengthAdjust="spacingAndGlyphs" xml:space="preserve">9</text>
<line x1="865.15" y1="1694.40" x2="865.15" y2="1700.40" stroke="#000" stroke-width="2.1"/>
<text x="855.49" y="1716.90" font-size="13.6" font-weight="bold" textLength="18.00" lengthAdjust="spacingAndGlyphs" xml:space="preserve">12</text>
<line x1="896.25" y1="1694.40" x2="896.25" y2="1700.40" stroke="#000" stroke-width="2.1"/>
<text x="886.60" y="1716.90" font-size="13.6" font-weight="bold" textLength="17.74" lengthAdjust="spacingAndGlyphs" xml:space="preserve">15</text>
<line x1="927.35" y1="1694.40" x2="927.35" y2="1700.40" stroke="#000" stroke-width="2.1"/>
<text x="917.70" y="1716.90" font-size="13.6" font-weight="bold" textLength="17.80" lengthAdjust="spacingAndGlyphs" xml:space="preserve">18</text>
<line x1="958.45" y1="1694.40" x2="958.45" y2="1700.40" stroke="#000" stroke-width="2.1"/>
<text x="949.29" y="1716.90" font-size="13.6" font-weight="bold" textLength="17.24" lengthAdjust="spacingAndGlyphs" xml:space="preserve">21</text>
<line x1="989.55" y1="1694.40" x2="989.55" y2="1700.40" stroke="#000" stroke-width="2.1"/>
<text x="980.40" y="1716.90" font-size="13.6" font-weight="bold" textLength="16.89" lengthAdjust="spacingAndGlyphs" xml:space="preserve">24</text>
<text x="847.59" y="1736.75" font-size="13.4" font-weight="bold" textLength="92.17" lengthAdjust="spacingAndGlyphs" xml:space="preserve">time [months]</text>
<g transform="rotate(-90 684.65 1590.00)"><text x="622.44" y="1590.00" font-size="13.4" font-weight="bold" textLength="124.67" lengthAdjust="spacingAndGlyphs" xml:space="preserve">overall survival [%]</text></g>
<polyline points="742.50,1498.00 748.00,1498.00 748.00,1521.00 753.60,1521.00 753.60,1548.00 754.75,1548.00 754.75,1581.75 756.90,1581.75 756.90,1615.50 890.90,1615.50 890.90,1648.10 895.40,1648.10 895.40,1681.90" fill="none" stroke="#CC0A64" stroke-width="4.0" stroke-linejoin="round"/>
<polyline points="741.25,1498.00 745.75,1498.00 745.75,1514.25 749.10,1514.25 749.10,1532.25 773.90,1532.25 773.90,1550.25 777.25,1550.25 777.25,1569.40 822.25,1569.40 822.25,1587.40 829.00,1587.40 829.00,1607.20 930.25,1607.20 930.25,1631.70 965.80,1631.70" fill="none" stroke="#000" stroke-width="4.0" stroke-linejoin="round"/>
<line x1="741.25" y1="1498.00" x2="741.25" y2="1491.00" stroke="#000" stroke-width="3.6"/>
<line x1="771.60" y1="1533.25" x2="771.60" y2="1526.25" stroke="#000" stroke-width="3.6"/>
<line x1="895.40" y1="1608.20" x2="895.40" y2="1601.20" stroke="#000" stroke-width="3.6"/>
<line x1="952.80" y1="1632.70" x2="952.80" y2="1625.70" stroke="#000" stroke-width="3.6"/>
<line x1="965.80" y1="1632.70" x2="965.80" y2="1625.70" stroke="#000" stroke-width="3.6"/>
<text x="871.80" y="1474.10" font-size="12" textLength="94.57" lengthAdjust="spacingAndGlyphs" xml:space="preserve">Aneuploidy Score</text>
<text x="883.28" y="1488.75" font-size="12" textLength="73.68" lengthAdjust="spacingAndGlyphs" xml:space="preserve">of FFPE tissue</text>
<text x="984.26" y="1488.75" font-size="12" font-weight="bold" textLength="61.14" lengthAdjust="spacingAndGlyphs" xml:space="preserve">Median OS</text>
<line x1="877.95" y1="1504.50" x2="898.75" y2="1504.50" stroke="#000" stroke-width="4.3"/>
<line x1="888.35" y1="1504.50" x2="888.35" y2="1498.70" stroke="#000" stroke-width="4.2"/>
<line x1="877.95" y1="1523.40" x2="898.75" y2="1523.40" stroke="#CC0A64" stroke-width="4.3"/>
<line x1="888.35" y1="1523.40" x2="888.35" y2="1517.60" stroke="#CC0A64" stroke-width="4.2"/>
<text x="904.00" y="1509.50" font-size="12" textLength="15.14" lengthAdjust="spacingAndGlyphs" xml:space="preserve">AS</text><text x="919.14" y="1505.30" font-size="7.4" textLength="10.50" lengthAdjust="spacingAndGlyphs" xml:space="preserve">low</text><text x="929.65" y="1509.50" font-size="12" textLength="26.81" lengthAdjust="spacingAndGlyphs" xml:space="preserve"> (&lt; 9)</text>
<text x="904.00" y="1527.00" font-size="12" textLength="15.32" lengthAdjust="spacingAndGlyphs" xml:space="preserve">AS</text><text x="919.32" y="1522.80" font-size="7.4" textLength="13.39" lengthAdjust="spacingAndGlyphs" xml:space="preserve">high</text><text x="932.72" y="1527.00" font-size="12" textLength="26.72" lengthAdjust="spacingAndGlyphs" xml:space="preserve"> (≥ 9)</text>
<text x="977.78" y="1509.50" font-size="12" textLength="104.66" lengthAdjust="spacingAndGlyphs" xml:space="preserve">8.5 (95% CI: 3.3-NA)</text>
<text x="978.11" y="1527.00" font-size="12" textLength="104.33" lengthAdjust="spacingAndGlyphs" xml:space="preserve">1.5 (95% CI: 1.4-NA)</text>
<text x="954.82" y="1547.25" font-size="12" textLength="144.65" lengthAdjust="spacingAndGlyphs" xml:space="preserve">HR  2.32 (95% CI: 0.73-7.36)</text>
<text x="955.42" y="1564.10" font-size="12" font-style="italic" textLength="7.64" lengthAdjust="spacingAndGlyphs" xml:space="preserve">P</text><text x="963.06" y="1564.10" font-size="12" textLength="35.36" lengthAdjust="spacingAndGlyphs" xml:space="preserve">=0.142</text>
<text x="699.41" y="1759.40" font-size="12" textLength="14.20" lengthAdjust="spacingAndGlyphs" xml:space="preserve">AS</text><text x="713.61" y="1755.20" font-size="7.4" textLength="9.85" lengthAdjust="spacingAndGlyphs" xml:space="preserve">low</text><text x="723.45" y="1759.40" font-size="12" textLength="2.96" lengthAdjust="spacingAndGlyphs" xml:space="preserve">:</text>
<text x="695.70" y="1777.30" font-size="12" textLength="14.77" lengthAdjust="spacingAndGlyphs" xml:space="preserve">AS</text><text x="710.47" y="1773.10" font-size="7.4" textLength="12.91" lengthAdjust="spacingAndGlyphs" xml:space="preserve">high</text><text x="723.37" y="1777.30" font-size="12" textLength="3.08" lengthAdjust="spacingAndGlyphs" xml:space="preserve">:</text>
<text x="733.35" y="1759.40" font-size="12" xml:space="preserve">11</text>
<text x="736.42" y="1777.30" font-size="12" fill="#C41E30" xml:space="preserve">8</text>
<text x="767.52" y="1759.40" font-size="12" xml:space="preserve">8</text>
<text x="767.55" y="1777.30" font-size="12" fill="#C41E30" xml:space="preserve">3</text>
<text x="798.58" y="1759.40" font-size="12" xml:space="preserve">6</text>
<text x="798.65" y="1777.30" font-size="12" fill="#C41E30" xml:space="preserve">3</text>
<text x="829.75" y="1759.40" font-size="12" xml:space="preserve">4</text>
<text x="829.70" y="1777.30" font-size="12" fill="#C41E30" xml:space="preserve">2</text>
<text x="860.85" y="1759.40" font-size="12" xml:space="preserve">4</text>
<text x="860.80" y="1777.30" font-size="12" fill="#C41E30" xml:space="preserve">2</text>
<text x="891.95" y="1759.40" font-size="12" xml:space="preserve">3</text>
<text x="891.92" y="1777.30" font-size="12" fill="#C41E30" xml:space="preserve">0</text>
<text x="923.05" y="1759.40" font-size="12" xml:space="preserve">3</text>
<text x="923.02" y="1777.30" font-size="12" fill="#C41E30" xml:space="preserve">0</text>
<text x="954.10" y="1759.40" font-size="12" xml:space="preserve">2</text>
<text x="954.12" y="1777.30" font-size="12" fill="#C41E30" xml:space="preserve">0</text>
<text x="985.05" y="1759.40" font-size="12" xml:space="preserve">1</text>
<text x="985.22" y="1777.30" font-size="12" fill="#C41E30" xml:space="preserve">0</text>
</svg>
</body></html>
